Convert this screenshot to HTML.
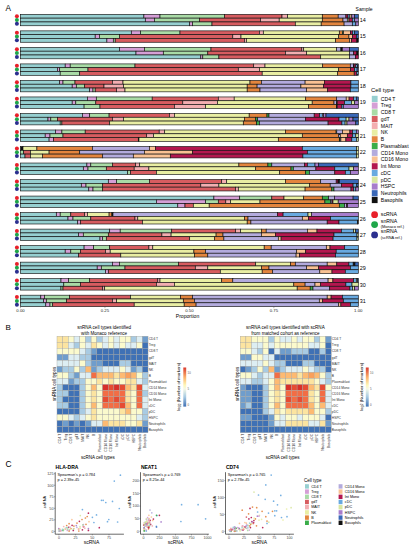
<!DOCTYPE html><html><head><meta charset="utf-8"><style>html,body{margin:0;padding:0;background:#fff;width:414px;height:550px;overflow:hidden}svg{display:block}text{font-family:"Liberation Sans",sans-serif}</style></head><body>
<svg width="414" height="550" viewBox="0 0 414 550">
<rect width="414" height="550" fill="#fff"/>
<text x="5.60" y="10.95" font-size="8.2" fill="#000">A</text>
<rect x="20.50" y="14.35" width="123.40" height="3.8" fill="#96CFD0" stroke="#111" stroke-width="0.65"/>
<rect x="143.90" y="14.35" width="16.10" height="3.8" fill="#D59FD6" stroke="#111" stroke-width="0.65"/>
<rect x="160.00" y="14.35" width="64.40" height="3.8" fill="#A9DBA6" stroke="#111" stroke-width="0.65"/>
<rect x="224.40" y="14.35" width="57.60" height="3.8" fill="#D75C60" stroke="#111" stroke-width="0.65"/>
<rect x="282.00" y="14.35" width="5.60" height="3.8" fill="#F3AEB1" stroke="#111" stroke-width="0.65"/>
<rect x="287.60" y="14.35" width="34.70" height="3.8" fill="#E9EEA3" stroke="#111" stroke-width="0.65"/>
<rect x="322.30" y="14.35" width="15.90" height="3.8" fill="#E3853E" stroke="#111" stroke-width="0.65"/>
<rect x="338.20" y="14.35" width="7.70" height="3.8" fill="#B3ABDD" stroke="#111" stroke-width="0.65"/>
<rect x="345.90" y="14.35" width="2.10" height="3.8" fill="#B3174F" stroke="#111" stroke-width="0.65"/>
<rect x="348.00" y="14.35" width="1.90" height="3.8" fill="#68A9E0" stroke="#111" stroke-width="0.65"/>
<rect x="349.90" y="14.35" width="1.90" height="3.8" fill="#F9C193" stroke="#111" stroke-width="0.65"/>
<rect x="351.80" y="14.35" width="2.90" height="3.8" fill="#A77DCC" stroke="#111" stroke-width="0.65"/>
<rect x="354.70" y="14.35" width="3.60" height="3.8" fill="#3A68B8" stroke="#111" stroke-width="0.65"/>
<rect x="20.50" y="18.15" width="124.80" height="3.8" fill="#96CFD0" stroke="#111" stroke-width="0.65"/>
<rect x="145.30" y="18.15" width="9.10" height="3.8" fill="#D59FD6" stroke="#111" stroke-width="0.65"/>
<rect x="154.40" y="18.15" width="45.00" height="3.8" fill="#A9DBA6" stroke="#111" stroke-width="0.65"/>
<rect x="199.40" y="18.15" width="61.10" height="3.8" fill="#D75C60" stroke="#111" stroke-width="0.65"/>
<rect x="260.50" y="18.15" width="18.70" height="3.8" fill="#F3AEB1" stroke="#111" stroke-width="0.65"/>
<rect x="279.20" y="18.15" width="43.10" height="3.8" fill="#E9EEA3" stroke="#111" stroke-width="0.65"/>
<rect x="322.30" y="18.15" width="20.70" height="3.8" fill="#E3853E" stroke="#111" stroke-width="0.65"/>
<rect x="343.00" y="18.15" width="4.30" height="3.8" fill="#B3ABDD" stroke="#111" stroke-width="0.65"/>
<rect x="347.30" y="18.15" width="1.70" height="3.8" fill="#D8E6A0" stroke="#111" stroke-width="0.65"/>
<rect x="349.00" y="18.15" width="3.30" height="3.8" fill="#B3174F" stroke="#111" stroke-width="0.65"/>
<rect x="352.30" y="18.15" width="2.40" height="3.8" fill="#68A9E0" stroke="#111" stroke-width="0.65"/>
<rect x="354.70" y="18.15" width="3.60" height="3.8" fill="#A77DCC" stroke="#111" stroke-width="0.65"/>
<rect x="20.50" y="21.95" width="169.20" height="3.8" fill="#96CFD0" stroke="#111" stroke-width="0.65"/>
<rect x="189.70" y="21.95" width="2.80" height="3.8" fill="#D59FD6" stroke="#111" stroke-width="0.65"/>
<rect x="192.50" y="21.95" width="19.50" height="3.8" fill="#A9DBA6" stroke="#111" stroke-width="0.65"/>
<rect x="212.00" y="21.95" width="83.30" height="3.8" fill="#D75C60" stroke="#111" stroke-width="0.65"/>
<rect x="295.30" y="21.95" width="25.90" height="3.8" fill="#E9EEA3" stroke="#111" stroke-width="0.65"/>
<rect x="321.20" y="21.95" width="22.90" height="3.8" fill="#E3853E" stroke="#111" stroke-width="0.65"/>
<rect x="344.10" y="21.95" width="8.20" height="3.8" fill="#B3ABDD" stroke="#111" stroke-width="0.65"/>
<rect x="352.30" y="21.95" width="3.50" height="3.8" fill="#68A9E0" stroke="#111" stroke-width="0.65"/>
<rect x="355.80" y="21.95" width="2.50" height="3.8" fill="#A77DCC" stroke="#111" stroke-width="0.65"/>
<circle cx="16.9" cy="16.25" r="2.0" fill="#E8202A"/>
<circle cx="16.9" cy="20.05" r="2.0" fill="#1FA64A"/>
<circle cx="16.9" cy="23.85" r="2.0" fill="#2B2F8F"/>
<text x="359.80" y="21.55" font-size="5.4" fill="#000">14</text>
<rect x="20.50" y="30.87" width="110.80" height="3.8" fill="#96CFD0" stroke="#111" stroke-width="0.65"/>
<rect x="131.30" y="30.87" width="9.30" height="3.8" fill="#D59FD6" stroke="#111" stroke-width="0.65"/>
<rect x="140.60" y="30.87" width="39.40" height="3.8" fill="#A9DBA6" stroke="#111" stroke-width="0.65"/>
<rect x="180.00" y="30.87" width="79.40" height="3.8" fill="#D75C60" stroke="#111" stroke-width="0.65"/>
<rect x="259.40" y="30.87" width="3.90" height="3.8" fill="#F3AEB1" stroke="#111" stroke-width="0.65"/>
<rect x="263.30" y="30.87" width="76.00" height="3.8" fill="#E9EEA3" stroke="#111" stroke-width="0.65"/>
<rect x="339.30" y="30.87" width="3.20" height="3.8" fill="#E3853E" stroke="#111" stroke-width="0.65"/>
<rect x="342.50" y="30.87" width="1.00" height="3.8" fill="#3AAD4A" stroke="#111" stroke-width="0.65"/>
<rect x="343.50" y="30.87" width="6.90" height="3.8" fill="#F9C193" stroke="#111" stroke-width="0.65"/>
<rect x="350.40" y="30.87" width="2.10" height="3.8" fill="#B3174F" stroke="#111" stroke-width="0.65"/>
<rect x="352.50" y="30.87" width="2.20" height="3.8" fill="#68A9E0" stroke="#111" stroke-width="0.65"/>
<rect x="354.70" y="30.87" width="3.60" height="3.8" fill="#3A68B8" stroke="#111" stroke-width="0.65"/>
<rect x="20.50" y="34.67" width="74.70" height="3.8" fill="#96CFD0" stroke="#111" stroke-width="0.65"/>
<rect x="95.20" y="34.67" width="4.20" height="3.8" fill="#D59FD6" stroke="#111" stroke-width="0.65"/>
<rect x="99.40" y="34.67" width="20.00" height="3.8" fill="#A9DBA6" stroke="#111" stroke-width="0.65"/>
<rect x="119.40" y="34.67" width="113.40" height="3.8" fill="#D75C60" stroke="#111" stroke-width="0.65"/>
<rect x="232.80" y="34.67" width="8.20" height="3.8" fill="#F3AEB1" stroke="#111" stroke-width="0.65"/>
<rect x="241.00" y="34.67" width="97.70" height="3.8" fill="#E9EEA3" stroke="#111" stroke-width="0.65"/>
<rect x="338.70" y="34.67" width="10.20" height="3.8" fill="#E3853E" stroke="#111" stroke-width="0.65"/>
<rect x="348.90" y="34.67" width="3.70" height="3.8" fill="#F9C193" stroke="#111" stroke-width="0.65"/>
<rect x="352.60" y="34.67" width="3.70" height="3.8" fill="#B3174F" stroke="#111" stroke-width="0.65"/>
<rect x="356.30" y="34.67" width="2.00" height="3.8" fill="#3A68B8" stroke="#111" stroke-width="0.65"/>
<rect x="20.50" y="38.47" width="86.40" height="3.8" fill="#96CFD0" stroke="#111" stroke-width="0.65"/>
<rect x="106.90" y="38.47" width="6.40" height="3.8" fill="#D59FD6" stroke="#111" stroke-width="0.65"/>
<rect x="113.30" y="38.47" width="1.90" height="3.8" fill="#A9DBA6" stroke="#111" stroke-width="0.65"/>
<rect x="115.20" y="38.47" width="129.20" height="3.8" fill="#D75C60" stroke="#111" stroke-width="0.65"/>
<rect x="244.40" y="38.47" width="2.00" height="3.8" fill="#F3AEB1" stroke="#111" stroke-width="0.65"/>
<rect x="246.40" y="38.47" width="89.20" height="3.8" fill="#E9EEA3" stroke="#111" stroke-width="0.65"/>
<rect x="335.60" y="38.47" width="13.80" height="3.8" fill="#E3853E" stroke="#111" stroke-width="0.65"/>
<rect x="349.40" y="38.47" width="2.10" height="3.8" fill="#F9C193" stroke="#111" stroke-width="0.65"/>
<rect x="351.50" y="38.47" width="5.30" height="3.8" fill="#B3174F" stroke="#111" stroke-width="0.65"/>
<rect x="356.80" y="38.47" width="1.50" height="3.8" fill="#111111" stroke="#111" stroke-width="0.65"/>
<circle cx="16.9" cy="32.77" r="2.0" fill="#E8202A"/>
<circle cx="16.9" cy="36.57" r="2.0" fill="#1FA64A"/>
<circle cx="16.9" cy="40.37" r="2.0" fill="#2B2F8F"/>
<text x="359.80" y="38.13" font-size="5.4" fill="#000">15</text>
<rect x="20.50" y="47.39" width="98.90" height="3.8" fill="#96CFD0" stroke="#111" stroke-width="0.65"/>
<rect x="119.40" y="47.39" width="25.00" height="3.8" fill="#D59FD6" stroke="#111" stroke-width="0.65"/>
<rect x="144.40" y="47.39" width="66.60" height="3.8" fill="#A9DBA6" stroke="#111" stroke-width="0.65"/>
<rect x="211.00" y="47.39" width="90.80" height="3.8" fill="#D75C60" stroke="#111" stroke-width="0.65"/>
<rect x="301.80" y="47.39" width="1.90" height="3.8" fill="#F3AEB1" stroke="#111" stroke-width="0.65"/>
<rect x="303.70" y="47.39" width="32.90" height="3.8" fill="#E9EEA3" stroke="#111" stroke-width="0.65"/>
<rect x="336.60" y="47.39" width="4.30" height="3.8" fill="#B3ABDD" stroke="#111" stroke-width="0.65"/>
<rect x="340.90" y="47.39" width="1.40" height="3.8" fill="#111111" stroke="#111" stroke-width="0.65"/>
<rect x="342.30" y="47.39" width="7.10" height="3.8" fill="#A77DCC" stroke="#111" stroke-width="0.65"/>
<rect x="349.40" y="47.39" width="8.90" height="3.8" fill="#3A68B8" stroke="#111" stroke-width="0.65"/>
<rect x="20.50" y="51.19" width="115.50" height="3.8" fill="#96CFD0" stroke="#111" stroke-width="0.65"/>
<rect x="136.00" y="51.19" width="27.30" height="3.8" fill="#D59FD6" stroke="#111" stroke-width="0.65"/>
<rect x="163.30" y="51.19" width="44.50" height="3.8" fill="#A9DBA6" stroke="#111" stroke-width="0.65"/>
<rect x="207.80" y="51.19" width="77.60" height="3.8" fill="#D75C60" stroke="#111" stroke-width="0.65"/>
<rect x="285.40" y="51.19" width="21.20" height="3.8" fill="#F3AEB1" stroke="#111" stroke-width="0.65"/>
<rect x="306.60" y="51.19" width="42.80" height="3.8" fill="#E9EEA3" stroke="#111" stroke-width="0.65"/>
<rect x="349.40" y="51.19" width="4.20" height="3.8" fill="#B3ABDD" stroke="#111" stroke-width="0.65"/>
<rect x="353.60" y="51.19" width="3.20" height="3.8" fill="#B3174F" stroke="#111" stroke-width="0.65"/>
<rect x="356.80" y="51.19" width="1.50" height="3.8" fill="#111111" stroke="#111" stroke-width="0.65"/>
<rect x="20.50" y="54.99" width="180.30" height="3.8" fill="#96CFD0" stroke="#111" stroke-width="0.65"/>
<rect x="200.80" y="54.99" width="2.00" height="3.8" fill="#D59FD6" stroke="#111" stroke-width="0.65"/>
<rect x="202.80" y="54.99" width="16.10" height="3.8" fill="#A9DBA6" stroke="#111" stroke-width="0.65"/>
<rect x="218.90" y="54.99" width="101.80" height="3.8" fill="#D75C60" stroke="#111" stroke-width="0.65"/>
<rect x="320.70" y="54.99" width="28.70" height="3.8" fill="#E9EEA3" stroke="#111" stroke-width="0.65"/>
<rect x="349.40" y="54.99" width="6.00" height="3.8" fill="#B3ABDD" stroke="#111" stroke-width="0.65"/>
<rect x="355.40" y="54.99" width="2.90" height="3.8" fill="#B3174F" stroke="#111" stroke-width="0.65"/>
<circle cx="16.9" cy="49.29" r="2.0" fill="#E8202A"/>
<circle cx="16.9" cy="53.09" r="2.0" fill="#1FA64A"/>
<circle cx="16.9" cy="56.89" r="2.0" fill="#2B2F8F"/>
<text x="359.80" y="54.71" font-size="5.4" fill="#000">16</text>
<rect x="20.50" y="63.91" width="44.70" height="3.8" fill="#96CFD0" stroke="#111" stroke-width="0.65"/>
<rect x="65.20" y="63.91" width="5.00" height="3.8" fill="#D59FD6" stroke="#111" stroke-width="0.65"/>
<rect x="70.20" y="63.91" width="64.80" height="3.8" fill="#A9DBA6" stroke="#111" stroke-width="0.65"/>
<rect x="135.00" y="63.91" width="118.70" height="3.8" fill="#D75C60" stroke="#111" stroke-width="0.65"/>
<rect x="253.70" y="63.91" width="11.30" height="3.8" fill="#F3AEB1" stroke="#111" stroke-width="0.65"/>
<rect x="265.00" y="63.91" width="57.70" height="3.8" fill="#E9EEA3" stroke="#111" stroke-width="0.65"/>
<rect x="322.70" y="63.91" width="27.60" height="3.8" fill="#E3853E" stroke="#111" stroke-width="0.65"/>
<rect x="350.30" y="63.91" width="3.10" height="3.8" fill="#B3ABDD" stroke="#111" stroke-width="0.65"/>
<rect x="353.40" y="63.91" width="0.60" height="3.8" fill="#111111" stroke="#111" stroke-width="0.65"/>
<rect x="354.00" y="63.91" width="1.80" height="3.8" fill="#B3174F" stroke="#111" stroke-width="0.65"/>
<rect x="355.80" y="63.91" width="1.80" height="3.8" fill="#68A9E0" stroke="#111" stroke-width="0.65"/>
<rect x="357.60" y="63.91" width="0.70" height="3.8" fill="#3A68B8" stroke="#111" stroke-width="0.65"/>
<rect x="20.50" y="67.71" width="36.90" height="3.8" fill="#96CFD0" stroke="#111" stroke-width="0.65"/>
<rect x="57.40" y="67.71" width="2.30" height="3.8" fill="#D59FD6" stroke="#111" stroke-width="0.65"/>
<rect x="59.70" y="67.71" width="28.30" height="3.8" fill="#A9DBA6" stroke="#111" stroke-width="0.65"/>
<rect x="88.00" y="67.71" width="150.30" height="3.8" fill="#D75C60" stroke="#111" stroke-width="0.65"/>
<rect x="238.30" y="67.71" width="21.10" height="3.8" fill="#F3AEB1" stroke="#111" stroke-width="0.65"/>
<rect x="259.40" y="67.71" width="79.30" height="3.8" fill="#E9EEA3" stroke="#111" stroke-width="0.65"/>
<rect x="338.70" y="67.71" width="11.70" height="3.8" fill="#E3853E" stroke="#111" stroke-width="0.65"/>
<rect x="350.40" y="67.71" width="4.30" height="3.8" fill="#B3174F" stroke="#111" stroke-width="0.65"/>
<rect x="354.70" y="67.71" width="2.40" height="3.8" fill="#68A9E0" stroke="#111" stroke-width="0.65"/>
<rect x="357.10" y="67.71" width="1.20" height="3.8" fill="#3A68B8" stroke="#111" stroke-width="0.65"/>
<rect x="20.50" y="71.51" width="39.70" height="3.8" fill="#96CFD0" stroke="#111" stroke-width="0.65"/>
<rect x="60.20" y="71.51" width="19.50" height="3.8" fill="#A9DBA6" stroke="#111" stroke-width="0.65"/>
<rect x="79.70" y="71.51" width="182.50" height="3.8" fill="#D75C60" stroke="#111" stroke-width="0.65"/>
<rect x="262.20" y="71.51" width="75.50" height="3.8" fill="#E9EEA3" stroke="#111" stroke-width="0.65"/>
<rect x="337.70" y="71.51" width="16.50" height="3.8" fill="#E3853E" stroke="#111" stroke-width="0.65"/>
<rect x="354.20" y="71.51" width="2.60" height="3.8" fill="#B3174F" stroke="#111" stroke-width="0.65"/>
<rect x="356.80" y="71.51" width="1.50" height="3.8" fill="#68A9E0" stroke="#111" stroke-width="0.65"/>
<circle cx="16.9" cy="65.81" r="2.0" fill="#E8202A"/>
<circle cx="16.9" cy="69.61" r="2.0" fill="#1FA64A"/>
<circle cx="16.9" cy="73.41" r="2.0" fill="#2B2F8F"/>
<text x="359.80" y="71.29" font-size="5.4" fill="#000">17</text>
<rect x="20.50" y="80.43" width="39.20" height="3.8" fill="#96CFD0" stroke="#111" stroke-width="0.65"/>
<rect x="59.70" y="80.43" width="3.30" height="3.8" fill="#D59FD6" stroke="#111" stroke-width="0.65"/>
<rect x="63.00" y="80.43" width="12.00" height="3.8" fill="#A9DBA6" stroke="#111" stroke-width="0.65"/>
<rect x="75.00" y="80.43" width="37.40" height="3.8" fill="#D75C60" stroke="#111" stroke-width="0.65"/>
<rect x="112.40" y="80.43" width="10.60" height="3.8" fill="#F3AEB1" stroke="#111" stroke-width="0.65"/>
<rect x="123.00" y="80.43" width="127.00" height="3.8" fill="#E9EEA3" stroke="#111" stroke-width="0.65"/>
<rect x="250.00" y="80.43" width="11.40" height="3.8" fill="#E3853E" stroke="#111" stroke-width="0.65"/>
<rect x="261.40" y="80.43" width="43.70" height="3.8" fill="#B3ABDD" stroke="#111" stroke-width="0.65"/>
<rect x="305.10" y="80.43" width="19.30" height="3.8" fill="#F9C193" stroke="#111" stroke-width="0.65"/>
<rect x="324.40" y="80.43" width="26.50" height="3.8" fill="#B3174F" stroke="#111" stroke-width="0.65"/>
<rect x="350.90" y="80.43" width="7.40" height="3.8" fill="#68A9E0" stroke="#111" stroke-width="0.65"/>
<rect x="20.50" y="84.23" width="51.70" height="3.8" fill="#96CFD0" stroke="#111" stroke-width="0.65"/>
<rect x="72.20" y="84.23" width="4.10" height="3.8" fill="#D59FD6" stroke="#111" stroke-width="0.65"/>
<rect x="76.30" y="84.23" width="8.40" height="3.8" fill="#A9DBA6" stroke="#111" stroke-width="0.65"/>
<rect x="84.70" y="84.23" width="19.30" height="3.8" fill="#D75C60" stroke="#111" stroke-width="0.65"/>
<rect x="104.00" y="84.23" width="19.50" height="3.8" fill="#F3AEB1" stroke="#111" stroke-width="0.65"/>
<rect x="123.50" y="84.23" width="123.70" height="3.8" fill="#E9EEA3" stroke="#111" stroke-width="0.65"/>
<rect x="247.20" y="84.23" width="9.90" height="3.8" fill="#E3853E" stroke="#111" stroke-width="0.65"/>
<rect x="257.10" y="84.23" width="43.80" height="3.8" fill="#B3ABDD" stroke="#111" stroke-width="0.65"/>
<rect x="300.90" y="84.23" width="22.60" height="3.8" fill="#F9C193" stroke="#111" stroke-width="0.65"/>
<rect x="323.50" y="84.23" width="27.40" height="3.8" fill="#B3174F" stroke="#111" stroke-width="0.65"/>
<rect x="350.90" y="84.23" width="7.40" height="3.8" fill="#68A9E0" stroke="#111" stroke-width="0.65"/>
<rect x="20.50" y="88.03" width="69.20" height="3.8" fill="#96CFD0" stroke="#111" stroke-width="0.65"/>
<rect x="89.70" y="88.03" width="3.30" height="3.8" fill="#D59FD6" stroke="#111" stroke-width="0.65"/>
<rect x="93.00" y="88.03" width="2.20" height="3.8" fill="#A9DBA6" stroke="#111" stroke-width="0.65"/>
<rect x="95.20" y="88.03" width="21.40" height="3.8" fill="#D75C60" stroke="#111" stroke-width="0.65"/>
<rect x="116.60" y="88.03" width="8.40" height="3.8" fill="#F3AEB1" stroke="#111" stroke-width="0.65"/>
<rect x="125.00" y="88.03" width="122.20" height="3.8" fill="#E9EEA3" stroke="#111" stroke-width="0.65"/>
<rect x="247.20" y="88.03" width="12.80" height="3.8" fill="#E3853E" stroke="#111" stroke-width="0.65"/>
<rect x="260.00" y="88.03" width="46.60" height="3.8" fill="#B3ABDD" stroke="#111" stroke-width="0.65"/>
<rect x="306.60" y="88.03" width="21.10" height="3.8" fill="#F9C193" stroke="#111" stroke-width="0.65"/>
<rect x="327.70" y="88.03" width="22.60" height="3.8" fill="#B3174F" stroke="#111" stroke-width="0.65"/>
<rect x="350.30" y="88.03" width="8.00" height="3.8" fill="#68A9E0" stroke="#111" stroke-width="0.65"/>
<circle cx="16.9" cy="82.33" r="2.0" fill="#E8202A"/>
<circle cx="16.9" cy="86.13" r="2.0" fill="#1FA64A"/>
<circle cx="16.9" cy="89.93" r="2.0" fill="#2B2F8F"/>
<text x="359.80" y="87.87" font-size="5.4" fill="#000">18</text>
<rect x="20.50" y="96.95" width="66.90" height="3.8" fill="#96CFD0" stroke="#111" stroke-width="0.65"/>
<rect x="87.40" y="96.95" width="8.90" height="3.8" fill="#D59FD6" stroke="#111" stroke-width="0.65"/>
<rect x="96.30" y="96.95" width="55.90" height="3.8" fill="#A9DBA6" stroke="#111" stroke-width="0.65"/>
<rect x="152.20" y="96.95" width="66.10" height="3.8" fill="#D75C60" stroke="#111" stroke-width="0.65"/>
<rect x="218.30" y="96.95" width="15.90" height="3.8" fill="#F3AEB1" stroke="#111" stroke-width="0.65"/>
<rect x="234.20" y="96.95" width="71.50" height="3.8" fill="#E9EEA3" stroke="#111" stroke-width="0.65"/>
<rect x="305.70" y="96.95" width="30.90" height="3.8" fill="#E3853E" stroke="#111" stroke-width="0.65"/>
<rect x="336.60" y="96.95" width="9.60" height="3.8" fill="#B3ABDD" stroke="#111" stroke-width="0.65"/>
<rect x="346.20" y="96.95" width="2.90" height="3.8" fill="#F9C193" stroke="#111" stroke-width="0.65"/>
<rect x="349.10" y="96.95" width="4.50" height="3.8" fill="#B3174F" stroke="#111" stroke-width="0.65"/>
<rect x="353.60" y="96.95" width="2.70" height="3.8" fill="#68A9E0" stroke="#111" stroke-width="0.65"/>
<rect x="356.30" y="96.95" width="2.00" height="3.8" fill="#3A68B8" stroke="#111" stroke-width="0.65"/>
<rect x="20.50" y="100.75" width="51.70" height="3.8" fill="#96CFD0" stroke="#111" stroke-width="0.65"/>
<rect x="72.20" y="100.75" width="3.60" height="3.8" fill="#D59FD6" stroke="#111" stroke-width="0.65"/>
<rect x="75.80" y="100.75" width="20.00" height="3.8" fill="#A9DBA6" stroke="#111" stroke-width="0.65"/>
<rect x="95.80" y="100.75" width="87.00" height="3.8" fill="#D75C60" stroke="#111" stroke-width="0.65"/>
<rect x="182.80" y="100.75" width="34.70" height="3.8" fill="#F3AEB1" stroke="#111" stroke-width="0.65"/>
<rect x="217.50" y="100.75" width="94.70" height="3.8" fill="#E9EEA3" stroke="#111" stroke-width="0.65"/>
<rect x="312.20" y="100.75" width="21.80" height="3.8" fill="#E3853E" stroke="#111" stroke-width="0.65"/>
<rect x="334.00" y="100.75" width="2.60" height="3.8" fill="#B3ABDD" stroke="#111" stroke-width="0.65"/>
<rect x="336.60" y="100.75" width="0.60" height="3.8" fill="#111111" stroke="#111" stroke-width="0.65"/>
<rect x="337.20" y="100.75" width="7.40" height="3.8" fill="#B3174F" stroke="#111" stroke-width="0.65"/>
<rect x="344.60" y="100.75" width="6.90" height="3.8" fill="#68A9E0" stroke="#111" stroke-width="0.65"/>
<rect x="351.50" y="100.75" width="3.20" height="3.8" fill="#D8E6A0" stroke="#111" stroke-width="0.65"/>
<rect x="354.70" y="100.75" width="3.60" height="3.8" fill="#A77DCC" stroke="#111" stroke-width="0.65"/>
<rect x="20.50" y="104.55" width="63.60" height="3.8" fill="#96CFD0" stroke="#111" stroke-width="0.65"/>
<rect x="84.10" y="104.55" width="15.90" height="3.8" fill="#A9DBA6" stroke="#111" stroke-width="0.65"/>
<rect x="100.00" y="104.55" width="74.40" height="3.8" fill="#D75C60" stroke="#111" stroke-width="0.65"/>
<rect x="174.40" y="104.55" width="31.20" height="3.8" fill="#F3AEB1" stroke="#111" stroke-width="0.65"/>
<rect x="205.60" y="104.55" width="102.90" height="3.8" fill="#E9EEA3" stroke="#111" stroke-width="0.65"/>
<rect x="308.50" y="104.55" width="28.10" height="3.8" fill="#E3853E" stroke="#111" stroke-width="0.65"/>
<rect x="336.60" y="104.55" width="0.60" height="3.8" fill="#111111" stroke="#111" stroke-width="0.65"/>
<rect x="337.20" y="104.55" width="4.70" height="3.8" fill="#B3174F" stroke="#111" stroke-width="0.65"/>
<rect x="341.90" y="104.55" width="1.40" height="3.8" fill="#68A9E0" stroke="#111" stroke-width="0.65"/>
<rect x="343.30" y="104.55" width="15.00" height="3.8" fill="#A77DCC" stroke="#111" stroke-width="0.65"/>
<circle cx="16.9" cy="98.85" r="2.0" fill="#E8202A"/>
<circle cx="16.9" cy="102.65" r="2.0" fill="#1FA64A"/>
<circle cx="16.9" cy="106.45" r="2.0" fill="#2B2F8F"/>
<text x="359.80" y="104.45" font-size="5.4" fill="#000">19</text>
<rect x="20.50" y="113.47" width="61.90" height="3.8" fill="#96CFD0" stroke="#111" stroke-width="0.65"/>
<rect x="82.40" y="113.47" width="7.30" height="3.8" fill="#D59FD6" stroke="#111" stroke-width="0.65"/>
<rect x="89.70" y="113.47" width="19.40" height="3.8" fill="#A9DBA6" stroke="#111" stroke-width="0.65"/>
<rect x="109.10" y="113.47" width="60.30" height="3.8" fill="#D75C60" stroke="#111" stroke-width="0.65"/>
<rect x="169.40" y="113.47" width="5.00" height="3.8" fill="#F3AEB1" stroke="#111" stroke-width="0.65"/>
<rect x="174.40" y="113.47" width="74.80" height="3.8" fill="#E9EEA3" stroke="#111" stroke-width="0.65"/>
<rect x="249.20" y="113.47" width="17.80" height="3.8" fill="#E3853E" stroke="#111" stroke-width="0.65"/>
<rect x="267.00" y="113.47" width="2.00" height="3.8" fill="#3AAD4A" stroke="#111" stroke-width="0.65"/>
<rect x="269.00" y="113.47" width="45.20" height="3.8" fill="#B3ABDD" stroke="#111" stroke-width="0.65"/>
<rect x="314.20" y="113.47" width="5.40" height="3.8" fill="#B3174F" stroke="#111" stroke-width="0.65"/>
<rect x="319.60" y="113.47" width="2.70" height="3.8" fill="#68A9E0" stroke="#111" stroke-width="0.65"/>
<rect x="322.30" y="113.47" width="1.20" height="3.8" fill="#B3ABDD" stroke="#111" stroke-width="0.65"/>
<rect x="323.50" y="113.47" width="2.50" height="3.8" fill="#A77DCC" stroke="#111" stroke-width="0.65"/>
<rect x="326.00" y="113.47" width="32.30" height="3.8" fill="#3A68B8" stroke="#111" stroke-width="0.65"/>
<rect x="20.50" y="117.27" width="27.50" height="3.8" fill="#96CFD0" stroke="#111" stroke-width="0.65"/>
<rect x="48.00" y="117.27" width="2.80" height="3.8" fill="#D59FD6" stroke="#111" stroke-width="0.65"/>
<rect x="50.80" y="117.27" width="6.60" height="3.8" fill="#A9DBA6" stroke="#111" stroke-width="0.65"/>
<rect x="57.40" y="117.27" width="55.00" height="3.8" fill="#D75C60" stroke="#111" stroke-width="0.65"/>
<rect x="112.40" y="117.27" width="11.10" height="3.8" fill="#F3AEB1" stroke="#111" stroke-width="0.65"/>
<rect x="123.50" y="117.27" width="120.90" height="3.8" fill="#E9EEA3" stroke="#111" stroke-width="0.65"/>
<rect x="244.40" y="117.27" width="11.30" height="3.8" fill="#E3853E" stroke="#111" stroke-width="0.65"/>
<rect x="255.70" y="117.27" width="2.00" height="3.8" fill="#3AAD4A" stroke="#111" stroke-width="0.65"/>
<rect x="257.70" y="117.27" width="48.00" height="3.8" fill="#B3ABDD" stroke="#111" stroke-width="0.65"/>
<rect x="305.70" y="117.27" width="33.30" height="3.8" fill="#B3174F" stroke="#111" stroke-width="0.65"/>
<rect x="339.00" y="117.27" width="7.10" height="3.8" fill="#68A9E0" stroke="#111" stroke-width="0.65"/>
<rect x="346.10" y="117.27" width="2.90" height="3.8" fill="#D8E6A0" stroke="#111" stroke-width="0.65"/>
<rect x="349.00" y="117.27" width="4.00" height="3.8" fill="#A77DCC" stroke="#111" stroke-width="0.65"/>
<rect x="353.00" y="117.27" width="5.30" height="3.8" fill="#3A68B8" stroke="#111" stroke-width="0.65"/>
<rect x="20.50" y="121.07" width="39.70" height="3.8" fill="#96CFD0" stroke="#111" stroke-width="0.65"/>
<rect x="60.20" y="121.07" width="1.70" height="3.8" fill="#A9DBA6" stroke="#111" stroke-width="0.65"/>
<rect x="61.90" y="121.07" width="47.80" height="3.8" fill="#D75C60" stroke="#111" stroke-width="0.65"/>
<rect x="109.70" y="121.07" width="133.60" height="3.8" fill="#E9EEA3" stroke="#111" stroke-width="0.65"/>
<rect x="243.30" y="121.07" width="13.30" height="3.8" fill="#E3853E" stroke="#111" stroke-width="0.65"/>
<rect x="256.60" y="121.07" width="2.80" height="3.8" fill="#3AAD4A" stroke="#111" stroke-width="0.65"/>
<rect x="259.40" y="121.07" width="68.70" height="3.8" fill="#B3ABDD" stroke="#111" stroke-width="0.65"/>
<rect x="328.10" y="121.07" width="13.80" height="3.8" fill="#B3174F" stroke="#111" stroke-width="0.65"/>
<rect x="341.90" y="121.07" width="3.20" height="3.8" fill="#68A9E0" stroke="#111" stroke-width="0.65"/>
<rect x="345.10" y="121.07" width="1.90" height="3.8" fill="#D8E6A0" stroke="#111" stroke-width="0.65"/>
<rect x="347.00" y="121.07" width="8.80" height="3.8" fill="#A77DCC" stroke="#111" stroke-width="0.65"/>
<rect x="355.80" y="121.07" width="2.50" height="3.8" fill="#3A68B8" stroke="#111" stroke-width="0.65"/>
<circle cx="16.9" cy="115.37" r="2.0" fill="#E8202A"/>
<circle cx="16.9" cy="119.17" r="2.0" fill="#1FA64A"/>
<circle cx="16.9" cy="122.97" r="2.0" fill="#2B2F8F"/>
<text x="359.80" y="121.03" font-size="5.4" fill="#000">20</text>
<rect x="20.50" y="129.99" width="35.00" height="3.8" fill="#96CFD0" stroke="#111" stroke-width="0.65"/>
<rect x="55.50" y="129.99" width="6.40" height="3.8" fill="#D59FD6" stroke="#111" stroke-width="0.65"/>
<rect x="61.90" y="129.99" width="23.30" height="3.8" fill="#A9DBA6" stroke="#111" stroke-width="0.65"/>
<rect x="85.20" y="129.99" width="74.00" height="3.8" fill="#D75C60" stroke="#111" stroke-width="0.65"/>
<rect x="159.20" y="129.99" width="5.50" height="3.8" fill="#F3AEB1" stroke="#111" stroke-width="0.65"/>
<rect x="164.70" y="129.99" width="120.70" height="3.8" fill="#E9EEA3" stroke="#111" stroke-width="0.65"/>
<rect x="285.40" y="129.99" width="50.70" height="3.8" fill="#E3853E" stroke="#111" stroke-width="0.65"/>
<rect x="336.10" y="129.99" width="0.70" height="3.8" fill="#3AAD4A" stroke="#111" stroke-width="0.65"/>
<rect x="336.80" y="129.99" width="5.70" height="3.8" fill="#B3ABDD" stroke="#111" stroke-width="0.65"/>
<rect x="342.50" y="129.99" width="7.40" height="3.8" fill="#F9C193" stroke="#111" stroke-width="0.65"/>
<rect x="349.90" y="129.99" width="2.70" height="3.8" fill="#B3174F" stroke="#111" stroke-width="0.65"/>
<rect x="352.60" y="129.99" width="3.70" height="3.8" fill="#68A9E0" stroke="#111" stroke-width="0.65"/>
<rect x="356.30" y="129.99" width="2.00" height="3.8" fill="#A77DCC" stroke="#111" stroke-width="0.65"/>
<rect x="20.50" y="133.79" width="24.70" height="3.8" fill="#96CFD0" stroke="#111" stroke-width="0.65"/>
<rect x="45.20" y="133.79" width="4.80" height="3.8" fill="#D59FD6" stroke="#111" stroke-width="0.65"/>
<rect x="50.00" y="133.79" width="13.00" height="3.8" fill="#A9DBA6" stroke="#111" stroke-width="0.65"/>
<rect x="63.00" y="133.79" width="83.70" height="3.8" fill="#D75C60" stroke="#111" stroke-width="0.65"/>
<rect x="146.70" y="133.79" width="6.90" height="3.8" fill="#F3AEB1" stroke="#111" stroke-width="0.65"/>
<rect x="153.60" y="133.79" width="148.70" height="3.8" fill="#E9EEA3" stroke="#111" stroke-width="0.65"/>
<rect x="302.30" y="133.79" width="36.40" height="3.8" fill="#E3853E" stroke="#111" stroke-width="0.65"/>
<rect x="338.70" y="133.79" width="1.60" height="3.8" fill="#B3ABDD" stroke="#111" stroke-width="0.65"/>
<rect x="340.30" y="133.79" width="7.00" height="3.8" fill="#F9C193" stroke="#111" stroke-width="0.65"/>
<rect x="347.30" y="133.79" width="5.30" height="3.8" fill="#B3174F" stroke="#111" stroke-width="0.65"/>
<rect x="352.60" y="133.79" width="3.20" height="3.8" fill="#68A9E0" stroke="#111" stroke-width="0.65"/>
<rect x="355.80" y="133.79" width="2.50" height="3.8" fill="#D8E6A0" stroke="#111" stroke-width="0.65"/>
<rect x="20.50" y="137.59" width="28.60" height="3.8" fill="#96CFD0" stroke="#111" stroke-width="0.65"/>
<rect x="49.10" y="137.59" width="4.50" height="3.8" fill="#D59FD6" stroke="#111" stroke-width="0.65"/>
<rect x="53.60" y="137.59" width="84.70" height="3.8" fill="#D75C60" stroke="#111" stroke-width="0.65"/>
<rect x="138.30" y="137.59" width="0.70" height="3.8" fill="#111111" stroke="#111" stroke-width="0.65"/>
<rect x="139.00" y="137.59" width="139.30" height="3.8" fill="#E9EEA3" stroke="#111" stroke-width="0.65"/>
<rect x="278.30" y="137.59" width="61.00" height="3.8" fill="#E3853E" stroke="#111" stroke-width="0.65"/>
<rect x="339.30" y="137.59" width="0.70" height="3.8" fill="#3AAD4A" stroke="#111" stroke-width="0.65"/>
<rect x="340.00" y="137.59" width="0.90" height="3.8" fill="#B3ABDD" stroke="#111" stroke-width="0.65"/>
<rect x="340.90" y="137.59" width="5.00" height="3.8" fill="#F9C193" stroke="#111" stroke-width="0.65"/>
<rect x="345.90" y="137.59" width="5.90" height="3.8" fill="#B3174F" stroke="#111" stroke-width="0.65"/>
<rect x="351.80" y="137.59" width="5.00" height="3.8" fill="#68A9E0" stroke="#111" stroke-width="0.65"/>
<rect x="356.80" y="137.59" width="1.50" height="3.8" fill="#D8E6A0" stroke="#111" stroke-width="0.65"/>
<circle cx="16.9" cy="131.89" r="2.0" fill="#E8202A"/>
<circle cx="16.9" cy="135.69" r="2.0" fill="#1FA64A"/>
<circle cx="16.9" cy="139.49" r="2.0" fill="#2B2F8F"/>
<text x="359.80" y="137.61" font-size="5.4" fill="#000">21</text>
<rect x="20.50" y="146.51" width="2.50" height="3.8" fill="#111111" stroke="#111" stroke-width="0.65"/>
<rect x="23.00" y="146.51" width="13.90" height="3.8" fill="#E9EEA3" stroke="#111" stroke-width="0.65"/>
<rect x="36.90" y="146.51" width="55.50" height="3.8" fill="#E3853E" stroke="#111" stroke-width="0.65"/>
<rect x="92.40" y="146.51" width="57.00" height="3.8" fill="#B3ABDD" stroke="#111" stroke-width="0.65"/>
<rect x="149.40" y="146.51" width="6.20" height="3.8" fill="#F9C193" stroke="#111" stroke-width="0.65"/>
<rect x="155.60" y="146.51" width="146.70" height="3.8" fill="#B3174F" stroke="#111" stroke-width="0.65"/>
<rect x="302.30" y="146.51" width="54.20" height="3.8" fill="#68A9E0" stroke="#111" stroke-width="0.65"/>
<rect x="356.50" y="146.51" width="1.80" height="3.8" fill="#D8E6A0" stroke="#111" stroke-width="0.65"/>
<rect x="20.50" y="150.31" width="3.10" height="3.8" fill="#A9DBA6" stroke="#111" stroke-width="0.65"/>
<rect x="23.60" y="150.31" width="6.90" height="3.8" fill="#D75C60" stroke="#111" stroke-width="0.65"/>
<rect x="30.50" y="150.31" width="18.60" height="3.8" fill="#E9EEA3" stroke="#111" stroke-width="0.65"/>
<rect x="49.10" y="150.31" width="30.60" height="3.8" fill="#E3853E" stroke="#111" stroke-width="0.65"/>
<rect x="79.70" y="150.31" width="64.70" height="3.8" fill="#B3ABDD" stroke="#111" stroke-width="0.65"/>
<rect x="144.40" y="150.31" width="48.10" height="3.8" fill="#F9C193" stroke="#111" stroke-width="0.65"/>
<rect x="192.50" y="150.31" width="114.90" height="3.8" fill="#B3174F" stroke="#111" stroke-width="0.65"/>
<rect x="307.40" y="150.31" width="49.10" height="3.8" fill="#68A9E0" stroke="#111" stroke-width="0.65"/>
<rect x="356.50" y="150.31" width="1.80" height="3.8" fill="#D8E6A0" stroke="#111" stroke-width="0.65"/>
<rect x="20.50" y="154.11" width="4.50" height="3.8" fill="#96CFD0" stroke="#111" stroke-width="0.65"/>
<rect x="25.00" y="154.11" width="5.50" height="3.8" fill="#D75C60" stroke="#111" stroke-width="0.65"/>
<rect x="30.50" y="154.11" width="11.90" height="3.8" fill="#E9EEA3" stroke="#111" stroke-width="0.65"/>
<rect x="42.40" y="154.11" width="60.30" height="3.8" fill="#E3853E" stroke="#111" stroke-width="0.65"/>
<rect x="102.70" y="154.11" width="30.60" height="3.8" fill="#B3ABDD" stroke="#111" stroke-width="0.65"/>
<rect x="133.30" y="154.11" width="37.00" height="3.8" fill="#F9C193" stroke="#111" stroke-width="0.65"/>
<rect x="170.30" y="154.11" width="132.60" height="3.8" fill="#B3174F" stroke="#111" stroke-width="0.65"/>
<rect x="302.90" y="154.11" width="53.60" height="3.8" fill="#68A9E0" stroke="#111" stroke-width="0.65"/>
<rect x="356.50" y="154.11" width="1.80" height="3.8" fill="#D8E6A0" stroke="#111" stroke-width="0.65"/>
<circle cx="16.9" cy="148.41" r="2.0" fill="#E8202A"/>
<circle cx="16.9" cy="152.21" r="2.0" fill="#1FA64A"/>
<circle cx="16.9" cy="156.01" r="2.0" fill="#2B2F8F"/>
<text x="359.80" y="154.19" font-size="5.4" fill="#000">22</text>
<rect x="20.50" y="163.03" width="66.40" height="3.8" fill="#96CFD0" stroke="#111" stroke-width="0.65"/>
<rect x="86.90" y="163.03" width="3.90" height="3.8" fill="#D59FD6" stroke="#111" stroke-width="0.65"/>
<rect x="90.80" y="163.03" width="21.60" height="3.8" fill="#A9DBA6" stroke="#111" stroke-width="0.65"/>
<rect x="112.40" y="163.03" width="23.20" height="3.8" fill="#D75C60" stroke="#111" stroke-width="0.65"/>
<rect x="135.60" y="163.03" width="4.10" height="3.8" fill="#F3AEB1" stroke="#111" stroke-width="0.65"/>
<rect x="139.70" y="163.03" width="99.20" height="3.8" fill="#E9EEA3" stroke="#111" stroke-width="0.65"/>
<rect x="238.90" y="163.03" width="29.00" height="3.8" fill="#E3853E" stroke="#111" stroke-width="0.65"/>
<rect x="267.90" y="163.03" width="3.90" height="3.8" fill="#3AAD4A" stroke="#111" stroke-width="0.65"/>
<rect x="271.80" y="163.03" width="32.80" height="3.8" fill="#B3ABDD" stroke="#111" stroke-width="0.65"/>
<rect x="304.60" y="163.03" width="2.80" height="3.8" fill="#B3174F" stroke="#111" stroke-width="0.65"/>
<rect x="307.40" y="163.03" width="7.60" height="3.8" fill="#68A9E0" stroke="#111" stroke-width="0.65"/>
<rect x="315.00" y="163.03" width="3.70" height="3.8" fill="#A77DCC" stroke="#111" stroke-width="0.65"/>
<rect x="318.70" y="163.03" width="39.60" height="3.8" fill="#3A68B8" stroke="#111" stroke-width="0.65"/>
<rect x="20.50" y="166.83" width="62.80" height="3.8" fill="#96CFD0" stroke="#111" stroke-width="0.65"/>
<rect x="83.30" y="166.83" width="4.70" height="3.8" fill="#D59FD6" stroke="#111" stroke-width="0.65"/>
<rect x="88.00" y="166.83" width="18.30" height="3.8" fill="#A9DBA6" stroke="#111" stroke-width="0.65"/>
<rect x="106.30" y="166.83" width="27.90" height="3.8" fill="#D75C60" stroke="#111" stroke-width="0.65"/>
<rect x="134.20" y="166.83" width="14.70" height="3.8" fill="#F3AEB1" stroke="#111" stroke-width="0.65"/>
<rect x="148.90" y="166.83" width="106.80" height="3.8" fill="#E9EEA3" stroke="#111" stroke-width="0.65"/>
<rect x="255.70" y="166.83" width="35.30" height="3.8" fill="#E3853E" stroke="#111" stroke-width="0.65"/>
<rect x="291.00" y="166.83" width="2.30" height="3.8" fill="#3AAD4A" stroke="#111" stroke-width="0.65"/>
<rect x="293.30" y="166.83" width="22.60" height="3.8" fill="#B3ABDD" stroke="#111" stroke-width="0.65"/>
<rect x="315.90" y="166.83" width="18.90" height="3.8" fill="#B3174F" stroke="#111" stroke-width="0.65"/>
<rect x="334.80" y="166.83" width="14.20" height="3.8" fill="#68A9E0" stroke="#111" stroke-width="0.65"/>
<rect x="349.00" y="166.83" width="4.50" height="3.8" fill="#D8E6A0" stroke="#111" stroke-width="0.65"/>
<rect x="353.50" y="166.83" width="4.80" height="3.8" fill="#A77DCC" stroke="#111" stroke-width="0.65"/>
<rect x="20.50" y="170.63" width="107.20" height="3.8" fill="#96CFD0" stroke="#111" stroke-width="0.65"/>
<rect x="127.70" y="170.63" width="2.80" height="3.8" fill="#A9DBA6" stroke="#111" stroke-width="0.65"/>
<rect x="130.50" y="170.63" width="25.90" height="3.8" fill="#D75C60" stroke="#111" stroke-width="0.65"/>
<rect x="156.40" y="170.63" width="123.30" height="3.8" fill="#E9EEA3" stroke="#111" stroke-width="0.65"/>
<rect x="279.70" y="170.63" width="26.00" height="3.8" fill="#E3853E" stroke="#111" stroke-width="0.65"/>
<rect x="305.70" y="170.63" width="3.70" height="3.8" fill="#3AAD4A" stroke="#111" stroke-width="0.65"/>
<rect x="309.40" y="170.63" width="25.40" height="3.8" fill="#B3ABDD" stroke="#111" stroke-width="0.65"/>
<rect x="334.80" y="170.63" width="10.50" height="3.8" fill="#B3174F" stroke="#111" stroke-width="0.65"/>
<rect x="345.30" y="170.63" width="5.00" height="3.8" fill="#68A9E0" stroke="#111" stroke-width="0.65"/>
<rect x="350.30" y="170.63" width="8.00" height="3.8" fill="#A77DCC" stroke="#111" stroke-width="0.65"/>
<circle cx="16.9" cy="164.93" r="2.0" fill="#E8202A"/>
<circle cx="16.9" cy="168.73" r="2.0" fill="#1FA64A"/>
<circle cx="16.9" cy="172.53" r="2.0" fill="#2B2F8F"/>
<text x="359.80" y="170.77" font-size="5.4" fill="#000">23</text>
<rect x="20.50" y="179.55" width="87.80" height="3.8" fill="#96CFD0" stroke="#111" stroke-width="0.65"/>
<rect x="108.30" y="179.55" width="8.30" height="3.8" fill="#D59FD6" stroke="#111" stroke-width="0.65"/>
<rect x="116.60" y="179.55" width="32.80" height="3.8" fill="#A9DBA6" stroke="#111" stroke-width="0.65"/>
<rect x="149.40" y="179.55" width="72.30" height="3.8" fill="#D75C60" stroke="#111" stroke-width="0.65"/>
<rect x="221.70" y="179.55" width="5.00" height="3.8" fill="#F3AEB1" stroke="#111" stroke-width="0.65"/>
<rect x="226.70" y="179.55" width="58.70" height="3.8" fill="#E9EEA3" stroke="#111" stroke-width="0.65"/>
<rect x="285.40" y="179.55" width="35.30" height="3.8" fill="#E3853E" stroke="#111" stroke-width="0.65"/>
<rect x="320.70" y="179.55" width="15.50" height="3.8" fill="#B3ABDD" stroke="#111" stroke-width="0.65"/>
<rect x="336.20" y="179.55" width="1.80" height="3.8" fill="#B3174F" stroke="#111" stroke-width="0.65"/>
<rect x="338.00" y="179.55" width="1.50" height="3.8" fill="#111111" stroke="#111" stroke-width="0.65"/>
<rect x="339.50" y="179.55" width="18.80" height="3.8" fill="#3A68B8" stroke="#111" stroke-width="0.65"/>
<rect x="20.50" y="183.35" width="60.80" height="3.8" fill="#96CFD0" stroke="#111" stroke-width="0.65"/>
<rect x="81.30" y="183.35" width="4.70" height="3.8" fill="#D59FD6" stroke="#111" stroke-width="0.65"/>
<rect x="86.00" y="183.35" width="16.70" height="3.8" fill="#A9DBA6" stroke="#111" stroke-width="0.65"/>
<rect x="102.70" y="183.35" width="98.10" height="3.8" fill="#D75C60" stroke="#111" stroke-width="0.65"/>
<rect x="200.80" y="183.35" width="18.10" height="3.8" fill="#F3AEB1" stroke="#111" stroke-width="0.65"/>
<rect x="218.90" y="183.35" width="90.50" height="3.8" fill="#E9EEA3" stroke="#111" stroke-width="0.65"/>
<rect x="309.40" y="183.35" width="20.80" height="3.8" fill="#E3853E" stroke="#111" stroke-width="0.65"/>
<rect x="330.20" y="183.35" width="11.20" height="3.8" fill="#B3ABDD" stroke="#111" stroke-width="0.65"/>
<rect x="341.40" y="183.35" width="11.70" height="3.8" fill="#B3174F" stroke="#111" stroke-width="0.65"/>
<rect x="353.10" y="183.35" width="3.70" height="3.8" fill="#68A9E0" stroke="#111" stroke-width="0.65"/>
<rect x="356.80" y="183.35" width="1.50" height="3.8" fill="#3A68B8" stroke="#111" stroke-width="0.65"/>
<rect x="20.50" y="187.15" width="68.30" height="3.8" fill="#96CFD0" stroke="#111" stroke-width="0.65"/>
<rect x="88.80" y="187.15" width="4.20" height="3.8" fill="#D59FD6" stroke="#111" stroke-width="0.65"/>
<rect x="93.00" y="187.15" width="9.70" height="3.8" fill="#A9DBA6" stroke="#111" stroke-width="0.65"/>
<rect x="102.70" y="187.15" width="132.90" height="3.8" fill="#D75C60" stroke="#111" stroke-width="0.65"/>
<rect x="235.60" y="187.15" width="2.70" height="3.8" fill="#F3AEB1" stroke="#111" stroke-width="0.65"/>
<rect x="238.30" y="187.15" width="66.80" height="3.8" fill="#E9EEA3" stroke="#111" stroke-width="0.65"/>
<rect x="305.10" y="187.15" width="26.70" height="3.8" fill="#E3853E" stroke="#111" stroke-width="0.65"/>
<rect x="331.80" y="187.15" width="2.20" height="3.8" fill="#3AAD4A" stroke="#111" stroke-width="0.65"/>
<rect x="334.00" y="187.15" width="17.00" height="3.8" fill="#B3ABDD" stroke="#111" stroke-width="0.65"/>
<rect x="351.00" y="187.15" width="2.60" height="3.8" fill="#B3174F" stroke="#111" stroke-width="0.65"/>
<rect x="353.60" y="187.15" width="2.20" height="3.8" fill="#68A9E0" stroke="#111" stroke-width="0.65"/>
<rect x="355.80" y="187.15" width="2.50" height="3.8" fill="#A77DCC" stroke="#111" stroke-width="0.65"/>
<circle cx="16.9" cy="181.45" r="2.0" fill="#E8202A"/>
<circle cx="16.9" cy="185.25" r="2.0" fill="#1FA64A"/>
<circle cx="16.9" cy="189.05" r="2.0" fill="#2B2F8F"/>
<text x="359.80" y="187.35" font-size="5.4" fill="#000">24</text>
<rect x="20.50" y="196.07" width="193.40" height="3.8" fill="#96CFD0" stroke="#111" stroke-width="0.65"/>
<rect x="213.90" y="196.07" width="25.80" height="3.8" fill="#D59FD6" stroke="#111" stroke-width="0.65"/>
<rect x="239.70" y="196.07" width="32.10" height="3.8" fill="#A9DBA6" stroke="#111" stroke-width="0.65"/>
<rect x="271.80" y="196.07" width="12.20" height="3.8" fill="#D75C60" stroke="#111" stroke-width="0.65"/>
<rect x="284.00" y="196.07" width="19.70" height="3.8" fill="#E9EEA3" stroke="#111" stroke-width="0.65"/>
<rect x="303.70" y="196.07" width="18.60" height="3.8" fill="#E3853E" stroke="#111" stroke-width="0.65"/>
<rect x="322.30" y="196.07" width="6.30" height="3.8" fill="#3AAD4A" stroke="#111" stroke-width="0.65"/>
<rect x="328.60" y="196.07" width="5.90" height="3.8" fill="#B3ABDD" stroke="#111" stroke-width="0.65"/>
<rect x="334.50" y="196.07" width="18.60" height="3.8" fill="#A77DCC" stroke="#111" stroke-width="0.65"/>
<rect x="353.10" y="196.07" width="5.20" height="3.8" fill="#3A68B8" stroke="#111" stroke-width="0.65"/>
<rect x="20.50" y="199.87" width="135.90" height="3.8" fill="#96CFD0" stroke="#111" stroke-width="0.65"/>
<rect x="156.40" y="199.87" width="49.20" height="3.8" fill="#D59FD6" stroke="#111" stroke-width="0.65"/>
<rect x="205.60" y="199.87" width="12.70" height="3.8" fill="#A9DBA6" stroke="#111" stroke-width="0.65"/>
<rect x="218.30" y="199.87" width="7.50" height="3.8" fill="#D75C60" stroke="#111" stroke-width="0.65"/>
<rect x="225.80" y="199.87" width="4.80" height="3.8" fill="#F3AEB1" stroke="#111" stroke-width="0.65"/>
<rect x="230.60" y="199.87" width="29.40" height="3.8" fill="#E9EEA3" stroke="#111" stroke-width="0.65"/>
<rect x="260.00" y="199.87" width="64.90" height="3.8" fill="#E3853E" stroke="#111" stroke-width="0.65"/>
<rect x="324.90" y="199.87" width="5.70" height="3.8" fill="#3AAD4A" stroke="#111" stroke-width="0.65"/>
<rect x="330.60" y="199.87" width="1.40" height="3.8" fill="#B3ABDD" stroke="#111" stroke-width="0.65"/>
<rect x="332.00" y="199.87" width="1.00" height="3.8" fill="#B3174F" stroke="#111" stroke-width="0.65"/>
<rect x="333.00" y="199.87" width="5.20" height="3.8" fill="#D8E6A0" stroke="#111" stroke-width="0.65"/>
<rect x="338.20" y="199.87" width="20.10" height="3.8" fill="#A77DCC" stroke="#111" stroke-width="0.65"/>
<rect x="20.50" y="203.67" width="157.30" height="3.8" fill="#96CFD0" stroke="#111" stroke-width="0.65"/>
<rect x="177.80" y="203.67" width="7.20" height="3.8" fill="#D59FD6" stroke="#111" stroke-width="0.65"/>
<rect x="185.00" y="203.67" width="8.30" height="3.8" fill="#D75C60" stroke="#111" stroke-width="0.65"/>
<rect x="193.30" y="203.67" width="15.90" height="3.8" fill="#E9EEA3" stroke="#111" stroke-width="0.65"/>
<rect x="209.20" y="203.67" width="130.10" height="3.8" fill="#E3853E" stroke="#111" stroke-width="0.65"/>
<rect x="339.30" y="203.67" width="5.30" height="3.8" fill="#3AAD4A" stroke="#111" stroke-width="0.65"/>
<rect x="344.60" y="203.67" width="2.10" height="3.8" fill="#B3ABDD" stroke="#111" stroke-width="0.65"/>
<rect x="346.70" y="203.67" width="0.90" height="3.8" fill="#B3174F" stroke="#111" stroke-width="0.65"/>
<rect x="347.60" y="203.67" width="10.70" height="3.8" fill="#A77DCC" stroke="#111" stroke-width="0.65"/>
<circle cx="16.9" cy="197.97" r="2.0" fill="#E8202A"/>
<circle cx="16.9" cy="201.77" r="2.0" fill="#1FA64A"/>
<circle cx="16.9" cy="205.57" r="2.0" fill="#2B2F8F"/>
<text x="359.80" y="203.93" font-size="5.4" fill="#000">25</text>
<rect x="20.50" y="212.59" width="35.80" height="3.8" fill="#96CFD0" stroke="#111" stroke-width="0.65"/>
<rect x="56.30" y="212.59" width="3.90" height="3.8" fill="#D59FD6" stroke="#111" stroke-width="0.65"/>
<rect x="60.20" y="212.59" width="10.60" height="3.8" fill="#A9DBA6" stroke="#111" stroke-width="0.65"/>
<rect x="70.80" y="212.59" width="13.90" height="3.8" fill="#D75C60" stroke="#111" stroke-width="0.65"/>
<rect x="84.70" y="212.59" width="2.70" height="3.8" fill="#F3AEB1" stroke="#111" stroke-width="0.65"/>
<rect x="87.40" y="212.59" width="21.70" height="3.8" fill="#E9EEA3" stroke="#111" stroke-width="0.65"/>
<rect x="109.10" y="212.59" width="2.80" height="3.8" fill="#E3853E" stroke="#111" stroke-width="0.65"/>
<rect x="111.90" y="212.59" width="1.10" height="3.8" fill="#111111" stroke="#111" stroke-width="0.65"/>
<rect x="113.00" y="212.59" width="164.50" height="3.8" fill="#B3ABDD" stroke="#111" stroke-width="0.65"/>
<rect x="277.50" y="212.59" width="5.60" height="3.8" fill="#B3174F" stroke="#111" stroke-width="0.65"/>
<rect x="283.10" y="212.59" width="24.90" height="3.8" fill="#68A9E0" stroke="#111" stroke-width="0.65"/>
<rect x="308.00" y="212.59" width="3.40" height="3.8" fill="#D8E6A0" stroke="#111" stroke-width="0.65"/>
<rect x="311.40" y="212.59" width="46.90" height="3.8" fill="#A77DCC" stroke="#111" stroke-width="0.65"/>
<rect x="20.50" y="216.39" width="47.50" height="3.8" fill="#96CFD0" stroke="#111" stroke-width="0.65"/>
<rect x="68.00" y="216.39" width="5.00" height="3.8" fill="#D59FD6" stroke="#111" stroke-width="0.65"/>
<rect x="73.00" y="216.39" width="17.80" height="3.8" fill="#A9DBA6" stroke="#111" stroke-width="0.65"/>
<rect x="90.80" y="216.39" width="44.20" height="3.8" fill="#D75C60" stroke="#111" stroke-width="0.65"/>
<rect x="135.00" y="216.39" width="2.80" height="3.8" fill="#F3AEB1" stroke="#111" stroke-width="0.65"/>
<rect x="137.80" y="216.39" width="106.60" height="3.8" fill="#E9EEA3" stroke="#111" stroke-width="0.65"/>
<rect x="244.40" y="216.39" width="3.60" height="3.8" fill="#E3853E" stroke="#111" stroke-width="0.65"/>
<rect x="248.00" y="216.39" width="54.30" height="3.8" fill="#B3ABDD" stroke="#111" stroke-width="0.65"/>
<rect x="302.30" y="216.39" width="6.20" height="3.8" fill="#F9C193" stroke="#111" stroke-width="0.65"/>
<rect x="308.50" y="216.39" width="22.10" height="3.8" fill="#B3174F" stroke="#111" stroke-width="0.65"/>
<rect x="330.60" y="216.39" width="27.70" height="3.8" fill="#68A9E0" stroke="#111" stroke-width="0.65"/>
<rect x="20.50" y="220.19" width="57.20" height="3.8" fill="#96CFD0" stroke="#111" stroke-width="0.65"/>
<rect x="77.70" y="220.19" width="2.80" height="3.8" fill="#D59FD6" stroke="#111" stroke-width="0.65"/>
<rect x="80.50" y="220.19" width="62.00" height="3.8" fill="#D75C60" stroke="#111" stroke-width="0.65"/>
<rect x="142.50" y="220.19" width="104.70" height="3.8" fill="#E9EEA3" stroke="#111" stroke-width="0.65"/>
<rect x="247.20" y="220.19" width="3.70" height="3.8" fill="#E3853E" stroke="#111" stroke-width="0.65"/>
<rect x="250.90" y="220.19" width="76.30" height="3.8" fill="#B3ABDD" stroke="#111" stroke-width="0.65"/>
<rect x="327.20" y="220.19" width="11.80" height="3.8" fill="#B3174F" stroke="#111" stroke-width="0.65"/>
<rect x="339.00" y="220.19" width="18.50" height="3.8" fill="#68A9E0" stroke="#111" stroke-width="0.65"/>
<rect x="357.50" y="220.19" width="0.80" height="3.8" fill="#111111" stroke="#111" stroke-width="0.65"/>
<circle cx="16.9" cy="214.49" r="2.0" fill="#E8202A"/>
<circle cx="16.9" cy="218.29" r="2.0" fill="#1FA64A"/>
<circle cx="16.9" cy="222.09" r="2.0" fill="#2B2F8F"/>
<text x="359.80" y="220.51" font-size="5.4" fill="#000">26</text>
<rect x="20.50" y="229.11" width="89.20" height="3.8" fill="#96CFD0" stroke="#111" stroke-width="0.65"/>
<rect x="109.70" y="229.11" width="10.50" height="3.8" fill="#D59FD6" stroke="#111" stroke-width="0.65"/>
<rect x="120.20" y="229.11" width="51.50" height="3.8" fill="#A9DBA6" stroke="#111" stroke-width="0.65"/>
<rect x="171.70" y="229.11" width="63.90" height="3.8" fill="#D75C60" stroke="#111" stroke-width="0.65"/>
<rect x="235.60" y="229.11" width="5.00" height="3.8" fill="#F3AEB1" stroke="#111" stroke-width="0.65"/>
<rect x="240.60" y="229.11" width="20.80" height="3.8" fill="#E9EEA3" stroke="#111" stroke-width="0.65"/>
<rect x="261.40" y="229.11" width="4.80" height="3.8" fill="#E3853E" stroke="#111" stroke-width="0.65"/>
<rect x="266.20" y="229.11" width="41.20" height="3.8" fill="#B3ABDD" stroke="#111" stroke-width="0.65"/>
<rect x="307.40" y="229.11" width="9.60" height="3.8" fill="#F9C193" stroke="#111" stroke-width="0.65"/>
<rect x="317.00" y="229.11" width="24.40" height="3.8" fill="#B3174F" stroke="#111" stroke-width="0.65"/>
<rect x="341.40" y="229.11" width="12.20" height="3.8" fill="#68A9E0" stroke="#111" stroke-width="0.65"/>
<rect x="353.60" y="229.11" width="1.80" height="3.8" fill="#D8E6A0" stroke="#111" stroke-width="0.65"/>
<rect x="355.40" y="229.11" width="2.90" height="3.8" fill="#3A68B8" stroke="#111" stroke-width="0.65"/>
<rect x="20.50" y="232.91" width="58.10" height="3.8" fill="#96CFD0" stroke="#111" stroke-width="0.65"/>
<rect x="78.60" y="232.91" width="4.70" height="3.8" fill="#D59FD6" stroke="#111" stroke-width="0.65"/>
<rect x="83.30" y="232.91" width="25.00" height="3.8" fill="#A9DBA6" stroke="#111" stroke-width="0.65"/>
<rect x="108.30" y="232.91" width="53.60" height="3.8" fill="#D75C60" stroke="#111" stroke-width="0.65"/>
<rect x="161.90" y="232.91" width="9.20" height="3.8" fill="#F3AEB1" stroke="#111" stroke-width="0.65"/>
<rect x="171.10" y="232.91" width="45.00" height="3.8" fill="#E9EEA3" stroke="#111" stroke-width="0.65"/>
<rect x="216.10" y="232.91" width="6.90" height="3.8" fill="#E3853E" stroke="#111" stroke-width="0.65"/>
<rect x="223.00" y="232.91" width="38.40" height="3.8" fill="#B3ABDD" stroke="#111" stroke-width="0.65"/>
<rect x="261.40" y="232.91" width="14.10" height="3.8" fill="#F9C193" stroke="#111" stroke-width="0.65"/>
<rect x="275.50" y="232.91" width="58.50" height="3.8" fill="#B3174F" stroke="#111" stroke-width="0.65"/>
<rect x="334.00" y="232.91" width="23.00" height="3.8" fill="#68A9E0" stroke="#111" stroke-width="0.65"/>
<rect x="357.00" y="232.91" width="1.30" height="3.8" fill="#D8E6A0" stroke="#111" stroke-width="0.65"/>
<rect x="20.50" y="236.71" width="79.50" height="3.8" fill="#96CFD0" stroke="#111" stroke-width="0.65"/>
<rect x="100.00" y="236.71" width="2.70" height="3.8" fill="#D59FD6" stroke="#111" stroke-width="0.65"/>
<rect x="102.70" y="236.71" width="3.60" height="3.8" fill="#A9DBA6" stroke="#111" stroke-width="0.65"/>
<rect x="106.30" y="236.71" width="83.40" height="3.8" fill="#D75C60" stroke="#111" stroke-width="0.65"/>
<rect x="189.70" y="236.71" width="25.00" height="3.8" fill="#E9EEA3" stroke="#111" stroke-width="0.65"/>
<rect x="214.70" y="236.71" width="9.20" height="3.8" fill="#E3853E" stroke="#111" stroke-width="0.65"/>
<rect x="223.90" y="236.71" width="54.40" height="3.8" fill="#B3ABDD" stroke="#111" stroke-width="0.65"/>
<rect x="278.30" y="236.71" width="2.80" height="3.8" fill="#F9C193" stroke="#111" stroke-width="0.65"/>
<rect x="281.10" y="236.71" width="52.00" height="3.8" fill="#B3174F" stroke="#111" stroke-width="0.65"/>
<rect x="333.10" y="236.71" width="23.90" height="3.8" fill="#68A9E0" stroke="#111" stroke-width="0.65"/>
<rect x="357.00" y="236.71" width="1.30" height="3.8" fill="#D8E6A0" stroke="#111" stroke-width="0.65"/>
<circle cx="16.9" cy="231.01" r="2.0" fill="#E8202A"/>
<circle cx="16.9" cy="234.81" r="2.0" fill="#1FA64A"/>
<circle cx="16.9" cy="238.61" r="2.0" fill="#2B2F8F"/>
<text x="359.80" y="237.09" font-size="5.4" fill="#000">27</text>
<rect x="20.50" y="245.63" width="63.60" height="3.8" fill="#96CFD0" stroke="#111" stroke-width="0.65"/>
<rect x="84.10" y="245.63" width="9.50" height="3.8" fill="#D59FD6" stroke="#111" stroke-width="0.65"/>
<rect x="93.60" y="245.63" width="16.10" height="3.8" fill="#A9DBA6" stroke="#111" stroke-width="0.65"/>
<rect x="109.70" y="245.63" width="39.20" height="3.8" fill="#D75C60" stroke="#111" stroke-width="0.65"/>
<rect x="148.90" y="245.63" width="3.90" height="3.8" fill="#F3AEB1" stroke="#111" stroke-width="0.65"/>
<rect x="152.80" y="245.63" width="111.40" height="3.8" fill="#E9EEA3" stroke="#111" stroke-width="0.65"/>
<rect x="264.20" y="245.63" width="7.00" height="3.8" fill="#E3853E" stroke="#111" stroke-width="0.65"/>
<rect x="271.20" y="245.63" width="55.10" height="3.8" fill="#B3ABDD" stroke="#111" stroke-width="0.65"/>
<rect x="326.30" y="245.63" width="3.70" height="3.8" fill="#F9C193" stroke="#111" stroke-width="0.65"/>
<rect x="330.00" y="245.63" width="14.70" height="3.8" fill="#B3174F" stroke="#111" stroke-width="0.65"/>
<rect x="344.70" y="245.63" width="13.60" height="3.8" fill="#68A9E0" stroke="#111" stroke-width="0.65"/>
<rect x="20.50" y="249.43" width="44.70" height="3.8" fill="#96CFD0" stroke="#111" stroke-width="0.65"/>
<rect x="65.20" y="249.43" width="5.60" height="3.8" fill="#D59FD6" stroke="#111" stroke-width="0.65"/>
<rect x="70.80" y="249.43" width="9.70" height="3.8" fill="#A9DBA6" stroke="#111" stroke-width="0.65"/>
<rect x="80.50" y="249.43" width="25.00" height="3.8" fill="#D75C60" stroke="#111" stroke-width="0.65"/>
<rect x="105.50" y="249.43" width="4.70" height="3.8" fill="#F3AEB1" stroke="#111" stroke-width="0.65"/>
<rect x="110.20" y="249.43" width="83.70" height="3.8" fill="#E9EEA3" stroke="#111" stroke-width="0.65"/>
<rect x="193.90" y="249.43" width="11.70" height="3.8" fill="#E3853E" stroke="#111" stroke-width="0.65"/>
<rect x="205.60" y="249.43" width="91.10" height="3.8" fill="#B3ABDD" stroke="#111" stroke-width="0.65"/>
<rect x="296.70" y="249.43" width="9.00" height="3.8" fill="#F9C193" stroke="#111" stroke-width="0.65"/>
<rect x="305.70" y="249.43" width="30.50" height="3.8" fill="#B3174F" stroke="#111" stroke-width="0.65"/>
<rect x="336.20" y="249.43" width="22.10" height="3.8" fill="#68A9E0" stroke="#111" stroke-width="0.65"/>
<rect x="20.50" y="253.23" width="58.10" height="3.8" fill="#96CFD0" stroke="#111" stroke-width="0.65"/>
<rect x="78.60" y="253.23" width="42.20" height="3.8" fill="#D75C60" stroke="#111" stroke-width="0.65"/>
<rect x="120.80" y="253.23" width="73.60" height="3.8" fill="#E9EEA3" stroke="#111" stroke-width="0.65"/>
<rect x="194.40" y="253.23" width="13.40" height="3.8" fill="#E3853E" stroke="#111" stroke-width="0.65"/>
<rect x="207.80" y="253.23" width="88.30" height="3.8" fill="#B3ABDD" stroke="#111" stroke-width="0.65"/>
<rect x="296.10" y="253.23" width="3.40" height="3.8" fill="#F9C193" stroke="#111" stroke-width="0.65"/>
<rect x="299.50" y="253.23" width="36.10" height="3.8" fill="#B3174F" stroke="#111" stroke-width="0.65"/>
<rect x="335.60" y="253.23" width="22.70" height="3.8" fill="#68A9E0" stroke="#111" stroke-width="0.65"/>
<circle cx="16.9" cy="247.53" r="2.0" fill="#E8202A"/>
<circle cx="16.9" cy="251.33" r="2.0" fill="#1FA64A"/>
<circle cx="16.9" cy="255.13" r="2.0" fill="#2B2F8F"/>
<text x="359.80" y="253.67" font-size="5.4" fill="#000">28</text>
<rect x="20.50" y="262.15" width="91.90" height="3.8" fill="#96CFD0" stroke="#111" stroke-width="0.65"/>
<rect x="112.40" y="262.15" width="7.00" height="3.8" fill="#D59FD6" stroke="#111" stroke-width="0.65"/>
<rect x="119.40" y="262.15" width="59.20" height="3.8" fill="#A9DBA6" stroke="#111" stroke-width="0.65"/>
<rect x="178.60" y="262.15" width="77.10" height="3.8" fill="#D75C60" stroke="#111" stroke-width="0.65"/>
<rect x="255.70" y="262.15" width="34.80" height="3.8" fill="#E9EEA3" stroke="#111" stroke-width="0.65"/>
<rect x="290.50" y="262.15" width="4.80" height="3.8" fill="#E3853E" stroke="#111" stroke-width="0.65"/>
<rect x="295.30" y="262.15" width="31.90" height="3.8" fill="#B3ABDD" stroke="#111" stroke-width="0.65"/>
<rect x="327.20" y="262.15" width="9.60" height="3.8" fill="#F9C193" stroke="#111" stroke-width="0.65"/>
<rect x="336.80" y="262.15" width="12.10" height="3.8" fill="#B3174F" stroke="#111" stroke-width="0.65"/>
<rect x="348.90" y="262.15" width="4.30" height="3.8" fill="#68A9E0" stroke="#111" stroke-width="0.65"/>
<rect x="353.20" y="262.15" width="1.80" height="3.8" fill="#111111" stroke="#111" stroke-width="0.65"/>
<rect x="355.00" y="262.15" width="3.30" height="3.8" fill="#3A68B8" stroke="#111" stroke-width="0.65"/>
<rect x="20.50" y="265.95" width="76.70" height="3.8" fill="#96CFD0" stroke="#111" stroke-width="0.65"/>
<rect x="97.20" y="265.95" width="4.10" height="3.8" fill="#D59FD6" stroke="#111" stroke-width="0.65"/>
<rect x="101.30" y="265.95" width="23.70" height="3.8" fill="#A9DBA6" stroke="#111" stroke-width="0.65"/>
<rect x="125.00" y="265.95" width="70.30" height="3.8" fill="#D75C60" stroke="#111" stroke-width="0.65"/>
<rect x="195.30" y="265.95" width="12.50" height="3.8" fill="#F3AEB1" stroke="#111" stroke-width="0.65"/>
<rect x="207.80" y="265.95" width="53.60" height="3.8" fill="#E9EEA3" stroke="#111" stroke-width="0.65"/>
<rect x="261.40" y="265.95" width="7.60" height="3.8" fill="#E3853E" stroke="#111" stroke-width="0.65"/>
<rect x="269.00" y="265.95" width="37.60" height="3.8" fill="#B3ABDD" stroke="#111" stroke-width="0.65"/>
<rect x="306.60" y="265.95" width="12.10" height="3.8" fill="#F9C193" stroke="#111" stroke-width="0.65"/>
<rect x="318.70" y="265.95" width="31.70" height="3.8" fill="#B3174F" stroke="#111" stroke-width="0.65"/>
<rect x="350.40" y="265.95" width="7.90" height="3.8" fill="#68A9E0" stroke="#111" stroke-width="0.65"/>
<rect x="20.50" y="269.75" width="85.00" height="3.8" fill="#96CFD0" stroke="#111" stroke-width="0.65"/>
<rect x="105.50" y="269.75" width="2.80" height="3.8" fill="#D59FD6" stroke="#111" stroke-width="0.65"/>
<rect x="108.30" y="269.75" width="112.00" height="3.8" fill="#D75C60" stroke="#111" stroke-width="0.65"/>
<rect x="220.30" y="269.75" width="41.90" height="3.8" fill="#E9EEA3" stroke="#111" stroke-width="0.65"/>
<rect x="262.20" y="269.75" width="10.50" height="3.8" fill="#E3853E" stroke="#111" stroke-width="0.65"/>
<rect x="272.70" y="269.75" width="47.10" height="3.8" fill="#B3ABDD" stroke="#111" stroke-width="0.65"/>
<rect x="319.80" y="269.75" width="12.20" height="3.8" fill="#F9C193" stroke="#111" stroke-width="0.65"/>
<rect x="332.00" y="269.75" width="13.30" height="3.8" fill="#B3174F" stroke="#111" stroke-width="0.65"/>
<rect x="345.30" y="269.75" width="13.00" height="3.8" fill="#68A9E0" stroke="#111" stroke-width="0.65"/>
<circle cx="16.9" cy="264.05" r="2.0" fill="#E8202A"/>
<circle cx="16.9" cy="267.85" r="2.0" fill="#1FA64A"/>
<circle cx="16.9" cy="271.65" r="2.0" fill="#2B2F8F"/>
<text x="359.80" y="270.25" font-size="5.4" fill="#000">29</text>
<rect x="20.50" y="278.67" width="40.50" height="3.8" fill="#96CFD0" stroke="#111" stroke-width="0.65"/>
<rect x="61.00" y="278.67" width="7.60" height="3.8" fill="#D59FD6" stroke="#111" stroke-width="0.65"/>
<rect x="68.60" y="278.67" width="21.10" height="3.8" fill="#A9DBA6" stroke="#111" stroke-width="0.65"/>
<rect x="89.70" y="278.67" width="68.10" height="3.8" fill="#D75C60" stroke="#111" stroke-width="0.65"/>
<rect x="157.80" y="278.67" width="2.20" height="3.8" fill="#F3AEB1" stroke="#111" stroke-width="0.65"/>
<rect x="160.00" y="278.67" width="61.70" height="3.8" fill="#E9EEA3" stroke="#111" stroke-width="0.65"/>
<rect x="221.70" y="278.67" width="11.10" height="3.8" fill="#E3853E" stroke="#111" stroke-width="0.65"/>
<rect x="232.80" y="278.67" width="95.30" height="3.8" fill="#B3ABDD" stroke="#111" stroke-width="0.65"/>
<rect x="328.10" y="278.67" width="4.80" height="3.8" fill="#F9C193" stroke="#111" stroke-width="0.65"/>
<rect x="332.90" y="278.67" width="20.70" height="3.8" fill="#B3174F" stroke="#111" stroke-width="0.65"/>
<rect x="353.60" y="278.67" width="2.70" height="3.8" fill="#68A9E0" stroke="#111" stroke-width="0.65"/>
<rect x="356.30" y="278.67" width="1.00" height="3.8" fill="#D8E6A0" stroke="#111" stroke-width="0.65"/>
<rect x="357.30" y="278.67" width="1.00" height="3.8" fill="#3A68B8" stroke="#111" stroke-width="0.65"/>
<rect x="20.50" y="282.47" width="43.30" height="3.8" fill="#96CFD0" stroke="#111" stroke-width="0.65"/>
<rect x="63.80" y="282.47" width="16.70" height="3.8" fill="#A9DBA6" stroke="#111" stroke-width="0.65"/>
<rect x="80.50" y="282.47" width="75.90" height="3.8" fill="#D75C60" stroke="#111" stroke-width="0.65"/>
<rect x="156.40" y="282.47" width="18.00" height="3.8" fill="#F3AEB1" stroke="#111" stroke-width="0.65"/>
<rect x="174.40" y="282.47" width="119.40" height="3.8" fill="#E9EEA3" stroke="#111" stroke-width="0.65"/>
<rect x="293.80" y="282.47" width="11.30" height="3.8" fill="#E3853E" stroke="#111" stroke-width="0.65"/>
<rect x="305.10" y="282.47" width="9.90" height="3.8" fill="#B3ABDD" stroke="#111" stroke-width="0.65"/>
<rect x="315.00" y="282.47" width="5.70" height="3.8" fill="#F9C193" stroke="#111" stroke-width="0.65"/>
<rect x="320.70" y="282.47" width="25.20" height="3.8" fill="#B3174F" stroke="#111" stroke-width="0.65"/>
<rect x="345.90" y="282.47" width="6.10" height="3.8" fill="#68A9E0" stroke="#111" stroke-width="0.65"/>
<rect x="352.00" y="282.47" width="6.30" height="3.8" fill="#D8E6A0" stroke="#111" stroke-width="0.65"/>
<rect x="20.50" y="286.27" width="40.50" height="3.8" fill="#96CFD0" stroke="#111" stroke-width="0.65"/>
<rect x="61.00" y="286.27" width="2.00" height="3.8" fill="#A9DBA6" stroke="#111" stroke-width="0.65"/>
<rect x="63.00" y="286.27" width="39.70" height="3.8" fill="#D75C60" stroke="#111" stroke-width="0.65"/>
<rect x="102.70" y="286.27" width="2.00" height="3.8" fill="#F3AEB1" stroke="#111" stroke-width="0.65"/>
<rect x="104.70" y="286.27" width="192.50" height="3.8" fill="#E9EEA3" stroke="#111" stroke-width="0.65"/>
<rect x="297.20" y="286.27" width="13.00" height="3.8" fill="#E3853E" stroke="#111" stroke-width="0.65"/>
<rect x="310.20" y="286.27" width="2.80" height="3.8" fill="#3AAD4A" stroke="#111" stroke-width="0.65"/>
<rect x="313.00" y="286.27" width="16.70" height="3.8" fill="#B3ABDD" stroke="#111" stroke-width="0.65"/>
<rect x="329.70" y="286.27" width="20.20" height="3.8" fill="#B3174F" stroke="#111" stroke-width="0.65"/>
<rect x="349.90" y="286.27" width="2.70" height="3.8" fill="#68A9E0" stroke="#111" stroke-width="0.65"/>
<rect x="352.60" y="286.27" width="2.10" height="3.8" fill="#D8E6A0" stroke="#111" stroke-width="0.65"/>
<rect x="354.70" y="286.27" width="3.60" height="3.8" fill="#A77DCC" stroke="#111" stroke-width="0.65"/>
<circle cx="16.9" cy="280.57" r="2.0" fill="#E8202A"/>
<circle cx="16.9" cy="284.37" r="2.0" fill="#1FA64A"/>
<circle cx="16.9" cy="288.17" r="2.0" fill="#2B2F8F"/>
<text x="359.80" y="286.83" font-size="5.4" fill="#000">30</text>
<rect x="20.50" y="295.19" width="20.30" height="3.8" fill="#96CFD0" stroke="#111" stroke-width="0.65"/>
<rect x="40.80" y="295.19" width="3.60" height="3.8" fill="#D59FD6" stroke="#111" stroke-width="0.65"/>
<rect x="44.40" y="295.19" width="25.00" height="3.8" fill="#A9DBA6" stroke="#111" stroke-width="0.65"/>
<rect x="69.40" y="295.19" width="61.10" height="3.8" fill="#D75C60" stroke="#111" stroke-width="0.65"/>
<rect x="130.50" y="295.19" width="50.10" height="3.8" fill="#E9EEA3" stroke="#111" stroke-width="0.65"/>
<rect x="180.60" y="295.19" width="11.90" height="3.8" fill="#E3853E" stroke="#111" stroke-width="0.65"/>
<rect x="192.50" y="295.19" width="134.70" height="3.8" fill="#B3ABDD" stroke="#111" stroke-width="0.65"/>
<rect x="327.20" y="295.19" width="3.90" height="3.8" fill="#F9C193" stroke="#111" stroke-width="0.65"/>
<rect x="331.10" y="295.19" width="11.30" height="3.8" fill="#B3174F" stroke="#111" stroke-width="0.65"/>
<rect x="342.40" y="295.19" width="15.90" height="3.8" fill="#68A9E0" stroke="#111" stroke-width="0.65"/>
<rect x="20.50" y="298.99" width="23.10" height="3.8" fill="#96CFD0" stroke="#111" stroke-width="0.65"/>
<rect x="43.60" y="298.99" width="2.70" height="3.8" fill="#D59FD6" stroke="#111" stroke-width="0.65"/>
<rect x="46.30" y="298.99" width="20.30" height="3.8" fill="#A9DBA6" stroke="#111" stroke-width="0.65"/>
<rect x="66.60" y="298.99" width="45.80" height="3.8" fill="#D75C60" stroke="#111" stroke-width="0.65"/>
<rect x="112.40" y="298.99" width="4.20" height="3.8" fill="#F3AEB1" stroke="#111" stroke-width="0.65"/>
<rect x="116.60" y="298.99" width="66.70" height="3.8" fill="#E9EEA3" stroke="#111" stroke-width="0.65"/>
<rect x="183.30" y="298.99" width="11.10" height="3.8" fill="#E3853E" stroke="#111" stroke-width="0.65"/>
<rect x="194.40" y="298.99" width="124.90" height="3.8" fill="#B3ABDD" stroke="#111" stroke-width="0.65"/>
<rect x="319.30" y="298.99" width="3.40" height="3.8" fill="#F9C193" stroke="#111" stroke-width="0.65"/>
<rect x="322.70" y="298.99" width="20.60" height="3.8" fill="#B3174F" stroke="#111" stroke-width="0.65"/>
<rect x="343.30" y="298.99" width="15.00" height="3.8" fill="#68A9E0" stroke="#111" stroke-width="0.65"/>
<rect x="20.50" y="302.79" width="25.30" height="3.8" fill="#96CFD0" stroke="#111" stroke-width="0.65"/>
<rect x="45.80" y="302.79" width="4.20" height="3.8" fill="#D59FD6" stroke="#111" stroke-width="0.65"/>
<rect x="50.00" y="302.79" width="2.70" height="3.8" fill="#A9DBA6" stroke="#111" stroke-width="0.65"/>
<rect x="52.70" y="302.79" width="81.50" height="3.8" fill="#D75C60" stroke="#111" stroke-width="0.65"/>
<rect x="134.20" y="302.79" width="50.00" height="3.8" fill="#E9EEA3" stroke="#111" stroke-width="0.65"/>
<rect x="184.20" y="302.79" width="11.90" height="3.8" fill="#E3853E" stroke="#111" stroke-width="0.65"/>
<rect x="196.10" y="302.79" width="142.60" height="3.8" fill="#B3ABDD" stroke="#111" stroke-width="0.65"/>
<rect x="338.70" y="302.79" width="2.20" height="3.8" fill="#F9C193" stroke="#111" stroke-width="0.65"/>
<rect x="340.90" y="302.79" width="9.50" height="3.8" fill="#B3174F" stroke="#111" stroke-width="0.65"/>
<rect x="350.40" y="302.79" width="7.90" height="3.8" fill="#68A9E0" stroke="#111" stroke-width="0.65"/>
<circle cx="16.9" cy="297.09" r="2.0" fill="#E8202A"/>
<circle cx="16.9" cy="300.89" r="2.0" fill="#1FA64A"/>
<circle cx="16.9" cy="304.69" r="2.0" fill="#2B2F8F"/>
<text x="359.80" y="303.41" font-size="5.4" fill="#000">31</text>
<text x="364.10" y="11.20" font-size="5.0" text-anchor="middle" fill="#000">Sample</text>
<line x1="20.50" y1="306.9" x2="20.50" y2="308.2" stroke="#444" stroke-width="0.4"/>
<text x="20.50" y="311.60" font-size="4.3" text-anchor="middle" fill="#222">0.00</text>
<line x1="104.95" y1="306.9" x2="104.95" y2="308.2" stroke="#444" stroke-width="0.4"/>
<text x="104.95" y="311.60" font-size="4.3" text-anchor="middle" fill="#222">0.25</text>
<line x1="189.40" y1="306.9" x2="189.40" y2="308.2" stroke="#444" stroke-width="0.4"/>
<text x="189.40" y="311.60" font-size="4.3" text-anchor="middle" fill="#222">0.50</text>
<line x1="273.85" y1="306.9" x2="273.85" y2="308.2" stroke="#444" stroke-width="0.4"/>
<text x="273.85" y="311.60" font-size="4.3" text-anchor="middle" fill="#222">0.75</text>
<line x1="358.30" y1="306.9" x2="358.30" y2="308.2" stroke="#444" stroke-width="0.4"/>
<text x="358.30" y="311.60" font-size="4.3" text-anchor="middle" fill="#222">1.00</text>
<text x="187.50" y="318.10" font-size="5.1" text-anchor="middle" fill="#000">Proportion</text>
<text x="371.00" y="92.00" font-size="5.9" fill="#000">Cell type</text>
<rect x="371.8" y="95.80" width="5.8" height="6.2" fill="#96CFD0"/>
<text x="380.80" y="100.70" font-size="5.1" fill="#000">CD4 T</text>
<rect x="371.8" y="102.54" width="5.8" height="6.2" fill="#D59FD6"/>
<text x="380.80" y="107.44" font-size="5.1" fill="#000">Treg</text>
<rect x="371.8" y="109.28" width="5.8" height="6.2" fill="#A9DBA6"/>
<text x="380.80" y="114.18" font-size="5.1" fill="#000">CD8 T</text>
<rect x="371.8" y="116.02" width="5.8" height="6.2" fill="#D75C60"/>
<text x="380.80" y="120.92" font-size="5.1" fill="#000">gdT</text>
<rect x="371.8" y="122.76" width="5.8" height="6.2" fill="#F3AEB1"/>
<text x="380.80" y="127.66" font-size="5.1" fill="#000">MAIT</text>
<rect x="371.8" y="129.50" width="5.8" height="6.2" fill="#E9EEA3"/>
<text x="380.80" y="134.40" font-size="5.1" fill="#000">NK</text>
<rect x="371.8" y="136.24" width="5.8" height="6.2" fill="#E3853E"/>
<text x="380.80" y="141.14" font-size="5.1" fill="#000">B</text>
<rect x="371.8" y="142.98" width="5.8" height="6.2" fill="#3AAD4A"/>
<text x="380.80" y="147.88" font-size="5.1" fill="#000">Plasmablast</text>
<rect x="371.8" y="149.72" width="5.8" height="6.2" fill="#B3ABDD"/>
<text x="380.80" y="154.62" font-size="5.1" fill="#000">CD14 Mono</text>
<rect x="371.8" y="156.46" width="5.8" height="6.2" fill="#F9C193"/>
<text x="380.80" y="161.36" font-size="5.1" fill="#000">CD16 Mono</text>
<rect x="371.8" y="163.20" width="5.8" height="6.2" fill="#B3174F"/>
<text x="380.80" y="168.10" font-size="5.1" fill="#000">Int Mono</text>
<rect x="371.8" y="169.94" width="5.8" height="6.2" fill="#68A9E0"/>
<text x="380.80" y="174.84" font-size="5.1" fill="#000">cDC</text>
<rect x="371.8" y="176.68" width="5.8" height="6.2" fill="#D8E6A0"/>
<text x="380.80" y="181.58" font-size="5.1" fill="#000">pDC</text>
<rect x="371.8" y="183.42" width="5.8" height="6.2" fill="#A77DCC"/>
<text x="380.80" y="188.32" font-size="5.1" fill="#000">HSPC</text>
<rect x="371.8" y="190.16" width="5.8" height="6.2" fill="#3A68B8"/>
<text x="380.80" y="195.06" font-size="5.1" fill="#000">Neutrophils</text>
<rect x="371.8" y="196.90" width="5.8" height="6.2" fill="#111111"/>
<text x="380.80" y="201.80" font-size="5.1" fill="#000">Basophils</text>
<circle cx="374.6" cy="214.7" r="3.4" fill="#E8202A"/>
<circle cx="374.6" cy="224.6" r="3.4" fill="#1FA64A"/>
<circle cx="374.6" cy="234.9" r="3.4" fill="#2B2F8F"/>
<text x="380.80" y="216.40" font-size="5.2" fill="#000">scRNA</text>
<text x="380.80" y="222.90" font-size="5.2" fill="#000">snRNA</text>
<text x="380.80" y="228.30" font-size="3.9" fill="#000">(Monaco ref.)</text>
<text x="380.80" y="233.30" font-size="5.2" fill="#000">snRNA</text>
<text x="380.80" y="238.60" font-size="3.9" fill="#000">(scRNA ref.)</text>
<text x="5.60" y="330.00" font-size="8.0" fill="#000">B</text>
<rect x="57.00" y="336.20" width="5.69" height="6.03" fill="#FCE4A0" stroke="#A3A39F" stroke-width="0.38"/>
<rect x="62.69" y="336.20" width="5.69" height="6.03" fill="#FCE4A0" stroke="#A3A39F" stroke-width="0.38"/>
<rect x="68.38" y="336.20" width="5.69" height="6.03" fill="#FBFACD" stroke="#A3A39F" stroke-width="0.38"/>
<rect x="74.07" y="336.20" width="5.69" height="6.03" fill="#DDEEF3" stroke="#A3A39F" stroke-width="0.38"/>
<rect x="79.76" y="336.20" width="5.69" height="6.03" fill="#FBFACD" stroke="#A3A39F" stroke-width="0.38"/>
<rect x="85.45" y="336.20" width="5.69" height="6.03" fill="#A8CBE3" stroke="#A3A39F" stroke-width="0.38"/>
<rect x="91.14" y="336.20" width="5.69" height="6.03" fill="#FBFACD" stroke="#A3A39F" stroke-width="0.38"/>
<rect x="96.83" y="336.20" width="5.69" height="6.03" fill="#A8CBE3" stroke="#A3A39F" stroke-width="0.38"/>
<rect x="102.52" y="336.20" width="5.69" height="6.03" fill="#DDEEF3" stroke="#A3A39F" stroke-width="0.38"/>
<rect x="108.21" y="336.20" width="5.69" height="6.03" fill="#FBFACD" stroke="#A3A39F" stroke-width="0.38"/>
<rect x="113.90" y="336.20" width="5.69" height="6.03" fill="#DDEEF3" stroke="#A3A39F" stroke-width="0.38"/>
<rect x="119.59" y="336.20" width="5.69" height="6.03" fill="#FBFACD" stroke="#A3A39F" stroke-width="0.38"/>
<rect x="125.28" y="336.20" width="5.69" height="6.03" fill="#FBFACD" stroke="#A3A39F" stroke-width="0.38"/>
<rect x="130.97" y="336.20" width="5.69" height="6.03" fill="#A8CBE3" stroke="#A3A39F" stroke-width="0.38"/>
<rect x="136.66" y="336.20" width="5.69" height="6.03" fill="#DDEEF3" stroke="#A3A39F" stroke-width="0.38"/>
<rect x="142.35" y="336.20" width="5.69" height="6.03" fill="#6F9DCC" stroke="#A3A39F" stroke-width="0.38"/>
<rect x="57.00" y="342.23" width="5.69" height="6.03" fill="#FCE4A0" stroke="#A3A39F" stroke-width="0.38"/>
<rect x="62.69" y="342.23" width="5.69" height="6.03" fill="#FCE4A0" stroke="#A3A39F" stroke-width="0.38"/>
<rect x="68.38" y="342.23" width="5.69" height="6.03" fill="#DDEEF3" stroke="#A3A39F" stroke-width="0.38"/>
<rect x="74.07" y="342.23" width="5.69" height="6.03" fill="#A8CBE3" stroke="#A3A39F" stroke-width="0.38"/>
<rect x="79.76" y="342.23" width="5.69" height="6.03" fill="#FBFACD" stroke="#A3A39F" stroke-width="0.38"/>
<rect x="85.45" y="342.23" width="5.69" height="6.03" fill="#DDEEF3" stroke="#A3A39F" stroke-width="0.38"/>
<rect x="91.14" y="342.23" width="5.69" height="6.03" fill="#FCE4A0" stroke="#A3A39F" stroke-width="0.38"/>
<rect x="96.83" y="342.23" width="5.69" height="6.03" fill="#FBFACD" stroke="#A3A39F" stroke-width="0.38"/>
<rect x="102.52" y="342.23" width="5.69" height="6.03" fill="#DDEEF3" stroke="#A3A39F" stroke-width="0.38"/>
<rect x="108.21" y="342.23" width="5.69" height="6.03" fill="#FBFACD" stroke="#A3A39F" stroke-width="0.38"/>
<rect x="113.90" y="342.23" width="5.69" height="6.03" fill="#DDEEF3" stroke="#A3A39F" stroke-width="0.38"/>
<rect x="119.59" y="342.23" width="5.69" height="6.03" fill="#FBFACD" stroke="#A3A39F" stroke-width="0.38"/>
<rect x="125.28" y="342.23" width="5.69" height="6.03" fill="#DDEEF3" stroke="#A3A39F" stroke-width="0.38"/>
<rect x="130.97" y="342.23" width="5.69" height="6.03" fill="#DDEEF3" stroke="#A3A39F" stroke-width="0.38"/>
<rect x="136.66" y="342.23" width="5.69" height="6.03" fill="#FBFACD" stroke="#A3A39F" stroke-width="0.38"/>
<rect x="142.35" y="342.23" width="5.69" height="6.03" fill="#3F71B5" stroke="#A3A39F" stroke-width="0.38"/>
<rect x="57.00" y="348.26" width="5.69" height="6.03" fill="#FBFACD" stroke="#A3A39F" stroke-width="0.38"/>
<rect x="62.69" y="348.26" width="5.69" height="6.03" fill="#FBFACD" stroke="#A3A39F" stroke-width="0.38"/>
<rect x="68.38" y="348.26" width="5.69" height="6.03" fill="#FBFACD" stroke="#A3A39F" stroke-width="0.38"/>
<rect x="74.07" y="348.26" width="5.69" height="6.03" fill="#FBFACD" stroke="#A3A39F" stroke-width="0.38"/>
<rect x="79.76" y="348.26" width="5.69" height="6.03" fill="#DDEEF3" stroke="#A3A39F" stroke-width="0.38"/>
<rect x="85.45" y="348.26" width="5.69" height="6.03" fill="#A8CBE3" stroke="#A3A39F" stroke-width="0.38"/>
<rect x="91.14" y="348.26" width="5.69" height="6.03" fill="#6F9DCC" stroke="#A3A39F" stroke-width="0.38"/>
<rect x="96.83" y="348.26" width="5.69" height="6.03" fill="#3F71B5" stroke="#A3A39F" stroke-width="0.38"/>
<rect x="102.52" y="348.26" width="5.69" height="6.03" fill="#3F71B5" stroke="#A3A39F" stroke-width="0.38"/>
<rect x="108.21" y="348.26" width="5.69" height="6.03" fill="#3F71B5" stroke="#A3A39F" stroke-width="0.38"/>
<rect x="113.90" y="348.26" width="5.69" height="6.03" fill="#3F71B5" stroke="#A3A39F" stroke-width="0.38"/>
<rect x="119.59" y="348.26" width="5.69" height="6.03" fill="#3F71B5" stroke="#A3A39F" stroke-width="0.38"/>
<rect x="125.28" y="348.26" width="5.69" height="6.03" fill="#3F71B5" stroke="#A3A39F" stroke-width="0.38"/>
<rect x="130.97" y="348.26" width="5.69" height="6.03" fill="#3F71B5" stroke="#A3A39F" stroke-width="0.38"/>
<rect x="136.66" y="348.26" width="5.69" height="6.03" fill="#3F71B5" stroke="#A3A39F" stroke-width="0.38"/>
<rect x="142.35" y="348.26" width="5.69" height="6.03" fill="#3F71B5" stroke="#A3A39F" stroke-width="0.38"/>
<rect x="57.00" y="354.29" width="5.69" height="6.03" fill="#6F9DCC" stroke="#A3A39F" stroke-width="0.38"/>
<rect x="62.69" y="354.29" width="5.69" height="6.03" fill="#6F9DCC" stroke="#A3A39F" stroke-width="0.38"/>
<rect x="68.38" y="354.29" width="5.69" height="6.03" fill="#DDEEF3" stroke="#A3A39F" stroke-width="0.38"/>
<rect x="74.07" y="354.29" width="5.69" height="6.03" fill="#DDEEF3" stroke="#A3A39F" stroke-width="0.38"/>
<rect x="79.76" y="354.29" width="5.69" height="6.03" fill="#A8CBE3" stroke="#A3A39F" stroke-width="0.38"/>
<rect x="85.45" y="354.29" width="5.69" height="6.03" fill="#A8CBE3" stroke="#A3A39F" stroke-width="0.38"/>
<rect x="91.14" y="354.29" width="5.69" height="6.03" fill="#3F71B5" stroke="#A3A39F" stroke-width="0.38"/>
<rect x="96.83" y="354.29" width="5.69" height="6.03" fill="#3F71B5" stroke="#A3A39F" stroke-width="0.38"/>
<rect x="102.52" y="354.29" width="5.69" height="6.03" fill="#3F71B5" stroke="#A3A39F" stroke-width="0.38"/>
<rect x="108.21" y="354.29" width="5.69" height="6.03" fill="#3F71B5" stroke="#A3A39F" stroke-width="0.38"/>
<rect x="113.90" y="354.29" width="5.69" height="6.03" fill="#3F71B5" stroke="#A3A39F" stroke-width="0.38"/>
<rect x="119.59" y="354.29" width="5.69" height="6.03" fill="#3F71B5" stroke="#A3A39F" stroke-width="0.38"/>
<rect x="125.28" y="354.29" width="5.69" height="6.03" fill="#3F71B5" stroke="#A3A39F" stroke-width="0.38"/>
<rect x="130.97" y="354.29" width="5.69" height="6.03" fill="#3F71B5" stroke="#A3A39F" stroke-width="0.38"/>
<rect x="136.66" y="354.29" width="5.69" height="6.03" fill="#3F71B5" stroke="#A3A39F" stroke-width="0.38"/>
<rect x="142.35" y="354.29" width="5.69" height="6.03" fill="#3F71B5" stroke="#A3A39F" stroke-width="0.38"/>
<rect x="57.00" y="360.32" width="5.69" height="6.03" fill="#DDEEF3" stroke="#A3A39F" stroke-width="0.38"/>
<rect x="62.69" y="360.32" width="5.69" height="6.03" fill="#DDEEF3" stroke="#A3A39F" stroke-width="0.38"/>
<rect x="68.38" y="360.32" width="5.69" height="6.03" fill="#DDEEF3" stroke="#A3A39F" stroke-width="0.38"/>
<rect x="74.07" y="360.32" width="5.69" height="6.03" fill="#DDEEF3" stroke="#A3A39F" stroke-width="0.38"/>
<rect x="79.76" y="360.32" width="5.69" height="6.03" fill="#FBFACD" stroke="#A3A39F" stroke-width="0.38"/>
<rect x="85.45" y="360.32" width="5.69" height="6.03" fill="#A8CBE3" stroke="#A3A39F" stroke-width="0.38"/>
<rect x="91.14" y="360.32" width="5.69" height="6.03" fill="#6F9DCC" stroke="#A3A39F" stroke-width="0.38"/>
<rect x="96.83" y="360.32" width="5.69" height="6.03" fill="#6F9DCC" stroke="#A3A39F" stroke-width="0.38"/>
<rect x="102.52" y="360.32" width="5.69" height="6.03" fill="#3F71B5" stroke="#A3A39F" stroke-width="0.38"/>
<rect x="108.21" y="360.32" width="5.69" height="6.03" fill="#3F71B5" stroke="#A3A39F" stroke-width="0.38"/>
<rect x="113.90" y="360.32" width="5.69" height="6.03" fill="#3F71B5" stroke="#A3A39F" stroke-width="0.38"/>
<rect x="119.59" y="360.32" width="5.69" height="6.03" fill="#A8CBE3" stroke="#A3A39F" stroke-width="0.38"/>
<rect x="125.28" y="360.32" width="5.69" height="6.03" fill="#A8CBE3" stroke="#A3A39F" stroke-width="0.38"/>
<rect x="130.97" y="360.32" width="5.69" height="6.03" fill="#3F71B5" stroke="#A3A39F" stroke-width="0.38"/>
<rect x="136.66" y="360.32" width="5.69" height="6.03" fill="#3F71B5" stroke="#A3A39F" stroke-width="0.38"/>
<rect x="142.35" y="360.32" width="5.69" height="6.03" fill="#3F71B5" stroke="#A3A39F" stroke-width="0.38"/>
<rect x="57.00" y="366.35" width="5.69" height="6.03" fill="#6F9DCC" stroke="#A3A39F" stroke-width="0.38"/>
<rect x="62.69" y="366.35" width="5.69" height="6.03" fill="#A8CBE3" stroke="#A3A39F" stroke-width="0.38"/>
<rect x="68.38" y="366.35" width="5.69" height="6.03" fill="#A8CBE3" stroke="#A3A39F" stroke-width="0.38"/>
<rect x="74.07" y="366.35" width="5.69" height="6.03" fill="#FBFACD" stroke="#A3A39F" stroke-width="0.38"/>
<rect x="79.76" y="366.35" width="5.69" height="6.03" fill="#A8CBE3" stroke="#A3A39F" stroke-width="0.38"/>
<rect x="85.45" y="366.35" width="5.69" height="6.03" fill="#FDBA72" stroke="#A3A39F" stroke-width="0.38"/>
<rect x="91.14" y="366.35" width="5.69" height="6.03" fill="#6F9DCC" stroke="#A3A39F" stroke-width="0.38"/>
<rect x="96.83" y="366.35" width="5.69" height="6.03" fill="#A8CBE3" stroke="#A3A39F" stroke-width="0.38"/>
<rect x="102.52" y="366.35" width="5.69" height="6.03" fill="#DDEEF3" stroke="#A3A39F" stroke-width="0.38"/>
<rect x="108.21" y="366.35" width="5.69" height="6.03" fill="#DDEEF3" stroke="#A3A39F" stroke-width="0.38"/>
<rect x="113.90" y="366.35" width="5.69" height="6.03" fill="#DDEEF3" stroke="#A3A39F" stroke-width="0.38"/>
<rect x="119.59" y="366.35" width="5.69" height="6.03" fill="#FBFACD" stroke="#A3A39F" stroke-width="0.38"/>
<rect x="125.28" y="366.35" width="5.69" height="6.03" fill="#DDEEF3" stroke="#A3A39F" stroke-width="0.38"/>
<rect x="130.97" y="366.35" width="5.69" height="6.03" fill="#6F9DCC" stroke="#A3A39F" stroke-width="0.38"/>
<rect x="136.66" y="366.35" width="5.69" height="6.03" fill="#A8CBE3" stroke="#A3A39F" stroke-width="0.38"/>
<rect x="142.35" y="366.35" width="5.69" height="6.03" fill="#3F71B5" stroke="#A3A39F" stroke-width="0.38"/>
<rect x="57.00" y="372.38" width="5.69" height="6.03" fill="#FBFACD" stroke="#A3A39F" stroke-width="0.38"/>
<rect x="62.69" y="372.38" width="5.69" height="6.03" fill="#FBFACD" stroke="#A3A39F" stroke-width="0.38"/>
<rect x="68.38" y="372.38" width="5.69" height="6.03" fill="#A8CBE3" stroke="#A3A39F" stroke-width="0.38"/>
<rect x="74.07" y="372.38" width="5.69" height="6.03" fill="#6F9DCC" stroke="#A3A39F" stroke-width="0.38"/>
<rect x="79.76" y="372.38" width="5.69" height="6.03" fill="#DDEEF3" stroke="#A3A39F" stroke-width="0.38"/>
<rect x="85.45" y="372.38" width="5.69" height="6.03" fill="#DDEEF3" stroke="#A3A39F" stroke-width="0.38"/>
<rect x="91.14" y="372.38" width="5.69" height="6.03" fill="#F26D45" stroke="#A3A39F" stroke-width="0.38"/>
<rect x="96.83" y="372.38" width="5.69" height="6.03" fill="#FDBA72" stroke="#A3A39F" stroke-width="0.38"/>
<rect x="102.52" y="372.38" width="5.69" height="6.03" fill="#FDBA72" stroke="#A3A39F" stroke-width="0.38"/>
<rect x="108.21" y="372.38" width="5.69" height="6.03" fill="#FDBA72" stroke="#A3A39F" stroke-width="0.38"/>
<rect x="113.90" y="372.38" width="5.69" height="6.03" fill="#FCE4A0" stroke="#A3A39F" stroke-width="0.38"/>
<rect x="119.59" y="372.38" width="5.69" height="6.03" fill="#FDBA72" stroke="#A3A39F" stroke-width="0.38"/>
<rect x="125.28" y="372.38" width="5.69" height="6.03" fill="#F9A05C" stroke="#A3A39F" stroke-width="0.38"/>
<rect x="130.97" y="372.38" width="5.69" height="6.03" fill="#FDBA72" stroke="#A3A39F" stroke-width="0.38"/>
<rect x="136.66" y="372.38" width="5.69" height="6.03" fill="#FBFACD" stroke="#A3A39F" stroke-width="0.38"/>
<rect x="142.35" y="372.38" width="5.69" height="6.03" fill="#A8CBE3" stroke="#A3A39F" stroke-width="0.38"/>
<rect x="57.00" y="378.41" width="5.69" height="6.03" fill="#DDEEF3" stroke="#A3A39F" stroke-width="0.38"/>
<rect x="62.69" y="378.41" width="5.69" height="6.03" fill="#DDEEF3" stroke="#A3A39F" stroke-width="0.38"/>
<rect x="68.38" y="378.41" width="5.69" height="6.03" fill="#6F9DCC" stroke="#A3A39F" stroke-width="0.38"/>
<rect x="74.07" y="378.41" width="5.69" height="6.03" fill="#A8CBE3" stroke="#A3A39F" stroke-width="0.38"/>
<rect x="79.76" y="378.41" width="5.69" height="6.03" fill="#A8CBE3" stroke="#A3A39F" stroke-width="0.38"/>
<rect x="85.45" y="378.41" width="5.69" height="6.03" fill="#FBFACD" stroke="#A3A39F" stroke-width="0.38"/>
<rect x="91.14" y="378.41" width="5.69" height="6.03" fill="#FBFACD" stroke="#A3A39F" stroke-width="0.38"/>
<rect x="96.83" y="378.41" width="5.69" height="6.03" fill="#FCE4A0" stroke="#A3A39F" stroke-width="0.38"/>
<rect x="102.52" y="378.41" width="5.69" height="6.03" fill="#FBFACD" stroke="#A3A39F" stroke-width="0.38"/>
<rect x="108.21" y="378.41" width="5.69" height="6.03" fill="#FCE4A0" stroke="#A3A39F" stroke-width="0.38"/>
<rect x="113.90" y="378.41" width="5.69" height="6.03" fill="#FBFACD" stroke="#A3A39F" stroke-width="0.38"/>
<rect x="119.59" y="378.41" width="5.69" height="6.03" fill="#FBFACD" stroke="#A3A39F" stroke-width="0.38"/>
<rect x="125.28" y="378.41" width="5.69" height="6.03" fill="#FCE4A0" stroke="#A3A39F" stroke-width="0.38"/>
<rect x="130.97" y="378.41" width="5.69" height="6.03" fill="#FCE4A0" stroke="#A3A39F" stroke-width="0.38"/>
<rect x="136.66" y="378.41" width="5.69" height="6.03" fill="#DDEEF3" stroke="#A3A39F" stroke-width="0.38"/>
<rect x="142.35" y="378.41" width="5.69" height="6.03" fill="#A8CBE3" stroke="#A3A39F" stroke-width="0.38"/>
<rect x="57.00" y="384.44" width="5.69" height="6.03" fill="#A8CBE3" stroke="#A3A39F" stroke-width="0.38"/>
<rect x="62.69" y="384.44" width="5.69" height="6.03" fill="#3F71B5" stroke="#A3A39F" stroke-width="0.38"/>
<rect x="68.38" y="384.44" width="5.69" height="6.03" fill="#3F71B5" stroke="#A3A39F" stroke-width="0.38"/>
<rect x="74.07" y="384.44" width="5.69" height="6.03" fill="#3F71B5" stroke="#A3A39F" stroke-width="0.38"/>
<rect x="79.76" y="384.44" width="5.69" height="6.03" fill="#A8CBE3" stroke="#A3A39F" stroke-width="0.38"/>
<rect x="85.45" y="384.44" width="5.69" height="6.03" fill="#FBFACD" stroke="#A3A39F" stroke-width="0.38"/>
<rect x="91.14" y="384.44" width="5.69" height="6.03" fill="#FDBA72" stroke="#A3A39F" stroke-width="0.38"/>
<rect x="96.83" y="384.44" width="5.69" height="6.03" fill="#FBFACD" stroke="#A3A39F" stroke-width="0.38"/>
<rect x="102.52" y="384.44" width="5.69" height="6.03" fill="#D7302A" stroke="#A3A39F" stroke-width="0.38"/>
<rect x="108.21" y="384.44" width="5.69" height="6.03" fill="#E54B33" stroke="#A3A39F" stroke-width="0.38"/>
<rect x="113.90" y="384.44" width="5.69" height="6.03" fill="#D7302A" stroke="#A3A39F" stroke-width="0.38"/>
<rect x="119.59" y="384.44" width="5.69" height="6.03" fill="#E54B33" stroke="#A3A39F" stroke-width="0.38"/>
<rect x="125.28" y="384.44" width="5.69" height="6.03" fill="#FDBA72" stroke="#A3A39F" stroke-width="0.38"/>
<rect x="130.97" y="384.44" width="5.69" height="6.03" fill="#FCE4A0" stroke="#A3A39F" stroke-width="0.38"/>
<rect x="136.66" y="384.44" width="5.69" height="6.03" fill="#E54B33" stroke="#A3A39F" stroke-width="0.38"/>
<rect x="142.35" y="384.44" width="5.69" height="6.03" fill="#DDEEF3" stroke="#A3A39F" stroke-width="0.38"/>
<rect x="57.00" y="390.47" width="5.69" height="6.03" fill="#A8CBE3" stroke="#A3A39F" stroke-width="0.38"/>
<rect x="62.69" y="390.47" width="5.69" height="6.03" fill="#A8CBE3" stroke="#A3A39F" stroke-width="0.38"/>
<rect x="68.38" y="390.47" width="5.69" height="6.03" fill="#3F71B5" stroke="#A3A39F" stroke-width="0.38"/>
<rect x="74.07" y="390.47" width="5.69" height="6.03" fill="#3F71B5" stroke="#A3A39F" stroke-width="0.38"/>
<rect x="79.76" y="390.47" width="5.69" height="6.03" fill="#A8CBE3" stroke="#A3A39F" stroke-width="0.38"/>
<rect x="85.45" y="390.47" width="5.69" height="6.03" fill="#FBFACD" stroke="#A3A39F" stroke-width="0.38"/>
<rect x="91.14" y="390.47" width="5.69" height="6.03" fill="#FCE4A0" stroke="#A3A39F" stroke-width="0.38"/>
<rect x="96.83" y="390.47" width="5.69" height="6.03" fill="#FBFACD" stroke="#A3A39F" stroke-width="0.38"/>
<rect x="102.52" y="390.47" width="5.69" height="6.03" fill="#F26D45" stroke="#A3A39F" stroke-width="0.38"/>
<rect x="108.21" y="390.47" width="5.69" height="6.03" fill="#F26D45" stroke="#A3A39F" stroke-width="0.38"/>
<rect x="113.90" y="390.47" width="5.69" height="6.03" fill="#F26D45" stroke="#A3A39F" stroke-width="0.38"/>
<rect x="119.59" y="390.47" width="5.69" height="6.03" fill="#F26D45" stroke="#A3A39F" stroke-width="0.38"/>
<rect x="125.28" y="390.47" width="5.69" height="6.03" fill="#FCE4A0" stroke="#A3A39F" stroke-width="0.38"/>
<rect x="130.97" y="390.47" width="5.69" height="6.03" fill="#FBFACD" stroke="#A3A39F" stroke-width="0.38"/>
<rect x="136.66" y="390.47" width="5.69" height="6.03" fill="#F26D45" stroke="#A3A39F" stroke-width="0.38"/>
<rect x="142.35" y="390.47" width="5.69" height="6.03" fill="#A8CBE3" stroke="#A3A39F" stroke-width="0.38"/>
<rect x="57.00" y="396.50" width="5.69" height="6.03" fill="#A8CBE3" stroke="#A3A39F" stroke-width="0.38"/>
<rect x="62.69" y="396.50" width="5.69" height="6.03" fill="#3F71B5" stroke="#A3A39F" stroke-width="0.38"/>
<rect x="68.38" y="396.50" width="5.69" height="6.03" fill="#3F71B5" stroke="#A3A39F" stroke-width="0.38"/>
<rect x="74.07" y="396.50" width="5.69" height="6.03" fill="#3F71B5" stroke="#A3A39F" stroke-width="0.38"/>
<rect x="79.76" y="396.50" width="5.69" height="6.03" fill="#A8CBE3" stroke="#A3A39F" stroke-width="0.38"/>
<rect x="85.45" y="396.50" width="5.69" height="6.03" fill="#FBFACD" stroke="#A3A39F" stroke-width="0.38"/>
<rect x="91.14" y="396.50" width="5.69" height="6.03" fill="#FCE4A0" stroke="#A3A39F" stroke-width="0.38"/>
<rect x="96.83" y="396.50" width="5.69" height="6.03" fill="#FBFACD" stroke="#A3A39F" stroke-width="0.38"/>
<rect x="102.52" y="396.50" width="5.69" height="6.03" fill="#E54B33" stroke="#A3A39F" stroke-width="0.38"/>
<rect x="108.21" y="396.50" width="5.69" height="6.03" fill="#F26D45" stroke="#A3A39F" stroke-width="0.38"/>
<rect x="113.90" y="396.50" width="5.69" height="6.03" fill="#E54B33" stroke="#A3A39F" stroke-width="0.38"/>
<rect x="119.59" y="396.50" width="5.69" height="6.03" fill="#F26D45" stroke="#A3A39F" stroke-width="0.38"/>
<rect x="125.28" y="396.50" width="5.69" height="6.03" fill="#FCE4A0" stroke="#A3A39F" stroke-width="0.38"/>
<rect x="130.97" y="396.50" width="5.69" height="6.03" fill="#FBFACD" stroke="#A3A39F" stroke-width="0.38"/>
<rect x="136.66" y="396.50" width="5.69" height="6.03" fill="#F26D45" stroke="#A3A39F" stroke-width="0.38"/>
<rect x="142.35" y="396.50" width="5.69" height="6.03" fill="#DDEEF3" stroke="#A3A39F" stroke-width="0.38"/>
<rect x="57.00" y="402.53" width="5.69" height="6.03" fill="#A8CBE3" stroke="#A3A39F" stroke-width="0.38"/>
<rect x="62.69" y="402.53" width="5.69" height="6.03" fill="#A8CBE3" stroke="#A3A39F" stroke-width="0.38"/>
<rect x="68.38" y="402.53" width="5.69" height="6.03" fill="#3F71B5" stroke="#A3A39F" stroke-width="0.38"/>
<rect x="74.07" y="402.53" width="5.69" height="6.03" fill="#3F71B5" stroke="#A3A39F" stroke-width="0.38"/>
<rect x="79.76" y="402.53" width="5.69" height="6.03" fill="#A8CBE3" stroke="#A3A39F" stroke-width="0.38"/>
<rect x="85.45" y="402.53" width="5.69" height="6.03" fill="#FBFACD" stroke="#A3A39F" stroke-width="0.38"/>
<rect x="91.14" y="402.53" width="5.69" height="6.03" fill="#FDBA72" stroke="#A3A39F" stroke-width="0.38"/>
<rect x="96.83" y="402.53" width="5.69" height="6.03" fill="#FBFACD" stroke="#A3A39F" stroke-width="0.38"/>
<rect x="102.52" y="402.53" width="5.69" height="6.03" fill="#F26D45" stroke="#A3A39F" stroke-width="0.38"/>
<rect x="108.21" y="402.53" width="5.69" height="6.03" fill="#F26D45" stroke="#A3A39F" stroke-width="0.38"/>
<rect x="113.90" y="402.53" width="5.69" height="6.03" fill="#F26D45" stroke="#A3A39F" stroke-width="0.38"/>
<rect x="119.59" y="402.53" width="5.69" height="6.03" fill="#E54B33" stroke="#A3A39F" stroke-width="0.38"/>
<rect x="125.28" y="402.53" width="5.69" height="6.03" fill="#FDBA72" stroke="#A3A39F" stroke-width="0.38"/>
<rect x="130.97" y="402.53" width="5.69" height="6.03" fill="#FBFACD" stroke="#A3A39F" stroke-width="0.38"/>
<rect x="136.66" y="402.53" width="5.69" height="6.03" fill="#F26D45" stroke="#A3A39F" stroke-width="0.38"/>
<rect x="142.35" y="402.53" width="5.69" height="6.03" fill="#DDEEF3" stroke="#A3A39F" stroke-width="0.38"/>
<rect x="57.00" y="408.56" width="5.69" height="6.03" fill="#3F71B5" stroke="#A3A39F" stroke-width="0.38"/>
<rect x="62.69" y="408.56" width="5.69" height="6.03" fill="#3F71B5" stroke="#A3A39F" stroke-width="0.38"/>
<rect x="68.38" y="408.56" width="5.69" height="6.03" fill="#3F71B5" stroke="#A3A39F" stroke-width="0.38"/>
<rect x="74.07" y="408.56" width="5.69" height="6.03" fill="#3F71B5" stroke="#A3A39F" stroke-width="0.38"/>
<rect x="79.76" y="408.56" width="5.69" height="6.03" fill="#A8CBE3" stroke="#A3A39F" stroke-width="0.38"/>
<rect x="85.45" y="408.56" width="5.69" height="6.03" fill="#DDEEF3" stroke="#A3A39F" stroke-width="0.38"/>
<rect x="91.14" y="408.56" width="5.69" height="6.03" fill="#FCE4A0" stroke="#A3A39F" stroke-width="0.38"/>
<rect x="96.83" y="408.56" width="5.69" height="6.03" fill="#FBFACD" stroke="#A3A39F" stroke-width="0.38"/>
<rect x="102.52" y="408.56" width="5.69" height="6.03" fill="#FBFACD" stroke="#A3A39F" stroke-width="0.38"/>
<rect x="108.21" y="408.56" width="5.69" height="6.03" fill="#FBFACD" stroke="#A3A39F" stroke-width="0.38"/>
<rect x="113.90" y="408.56" width="5.69" height="6.03" fill="#FBFACD" stroke="#A3A39F" stroke-width="0.38"/>
<rect x="119.59" y="408.56" width="5.69" height="6.03" fill="#FCE4A0" stroke="#A3A39F" stroke-width="0.38"/>
<rect x="125.28" y="408.56" width="5.69" height="6.03" fill="#FDBA72" stroke="#A3A39F" stroke-width="0.38"/>
<rect x="130.97" y="408.56" width="5.69" height="6.03" fill="#FBFACD" stroke="#A3A39F" stroke-width="0.38"/>
<rect x="136.66" y="408.56" width="5.69" height="6.03" fill="#FBFACD" stroke="#A3A39F" stroke-width="0.38"/>
<rect x="142.35" y="408.56" width="5.69" height="6.03" fill="#A8CBE3" stroke="#A3A39F" stroke-width="0.38"/>
<rect x="57.00" y="414.59" width="5.69" height="6.03" fill="#FBFACD" stroke="#A3A39F" stroke-width="0.38"/>
<rect x="62.69" y="414.59" width="5.69" height="6.03" fill="#FBFACD" stroke="#A3A39F" stroke-width="0.38"/>
<rect x="68.38" y="414.59" width="5.69" height="6.03" fill="#DDEEF3" stroke="#A3A39F" stroke-width="0.38"/>
<rect x="74.07" y="414.59" width="5.69" height="6.03" fill="#A8CBE3" stroke="#A3A39F" stroke-width="0.38"/>
<rect x="79.76" y="414.59" width="5.69" height="6.03" fill="#DDEEF3" stroke="#A3A39F" stroke-width="0.38"/>
<rect x="85.45" y="414.59" width="5.69" height="6.03" fill="#FBFACD" stroke="#A3A39F" stroke-width="0.38"/>
<rect x="91.14" y="414.59" width="5.69" height="6.03" fill="#FCE4A0" stroke="#A3A39F" stroke-width="0.38"/>
<rect x="96.83" y="414.59" width="5.69" height="6.03" fill="#FBFACD" stroke="#A3A39F" stroke-width="0.38"/>
<rect x="102.52" y="414.59" width="5.69" height="6.03" fill="#FBFACD" stroke="#A3A39F" stroke-width="0.38"/>
<rect x="108.21" y="414.59" width="5.69" height="6.03" fill="#FBFACD" stroke="#A3A39F" stroke-width="0.38"/>
<rect x="113.90" y="414.59" width="5.69" height="6.03" fill="#FBFACD" stroke="#A3A39F" stroke-width="0.38"/>
<rect x="119.59" y="414.59" width="5.69" height="6.03" fill="#FBFACD" stroke="#A3A39F" stroke-width="0.38"/>
<rect x="125.28" y="414.59" width="5.69" height="6.03" fill="#FBFACD" stroke="#A3A39F" stroke-width="0.38"/>
<rect x="130.97" y="414.59" width="5.69" height="6.03" fill="#FBFACD" stroke="#A3A39F" stroke-width="0.38"/>
<rect x="136.66" y="414.59" width="5.69" height="6.03" fill="#DDEEF3" stroke="#A3A39F" stroke-width="0.38"/>
<rect x="142.35" y="414.59" width="5.69" height="6.03" fill="#A8CBE3" stroke="#A3A39F" stroke-width="0.38"/>
<rect x="57.00" y="420.62" width="5.69" height="6.03" fill="#3F71B5" stroke="#A3A39F" stroke-width="0.38"/>
<rect x="62.69" y="420.62" width="5.69" height="6.03" fill="#6F9DCC" stroke="#A3A39F" stroke-width="0.38"/>
<rect x="68.38" y="420.62" width="5.69" height="6.03" fill="#3F71B5" stroke="#A3A39F" stroke-width="0.38"/>
<rect x="74.07" y="420.62" width="5.69" height="6.03" fill="#6F9DCC" stroke="#A3A39F" stroke-width="0.38"/>
<rect x="79.76" y="420.62" width="5.69" height="6.03" fill="#3F71B5" stroke="#A3A39F" stroke-width="0.38"/>
<rect x="85.45" y="420.62" width="5.69" height="6.03" fill="#6F9DCC" stroke="#A3A39F" stroke-width="0.38"/>
<rect x="91.14" y="420.62" width="5.69" height="6.03" fill="#DDEEF3" stroke="#A3A39F" stroke-width="0.38"/>
<rect x="96.83" y="420.62" width="5.69" height="6.03" fill="#DDEEF3" stroke="#A3A39F" stroke-width="0.38"/>
<rect x="102.52" y="420.62" width="5.69" height="6.03" fill="#FDBA72" stroke="#A3A39F" stroke-width="0.38"/>
<rect x="108.21" y="420.62" width="5.69" height="6.03" fill="#FCE4A0" stroke="#A3A39F" stroke-width="0.38"/>
<rect x="113.90" y="420.62" width="5.69" height="6.03" fill="#FCE4A0" stroke="#A3A39F" stroke-width="0.38"/>
<rect x="119.59" y="420.62" width="5.69" height="6.03" fill="#FCE4A0" stroke="#A3A39F" stroke-width="0.38"/>
<rect x="125.28" y="420.62" width="5.69" height="6.03" fill="#FBFACD" stroke="#A3A39F" stroke-width="0.38"/>
<rect x="130.97" y="420.62" width="5.69" height="6.03" fill="#FBFACD" stroke="#A3A39F" stroke-width="0.38"/>
<rect x="136.66" y="420.62" width="5.69" height="6.03" fill="#FCE4A0" stroke="#A3A39F" stroke-width="0.38"/>
<rect x="142.35" y="420.62" width="5.69" height="6.03" fill="#6F9DCC" stroke="#A3A39F" stroke-width="0.38"/>
<rect x="57.00" y="426.65" width="5.69" height="6.03" fill="#3F71B5" stroke="#A3A39F" stroke-width="0.38"/>
<rect x="62.69" y="426.65" width="5.69" height="6.03" fill="#3F71B5" stroke="#A3A39F" stroke-width="0.38"/>
<rect x="68.38" y="426.65" width="5.69" height="6.03" fill="#3F71B5" stroke="#A3A39F" stroke-width="0.38"/>
<rect x="74.07" y="426.65" width="5.69" height="6.03" fill="#3F71B5" stroke="#A3A39F" stroke-width="0.38"/>
<rect x="79.76" y="426.65" width="5.69" height="6.03" fill="#3F71B5" stroke="#A3A39F" stroke-width="0.38"/>
<rect x="85.45" y="426.65" width="5.69" height="6.03" fill="#3F71B5" stroke="#A3A39F" stroke-width="0.38"/>
<rect x="91.14" y="426.65" width="5.69" height="6.03" fill="#3F71B5" stroke="#A3A39F" stroke-width="0.38"/>
<rect x="96.83" y="426.65" width="5.69" height="6.03" fill="#3F71B5" stroke="#A3A39F" stroke-width="0.38"/>
<rect x="102.52" y="426.65" width="5.69" height="6.03" fill="#3F71B5" stroke="#A3A39F" stroke-width="0.38"/>
<rect x="108.21" y="426.65" width="5.69" height="6.03" fill="#3F71B5" stroke="#A3A39F" stroke-width="0.38"/>
<rect x="113.90" y="426.65" width="5.69" height="6.03" fill="#3F71B5" stroke="#A3A39F" stroke-width="0.38"/>
<rect x="119.59" y="426.65" width="5.69" height="6.03" fill="#3F71B5" stroke="#A3A39F" stroke-width="0.38"/>
<rect x="125.28" y="426.65" width="5.69" height="6.03" fill="#3F71B5" stroke="#A3A39F" stroke-width="0.38"/>
<rect x="130.97" y="426.65" width="5.69" height="6.03" fill="#3F71B5" stroke="#A3A39F" stroke-width="0.38"/>
<rect x="136.66" y="426.65" width="5.69" height="6.03" fill="#3F71B5" stroke="#A3A39F" stroke-width="0.38"/>
<rect x="142.35" y="426.65" width="5.69" height="6.03" fill="#3F71B5" stroke="#A3A39F" stroke-width="0.38"/>
<text x="148.64" y="340.41" font-size="3.3" fill="#333">CD4 T</text>
<text x="148.64" y="346.44" font-size="3.3" fill="#333">Treg</text>
<text x="148.64" y="352.47" font-size="3.3" fill="#333">CD8 T</text>
<text x="148.64" y="358.50" font-size="3.3" fill="#333">gdT</text>
<text x="148.64" y="364.53" font-size="3.3" fill="#333">MAIT</text>
<text x="148.64" y="370.56" font-size="3.3" fill="#333">NK</text>
<text x="148.64" y="376.59" font-size="3.3" fill="#333">B</text>
<text x="148.64" y="382.62" font-size="3.3" fill="#333">Plasmablast</text>
<text x="148.64" y="388.65" font-size="3.3" fill="#333">CD14 Mono</text>
<text x="148.64" y="394.68" font-size="3.3" fill="#333">CD16 Mono</text>
<text x="148.64" y="400.71" font-size="3.3" fill="#333">Int Mono</text>
<text x="148.64" y="406.74" font-size="3.3" fill="#333">cDC</text>
<text x="148.64" y="412.77" font-size="3.3" fill="#333">pDC</text>
<text x="148.64" y="418.80" font-size="3.3" fill="#333">HSPC</text>
<text x="148.64" y="424.83" font-size="3.3" fill="#333">Neutrophils</text>
<text x="148.64" y="430.86" font-size="3.3" fill="#333">Basophils</text>
<text x="61.05" y="433.78" font-size="3.35" text-anchor="end" fill="#333" transform="rotate(-90 61.045 433.78000000000003)">CD4 T</text>
<text x="66.73" y="433.78" font-size="3.35" text-anchor="end" fill="#333" transform="rotate(-90 66.735 433.78000000000003)">Treg</text>
<text x="72.42" y="433.78" font-size="3.35" text-anchor="end" fill="#333" transform="rotate(-90 72.425 433.78000000000003)">CD8 T</text>
<text x="78.11" y="433.78" font-size="3.35" text-anchor="end" fill="#333" transform="rotate(-90 78.115 433.78000000000003)">gdT</text>
<text x="83.81" y="433.78" font-size="3.35" text-anchor="end" fill="#333" transform="rotate(-90 83.805 433.78000000000003)">MAIT</text>
<text x="89.50" y="433.78" font-size="3.35" text-anchor="end" fill="#333" transform="rotate(-90 89.495 433.78000000000003)">NK</text>
<text x="95.19" y="433.78" font-size="3.35" text-anchor="end" fill="#333" transform="rotate(-90 95.185 433.78000000000003)">B</text>
<text x="100.88" y="433.78" font-size="3.35" text-anchor="end" fill="#333" transform="rotate(-90 100.87500000000001 433.78000000000003)">Plasmablast</text>
<text x="106.57" y="433.78" font-size="3.35" text-anchor="end" fill="#333" transform="rotate(-90 106.56500000000001 433.78000000000003)">CD14 Mono</text>
<text x="112.26" y="433.78" font-size="3.35" text-anchor="end" fill="#333" transform="rotate(-90 112.25500000000001 433.78000000000003)">CD16 Mono</text>
<text x="117.95" y="433.78" font-size="3.35" text-anchor="end" fill="#333" transform="rotate(-90 117.94500000000001 433.78000000000003)">Int Mono</text>
<text x="123.64" y="433.78" font-size="3.35" text-anchor="end" fill="#333" transform="rotate(-90 123.635 433.78000000000003)">cDC</text>
<text x="129.32" y="433.78" font-size="3.35" text-anchor="end" fill="#333" transform="rotate(-90 129.325 433.78000000000003)">pDC</text>
<text x="135.01" y="433.78" font-size="3.35" text-anchor="end" fill="#333" transform="rotate(-90 135.015 433.78000000000003)">HSPC</text>
<text x="140.71" y="433.78" font-size="3.35" text-anchor="end" fill="#333" transform="rotate(-90 140.705 433.78000000000003)">Neutrophils</text>
<text x="146.40" y="433.78" font-size="3.35" text-anchor="end" fill="#333" transform="rotate(-90 146.395 433.78000000000003)">Basophils</text>
<text x="104.10" y="328.50" font-size="4.55" text-anchor="middle" fill="#000">snRNA cell types identified</text>
<text x="104.10" y="334.90" font-size="4.55" text-anchor="middle" fill="#000">with Monaco reference</text>
<text x="55.60" y="383.90" font-size="4.55" text-anchor="middle" fill="#000" transform="rotate(-90 55.6 383.9)">snRNA cell types</text>
<text x="97.90" y="458.90" font-size="4.5" text-anchor="middle" fill="#000">scRNA cell types</text>
<defs><linearGradient id="g57" x1="0" y1="1" x2="0" y2="0"><stop offset="0" stop-color="#3F71B5"/><stop offset="0.25" stop-color="#A8CBE3"/><stop offset="0.45" stop-color="#F4F8E6"/><stop offset="0.55" stop-color="#FEF7B8"/><stop offset="0.75" stop-color="#FBB26C"/><stop offset="1" stop-color="#D9392E"/></linearGradient></defs>
<rect x="183.30" y="367.5" width="2.9" height="39.1" fill="url(#g57)"/>
<text x="187.60" y="406.10" font-size="2.8" fill="#555">0</text>
<text x="187.60" y="390.20" font-size="2.8" fill="#555">5</text>
<text x="187.60" y="374.30" font-size="2.8" fill="#555">10</text>
<text x="180.10" y="386.8" font-size="4.3" text-anchor="middle" fill="#000" transform="rotate(-90 180.10 386.8)">log<tspan font-size="3" dy="0.9">2</tspan><tspan dy="-0.9"> (Number of markers)</tspan></text>
<rect x="240.20" y="336.20" width="5.69" height="6.03" fill="#FCE4A0" stroke="#A3A39F" stroke-width="0.38"/>
<rect x="245.89" y="336.20" width="5.69" height="6.03" fill="#FCE4A0" stroke="#A3A39F" stroke-width="0.38"/>
<rect x="251.58" y="336.20" width="5.69" height="6.03" fill="#FBFACD" stroke="#A3A39F" stroke-width="0.38"/>
<rect x="257.27" y="336.20" width="5.69" height="6.03" fill="#FBFACD" stroke="#A3A39F" stroke-width="0.38"/>
<rect x="262.96" y="336.20" width="5.69" height="6.03" fill="#FBFACD" stroke="#A3A39F" stroke-width="0.38"/>
<rect x="268.65" y="336.20" width="5.69" height="6.03" fill="#A8CBE3" stroke="#A3A39F" stroke-width="0.38"/>
<rect x="274.34" y="336.20" width="5.69" height="6.03" fill="#FBFACD" stroke="#A3A39F" stroke-width="0.38"/>
<rect x="280.03" y="336.20" width="5.69" height="6.03" fill="#DDEEF3" stroke="#A3A39F" stroke-width="0.38"/>
<rect x="285.72" y="336.20" width="5.69" height="6.03" fill="#DDEEF3" stroke="#A3A39F" stroke-width="0.38"/>
<rect x="291.41" y="336.20" width="5.69" height="6.03" fill="#FBFACD" stroke="#A3A39F" stroke-width="0.38"/>
<rect x="297.10" y="336.20" width="5.69" height="6.03" fill="#DDEEF3" stroke="#A3A39F" stroke-width="0.38"/>
<rect x="302.79" y="336.20" width="5.69" height="6.03" fill="#FBFACD" stroke="#A3A39F" stroke-width="0.38"/>
<rect x="308.48" y="336.20" width="5.69" height="6.03" fill="#FBFACD" stroke="#A3A39F" stroke-width="0.38"/>
<rect x="314.17" y="336.20" width="5.69" height="6.03" fill="#A8CBE3" stroke="#A3A39F" stroke-width="0.38"/>
<rect x="319.86" y="336.20" width="5.69" height="6.03" fill="#FBFACD" stroke="#A3A39F" stroke-width="0.38"/>
<rect x="325.55" y="336.20" width="5.69" height="6.03" fill="#6F9DCC" stroke="#A3A39F" stroke-width="0.38"/>
<rect x="240.20" y="342.23" width="5.69" height="6.03" fill="#FCE4A0" stroke="#A3A39F" stroke-width="0.38"/>
<rect x="245.89" y="342.23" width="5.69" height="6.03" fill="#FCE4A0" stroke="#A3A39F" stroke-width="0.38"/>
<rect x="251.58" y="342.23" width="5.69" height="6.03" fill="#DDEEF3" stroke="#A3A39F" stroke-width="0.38"/>
<rect x="257.27" y="342.23" width="5.69" height="6.03" fill="#DDEEF3" stroke="#A3A39F" stroke-width="0.38"/>
<rect x="262.96" y="342.23" width="5.69" height="6.03" fill="#FBFACD" stroke="#A3A39F" stroke-width="0.38"/>
<rect x="268.65" y="342.23" width="5.69" height="6.03" fill="#DDEEF3" stroke="#A3A39F" stroke-width="0.38"/>
<rect x="274.34" y="342.23" width="5.69" height="6.03" fill="#FBFACD" stroke="#A3A39F" stroke-width="0.38"/>
<rect x="280.03" y="342.23" width="5.69" height="6.03" fill="#FBFACD" stroke="#A3A39F" stroke-width="0.38"/>
<rect x="285.72" y="342.23" width="5.69" height="6.03" fill="#FBFACD" stroke="#A3A39F" stroke-width="0.38"/>
<rect x="291.41" y="342.23" width="5.69" height="6.03" fill="#FBFACD" stroke="#A3A39F" stroke-width="0.38"/>
<rect x="297.10" y="342.23" width="5.69" height="6.03" fill="#FBFACD" stroke="#A3A39F" stroke-width="0.38"/>
<rect x="302.79" y="342.23" width="5.69" height="6.03" fill="#FBFACD" stroke="#A3A39F" stroke-width="0.38"/>
<rect x="308.48" y="342.23" width="5.69" height="6.03" fill="#DDEEF3" stroke="#A3A39F" stroke-width="0.38"/>
<rect x="314.17" y="342.23" width="5.69" height="6.03" fill="#DDEEF3" stroke="#A3A39F" stroke-width="0.38"/>
<rect x="319.86" y="342.23" width="5.69" height="6.03" fill="#FBFACD" stroke="#A3A39F" stroke-width="0.38"/>
<rect x="325.55" y="342.23" width="5.69" height="6.03" fill="#3F71B5" stroke="#A3A39F" stroke-width="0.38"/>
<rect x="240.20" y="348.26" width="5.69" height="6.03" fill="#FBFACD" stroke="#A3A39F" stroke-width="0.38"/>
<rect x="245.89" y="348.26" width="5.69" height="6.03" fill="#FBFACD" stroke="#A3A39F" stroke-width="0.38"/>
<rect x="251.58" y="348.26" width="5.69" height="6.03" fill="#DDEEF3" stroke="#A3A39F" stroke-width="0.38"/>
<rect x="257.27" y="348.26" width="5.69" height="6.03" fill="#A8CBE3" stroke="#A3A39F" stroke-width="0.38"/>
<rect x="262.96" y="348.26" width="5.69" height="6.03" fill="#FBFACD" stroke="#A3A39F" stroke-width="0.38"/>
<rect x="268.65" y="348.26" width="5.69" height="6.03" fill="#3F71B5" stroke="#A3A39F" stroke-width="0.38"/>
<rect x="274.34" y="348.26" width="5.69" height="6.03" fill="#DDEEF3" stroke="#A3A39F" stroke-width="0.38"/>
<rect x="280.03" y="348.26" width="5.69" height="6.03" fill="#6F9DCC" stroke="#A3A39F" stroke-width="0.38"/>
<rect x="285.72" y="348.26" width="5.69" height="6.03" fill="#6F9DCC" stroke="#A3A39F" stroke-width="0.38"/>
<rect x="291.41" y="348.26" width="5.69" height="6.03" fill="#A8CBE3" stroke="#A3A39F" stroke-width="0.38"/>
<rect x="297.10" y="348.26" width="5.69" height="6.03" fill="#A8CBE3" stroke="#A3A39F" stroke-width="0.38"/>
<rect x="302.79" y="348.26" width="5.69" height="6.03" fill="#A8CBE3" stroke="#A3A39F" stroke-width="0.38"/>
<rect x="308.48" y="348.26" width="5.69" height="6.03" fill="#3F71B5" stroke="#A3A39F" stroke-width="0.38"/>
<rect x="314.17" y="348.26" width="5.69" height="6.03" fill="#3F71B5" stroke="#A3A39F" stroke-width="0.38"/>
<rect x="319.86" y="348.26" width="5.69" height="6.03" fill="#A8CBE3" stroke="#A3A39F" stroke-width="0.38"/>
<rect x="325.55" y="348.26" width="5.69" height="6.03" fill="#3F71B5" stroke="#A3A39F" stroke-width="0.38"/>
<rect x="240.20" y="354.29" width="5.69" height="6.03" fill="#6F9DCC" stroke="#A3A39F" stroke-width="0.38"/>
<rect x="245.89" y="354.29" width="5.69" height="6.03" fill="#6F9DCC" stroke="#A3A39F" stroke-width="0.38"/>
<rect x="251.58" y="354.29" width="5.69" height="6.03" fill="#FBFACD" stroke="#A3A39F" stroke-width="0.38"/>
<rect x="257.27" y="354.29" width="5.69" height="6.03" fill="#FBFACD" stroke="#A3A39F" stroke-width="0.38"/>
<rect x="262.96" y="354.29" width="5.69" height="6.03" fill="#DDEEF3" stroke="#A3A39F" stroke-width="0.38"/>
<rect x="268.65" y="354.29" width="5.69" height="6.03" fill="#DDEEF3" stroke="#A3A39F" stroke-width="0.38"/>
<rect x="274.34" y="354.29" width="5.69" height="6.03" fill="#3F71B5" stroke="#A3A39F" stroke-width="0.38"/>
<rect x="280.03" y="354.29" width="5.69" height="6.03" fill="#3F71B5" stroke="#A3A39F" stroke-width="0.38"/>
<rect x="285.72" y="354.29" width="5.69" height="6.03" fill="#3F71B5" stroke="#A3A39F" stroke-width="0.38"/>
<rect x="291.41" y="354.29" width="5.69" height="6.03" fill="#3F71B5" stroke="#A3A39F" stroke-width="0.38"/>
<rect x="297.10" y="354.29" width="5.69" height="6.03" fill="#3F71B5" stroke="#A3A39F" stroke-width="0.38"/>
<rect x="302.79" y="354.29" width="5.69" height="6.03" fill="#3F71B5" stroke="#A3A39F" stroke-width="0.38"/>
<rect x="308.48" y="354.29" width="5.69" height="6.03" fill="#3F71B5" stroke="#A3A39F" stroke-width="0.38"/>
<rect x="314.17" y="354.29" width="5.69" height="6.03" fill="#3F71B5" stroke="#A3A39F" stroke-width="0.38"/>
<rect x="319.86" y="354.29" width="5.69" height="6.03" fill="#3F71B5" stroke="#A3A39F" stroke-width="0.38"/>
<rect x="325.55" y="354.29" width="5.69" height="6.03" fill="#3F71B5" stroke="#A3A39F" stroke-width="0.38"/>
<rect x="240.20" y="360.32" width="5.69" height="6.03" fill="#DDEEF3" stroke="#A3A39F" stroke-width="0.38"/>
<rect x="245.89" y="360.32" width="5.69" height="6.03" fill="#DDEEF3" stroke="#A3A39F" stroke-width="0.38"/>
<rect x="251.58" y="360.32" width="5.69" height="6.03" fill="#DDEEF3" stroke="#A3A39F" stroke-width="0.38"/>
<rect x="257.27" y="360.32" width="5.69" height="6.03" fill="#DDEEF3" stroke="#A3A39F" stroke-width="0.38"/>
<rect x="262.96" y="360.32" width="5.69" height="6.03" fill="#FBFACD" stroke="#A3A39F" stroke-width="0.38"/>
<rect x="268.65" y="360.32" width="5.69" height="6.03" fill="#DDEEF3" stroke="#A3A39F" stroke-width="0.38"/>
<rect x="274.34" y="360.32" width="5.69" height="6.03" fill="#A8CBE3" stroke="#A3A39F" stroke-width="0.38"/>
<rect x="280.03" y="360.32" width="5.69" height="6.03" fill="#A8CBE3" stroke="#A3A39F" stroke-width="0.38"/>
<rect x="285.72" y="360.32" width="5.69" height="6.03" fill="#3F71B5" stroke="#A3A39F" stroke-width="0.38"/>
<rect x="291.41" y="360.32" width="5.69" height="6.03" fill="#3F71B5" stroke="#A3A39F" stroke-width="0.38"/>
<rect x="297.10" y="360.32" width="5.69" height="6.03" fill="#3F71B5" stroke="#A3A39F" stroke-width="0.38"/>
<rect x="302.79" y="360.32" width="5.69" height="6.03" fill="#A8CBE3" stroke="#A3A39F" stroke-width="0.38"/>
<rect x="308.48" y="360.32" width="5.69" height="6.03" fill="#A8CBE3" stroke="#A3A39F" stroke-width="0.38"/>
<rect x="314.17" y="360.32" width="5.69" height="6.03" fill="#3F71B5" stroke="#A3A39F" stroke-width="0.38"/>
<rect x="319.86" y="360.32" width="5.69" height="6.03" fill="#3F71B5" stroke="#A3A39F" stroke-width="0.38"/>
<rect x="325.55" y="360.32" width="5.69" height="6.03" fill="#3F71B5" stroke="#A3A39F" stroke-width="0.38"/>
<rect x="240.20" y="366.35" width="5.69" height="6.03" fill="#3F71B5" stroke="#A3A39F" stroke-width="0.38"/>
<rect x="245.89" y="366.35" width="5.69" height="6.03" fill="#6F9DCC" stroke="#A3A39F" stroke-width="0.38"/>
<rect x="251.58" y="366.35" width="5.69" height="6.03" fill="#A8CBE3" stroke="#A3A39F" stroke-width="0.38"/>
<rect x="257.27" y="366.35" width="5.69" height="6.03" fill="#FBFACD" stroke="#A3A39F" stroke-width="0.38"/>
<rect x="262.96" y="366.35" width="5.69" height="6.03" fill="#A8CBE3" stroke="#A3A39F" stroke-width="0.38"/>
<rect x="268.65" y="366.35" width="5.69" height="6.03" fill="#FDBA72" stroke="#A3A39F" stroke-width="0.38"/>
<rect x="274.34" y="366.35" width="5.69" height="6.03" fill="#6F9DCC" stroke="#A3A39F" stroke-width="0.38"/>
<rect x="280.03" y="366.35" width="5.69" height="6.03" fill="#A8CBE3" stroke="#A3A39F" stroke-width="0.38"/>
<rect x="285.72" y="366.35" width="5.69" height="6.03" fill="#DDEEF3" stroke="#A3A39F" stroke-width="0.38"/>
<rect x="291.41" y="366.35" width="5.69" height="6.03" fill="#DDEEF3" stroke="#A3A39F" stroke-width="0.38"/>
<rect x="297.10" y="366.35" width="5.69" height="6.03" fill="#DDEEF3" stroke="#A3A39F" stroke-width="0.38"/>
<rect x="302.79" y="366.35" width="5.69" height="6.03" fill="#FBFACD" stroke="#A3A39F" stroke-width="0.38"/>
<rect x="308.48" y="366.35" width="5.69" height="6.03" fill="#DDEEF3" stroke="#A3A39F" stroke-width="0.38"/>
<rect x="314.17" y="366.35" width="5.69" height="6.03" fill="#A8CBE3" stroke="#A3A39F" stroke-width="0.38"/>
<rect x="319.86" y="366.35" width="5.69" height="6.03" fill="#A8CBE3" stroke="#A3A39F" stroke-width="0.38"/>
<rect x="325.55" y="366.35" width="5.69" height="6.03" fill="#3F71B5" stroke="#A3A39F" stroke-width="0.38"/>
<rect x="240.20" y="372.38" width="5.69" height="6.03" fill="#FBFACD" stroke="#A3A39F" stroke-width="0.38"/>
<rect x="245.89" y="372.38" width="5.69" height="6.03" fill="#FBFACD" stroke="#A3A39F" stroke-width="0.38"/>
<rect x="251.58" y="372.38" width="5.69" height="6.03" fill="#DDEEF3" stroke="#A3A39F" stroke-width="0.38"/>
<rect x="257.27" y="372.38" width="5.69" height="6.03" fill="#A8CBE3" stroke="#A3A39F" stroke-width="0.38"/>
<rect x="262.96" y="372.38" width="5.69" height="6.03" fill="#DDEEF3" stroke="#A3A39F" stroke-width="0.38"/>
<rect x="268.65" y="372.38" width="5.69" height="6.03" fill="#DDEEF3" stroke="#A3A39F" stroke-width="0.38"/>
<rect x="274.34" y="372.38" width="5.69" height="6.03" fill="#F26D45" stroke="#A3A39F" stroke-width="0.38"/>
<rect x="280.03" y="372.38" width="5.69" height="6.03" fill="#FDBA72" stroke="#A3A39F" stroke-width="0.38"/>
<rect x="285.72" y="372.38" width="5.69" height="6.03" fill="#FDBA72" stroke="#A3A39F" stroke-width="0.38"/>
<rect x="291.41" y="372.38" width="5.69" height="6.03" fill="#FDBA72" stroke="#A3A39F" stroke-width="0.38"/>
<rect x="297.10" y="372.38" width="5.69" height="6.03" fill="#FCE4A0" stroke="#A3A39F" stroke-width="0.38"/>
<rect x="302.79" y="372.38" width="5.69" height="6.03" fill="#FDBA72" stroke="#A3A39F" stroke-width="0.38"/>
<rect x="308.48" y="372.38" width="5.69" height="6.03" fill="#F9A05C" stroke="#A3A39F" stroke-width="0.38"/>
<rect x="314.17" y="372.38" width="5.69" height="6.03" fill="#FDBA72" stroke="#A3A39F" stroke-width="0.38"/>
<rect x="319.86" y="372.38" width="5.69" height="6.03" fill="#FBFACD" stroke="#A3A39F" stroke-width="0.38"/>
<rect x="325.55" y="372.38" width="5.69" height="6.03" fill="#A8CBE3" stroke="#A3A39F" stroke-width="0.38"/>
<rect x="240.20" y="378.41" width="5.69" height="6.03" fill="#DDEEF3" stroke="#A3A39F" stroke-width="0.38"/>
<rect x="245.89" y="378.41" width="5.69" height="6.03" fill="#DDEEF3" stroke="#A3A39F" stroke-width="0.38"/>
<rect x="251.58" y="378.41" width="5.69" height="6.03" fill="#A8CBE3" stroke="#A3A39F" stroke-width="0.38"/>
<rect x="257.27" y="378.41" width="5.69" height="6.03" fill="#A8CBE3" stroke="#A3A39F" stroke-width="0.38"/>
<rect x="262.96" y="378.41" width="5.69" height="6.03" fill="#DDEEF3" stroke="#A3A39F" stroke-width="0.38"/>
<rect x="268.65" y="378.41" width="5.69" height="6.03" fill="#FBFACD" stroke="#A3A39F" stroke-width="0.38"/>
<rect x="274.34" y="378.41" width="5.69" height="6.03" fill="#FDBA72" stroke="#A3A39F" stroke-width="0.38"/>
<rect x="280.03" y="378.41" width="5.69" height="6.03" fill="#FCE4A0" stroke="#A3A39F" stroke-width="0.38"/>
<rect x="285.72" y="378.41" width="5.69" height="6.03" fill="#FCE4A0" stroke="#A3A39F" stroke-width="0.38"/>
<rect x="291.41" y="378.41" width="5.69" height="6.03" fill="#FCE4A0" stroke="#A3A39F" stroke-width="0.38"/>
<rect x="297.10" y="378.41" width="5.69" height="6.03" fill="#FCE4A0" stroke="#A3A39F" stroke-width="0.38"/>
<rect x="302.79" y="378.41" width="5.69" height="6.03" fill="#FCE4A0" stroke="#A3A39F" stroke-width="0.38"/>
<rect x="308.48" y="378.41" width="5.69" height="6.03" fill="#FCE4A0" stroke="#A3A39F" stroke-width="0.38"/>
<rect x="314.17" y="378.41" width="5.69" height="6.03" fill="#FBFACD" stroke="#A3A39F" stroke-width="0.38"/>
<rect x="319.86" y="378.41" width="5.69" height="6.03" fill="#DDEEF3" stroke="#A3A39F" stroke-width="0.38"/>
<rect x="325.55" y="378.41" width="5.69" height="6.03" fill="#A8CBE3" stroke="#A3A39F" stroke-width="0.38"/>
<rect x="240.20" y="384.44" width="5.69" height="6.03" fill="#6F9DCC" stroke="#A3A39F" stroke-width="0.38"/>
<rect x="245.89" y="384.44" width="5.69" height="6.03" fill="#3F71B5" stroke="#A3A39F" stroke-width="0.38"/>
<rect x="251.58" y="384.44" width="5.69" height="6.03" fill="#3F71B5" stroke="#A3A39F" stroke-width="0.38"/>
<rect x="257.27" y="384.44" width="5.69" height="6.03" fill="#3F71B5" stroke="#A3A39F" stroke-width="0.38"/>
<rect x="262.96" y="384.44" width="5.69" height="6.03" fill="#A8CBE3" stroke="#A3A39F" stroke-width="0.38"/>
<rect x="268.65" y="384.44" width="5.69" height="6.03" fill="#FBFACD" stroke="#A3A39F" stroke-width="0.38"/>
<rect x="274.34" y="384.44" width="5.69" height="6.03" fill="#FDBA72" stroke="#A3A39F" stroke-width="0.38"/>
<rect x="280.03" y="384.44" width="5.69" height="6.03" fill="#FBFACD" stroke="#A3A39F" stroke-width="0.38"/>
<rect x="285.72" y="384.44" width="5.69" height="6.03" fill="#D7302A" stroke="#A3A39F" stroke-width="0.38"/>
<rect x="291.41" y="384.44" width="5.69" height="6.03" fill="#E54B33" stroke="#A3A39F" stroke-width="0.38"/>
<rect x="297.10" y="384.44" width="5.69" height="6.03" fill="#D7302A" stroke="#A3A39F" stroke-width="0.38"/>
<rect x="302.79" y="384.44" width="5.69" height="6.03" fill="#E54B33" stroke="#A3A39F" stroke-width="0.38"/>
<rect x="308.48" y="384.44" width="5.69" height="6.03" fill="#FDBA72" stroke="#A3A39F" stroke-width="0.38"/>
<rect x="314.17" y="384.44" width="5.69" height="6.03" fill="#FCE4A0" stroke="#A3A39F" stroke-width="0.38"/>
<rect x="319.86" y="384.44" width="5.69" height="6.03" fill="#E54B33" stroke="#A3A39F" stroke-width="0.38"/>
<rect x="325.55" y="384.44" width="5.69" height="6.03" fill="#FBFACD" stroke="#A3A39F" stroke-width="0.38"/>
<rect x="240.20" y="390.47" width="5.69" height="6.03" fill="#6F9DCC" stroke="#A3A39F" stroke-width="0.38"/>
<rect x="245.89" y="390.47" width="5.69" height="6.03" fill="#6F9DCC" stroke="#A3A39F" stroke-width="0.38"/>
<rect x="251.58" y="390.47" width="5.69" height="6.03" fill="#3F71B5" stroke="#A3A39F" stroke-width="0.38"/>
<rect x="257.27" y="390.47" width="5.69" height="6.03" fill="#3F71B5" stroke="#A3A39F" stroke-width="0.38"/>
<rect x="262.96" y="390.47" width="5.69" height="6.03" fill="#A8CBE3" stroke="#A3A39F" stroke-width="0.38"/>
<rect x="268.65" y="390.47" width="5.69" height="6.03" fill="#FBFACD" stroke="#A3A39F" stroke-width="0.38"/>
<rect x="274.34" y="390.47" width="5.69" height="6.03" fill="#FCE4A0" stroke="#A3A39F" stroke-width="0.38"/>
<rect x="280.03" y="390.47" width="5.69" height="6.03" fill="#FBFACD" stroke="#A3A39F" stroke-width="0.38"/>
<rect x="285.72" y="390.47" width="5.69" height="6.03" fill="#F26D45" stroke="#A3A39F" stroke-width="0.38"/>
<rect x="291.41" y="390.47" width="5.69" height="6.03" fill="#F26D45" stroke="#A3A39F" stroke-width="0.38"/>
<rect x="297.10" y="390.47" width="5.69" height="6.03" fill="#F26D45" stroke="#A3A39F" stroke-width="0.38"/>
<rect x="302.79" y="390.47" width="5.69" height="6.03" fill="#F26D45" stroke="#A3A39F" stroke-width="0.38"/>
<rect x="308.48" y="390.47" width="5.69" height="6.03" fill="#FCE4A0" stroke="#A3A39F" stroke-width="0.38"/>
<rect x="314.17" y="390.47" width="5.69" height="6.03" fill="#FBFACD" stroke="#A3A39F" stroke-width="0.38"/>
<rect x="319.86" y="390.47" width="5.69" height="6.03" fill="#F26D45" stroke="#A3A39F" stroke-width="0.38"/>
<rect x="325.55" y="390.47" width="5.69" height="6.03" fill="#DDEEF3" stroke="#A3A39F" stroke-width="0.38"/>
<rect x="240.20" y="396.50" width="5.69" height="6.03" fill="#6F9DCC" stroke="#A3A39F" stroke-width="0.38"/>
<rect x="245.89" y="396.50" width="5.69" height="6.03" fill="#6F9DCC" stroke="#A3A39F" stroke-width="0.38"/>
<rect x="251.58" y="396.50" width="5.69" height="6.03" fill="#3F71B5" stroke="#A3A39F" stroke-width="0.38"/>
<rect x="257.27" y="396.50" width="5.69" height="6.03" fill="#3F71B5" stroke="#A3A39F" stroke-width="0.38"/>
<rect x="262.96" y="396.50" width="5.69" height="6.03" fill="#A8CBE3" stroke="#A3A39F" stroke-width="0.38"/>
<rect x="268.65" y="396.50" width="5.69" height="6.03" fill="#FBFACD" stroke="#A3A39F" stroke-width="0.38"/>
<rect x="274.34" y="396.50" width="5.69" height="6.03" fill="#FCE4A0" stroke="#A3A39F" stroke-width="0.38"/>
<rect x="280.03" y="396.50" width="5.69" height="6.03" fill="#FBFACD" stroke="#A3A39F" stroke-width="0.38"/>
<rect x="285.72" y="396.50" width="5.69" height="6.03" fill="#E54B33" stroke="#A3A39F" stroke-width="0.38"/>
<rect x="291.41" y="396.50" width="5.69" height="6.03" fill="#F26D45" stroke="#A3A39F" stroke-width="0.38"/>
<rect x="297.10" y="396.50" width="5.69" height="6.03" fill="#E54B33" stroke="#A3A39F" stroke-width="0.38"/>
<rect x="302.79" y="396.50" width="5.69" height="6.03" fill="#F26D45" stroke="#A3A39F" stroke-width="0.38"/>
<rect x="308.48" y="396.50" width="5.69" height="6.03" fill="#FCE4A0" stroke="#A3A39F" stroke-width="0.38"/>
<rect x="314.17" y="396.50" width="5.69" height="6.03" fill="#FBFACD" stroke="#A3A39F" stroke-width="0.38"/>
<rect x="319.86" y="396.50" width="5.69" height="6.03" fill="#F26D45" stroke="#A3A39F" stroke-width="0.38"/>
<rect x="325.55" y="396.50" width="5.69" height="6.03" fill="#DDEEF3" stroke="#A3A39F" stroke-width="0.38"/>
<rect x="240.20" y="402.53" width="5.69" height="6.03" fill="#6F9DCC" stroke="#A3A39F" stroke-width="0.38"/>
<rect x="245.89" y="402.53" width="5.69" height="6.03" fill="#A8CBE3" stroke="#A3A39F" stroke-width="0.38"/>
<rect x="251.58" y="402.53" width="5.69" height="6.03" fill="#3F71B5" stroke="#A3A39F" stroke-width="0.38"/>
<rect x="257.27" y="402.53" width="5.69" height="6.03" fill="#3F71B5" stroke="#A3A39F" stroke-width="0.38"/>
<rect x="262.96" y="402.53" width="5.69" height="6.03" fill="#A8CBE3" stroke="#A3A39F" stroke-width="0.38"/>
<rect x="268.65" y="402.53" width="5.69" height="6.03" fill="#FBFACD" stroke="#A3A39F" stroke-width="0.38"/>
<rect x="274.34" y="402.53" width="5.69" height="6.03" fill="#FDBA72" stroke="#A3A39F" stroke-width="0.38"/>
<rect x="280.03" y="402.53" width="5.69" height="6.03" fill="#FBFACD" stroke="#A3A39F" stroke-width="0.38"/>
<rect x="285.72" y="402.53" width="5.69" height="6.03" fill="#F26D45" stroke="#A3A39F" stroke-width="0.38"/>
<rect x="291.41" y="402.53" width="5.69" height="6.03" fill="#F26D45" stroke="#A3A39F" stroke-width="0.38"/>
<rect x="297.10" y="402.53" width="5.69" height="6.03" fill="#F26D45" stroke="#A3A39F" stroke-width="0.38"/>
<rect x="302.79" y="402.53" width="5.69" height="6.03" fill="#F26D45" stroke="#A3A39F" stroke-width="0.38"/>
<rect x="308.48" y="402.53" width="5.69" height="6.03" fill="#FDBA72" stroke="#A3A39F" stroke-width="0.38"/>
<rect x="314.17" y="402.53" width="5.69" height="6.03" fill="#FBFACD" stroke="#A3A39F" stroke-width="0.38"/>
<rect x="319.86" y="402.53" width="5.69" height="6.03" fill="#FDBA72" stroke="#A3A39F" stroke-width="0.38"/>
<rect x="325.55" y="402.53" width="5.69" height="6.03" fill="#DDEEF3" stroke="#A3A39F" stroke-width="0.38"/>
<rect x="240.20" y="408.56" width="5.69" height="6.03" fill="#3F71B5" stroke="#A3A39F" stroke-width="0.38"/>
<rect x="245.89" y="408.56" width="5.69" height="6.03" fill="#3F71B5" stroke="#A3A39F" stroke-width="0.38"/>
<rect x="251.58" y="408.56" width="5.69" height="6.03" fill="#3F71B5" stroke="#A3A39F" stroke-width="0.38"/>
<rect x="257.27" y="408.56" width="5.69" height="6.03" fill="#3F71B5" stroke="#A3A39F" stroke-width="0.38"/>
<rect x="262.96" y="408.56" width="5.69" height="6.03" fill="#A8CBE3" stroke="#A3A39F" stroke-width="0.38"/>
<rect x="268.65" y="408.56" width="5.69" height="6.03" fill="#DDEEF3" stroke="#A3A39F" stroke-width="0.38"/>
<rect x="274.34" y="408.56" width="5.69" height="6.03" fill="#FCE4A0" stroke="#A3A39F" stroke-width="0.38"/>
<rect x="280.03" y="408.56" width="5.69" height="6.03" fill="#FBFACD" stroke="#A3A39F" stroke-width="0.38"/>
<rect x="285.72" y="408.56" width="5.69" height="6.03" fill="#FCE4A0" stroke="#A3A39F" stroke-width="0.38"/>
<rect x="291.41" y="408.56" width="5.69" height="6.03" fill="#FCE4A0" stroke="#A3A39F" stroke-width="0.38"/>
<rect x="297.10" y="408.56" width="5.69" height="6.03" fill="#FCE4A0" stroke="#A3A39F" stroke-width="0.38"/>
<rect x="302.79" y="408.56" width="5.69" height="6.03" fill="#FCE4A0" stroke="#A3A39F" stroke-width="0.38"/>
<rect x="308.48" y="408.56" width="5.69" height="6.03" fill="#FDBA72" stroke="#A3A39F" stroke-width="0.38"/>
<rect x="314.17" y="408.56" width="5.69" height="6.03" fill="#FBFACD" stroke="#A3A39F" stroke-width="0.38"/>
<rect x="319.86" y="408.56" width="5.69" height="6.03" fill="#FBFACD" stroke="#A3A39F" stroke-width="0.38"/>
<rect x="325.55" y="408.56" width="5.69" height="6.03" fill="#A8CBE3" stroke="#A3A39F" stroke-width="0.38"/>
<rect x="240.20" y="414.59" width="5.69" height="6.03" fill="#6F9DCC" stroke="#A3A39F" stroke-width="0.38"/>
<rect x="245.89" y="414.59" width="5.69" height="6.03" fill="#6F9DCC" stroke="#A3A39F" stroke-width="0.38"/>
<rect x="251.58" y="414.59" width="5.69" height="6.03" fill="#3F71B5" stroke="#A3A39F" stroke-width="0.38"/>
<rect x="257.27" y="414.59" width="5.69" height="6.03" fill="#3F71B5" stroke="#A3A39F" stroke-width="0.38"/>
<rect x="262.96" y="414.59" width="5.69" height="6.03" fill="#3F71B5" stroke="#A3A39F" stroke-width="0.38"/>
<rect x="268.65" y="414.59" width="5.69" height="6.03" fill="#6F9DCC" stroke="#A3A39F" stroke-width="0.38"/>
<rect x="274.34" y="414.59" width="5.69" height="6.03" fill="#FBFACD" stroke="#A3A39F" stroke-width="0.38"/>
<rect x="280.03" y="414.59" width="5.69" height="6.03" fill="#DDEEF3" stroke="#A3A39F" stroke-width="0.38"/>
<rect x="285.72" y="414.59" width="5.69" height="6.03" fill="#FBFACD" stroke="#A3A39F" stroke-width="0.38"/>
<rect x="291.41" y="414.59" width="5.69" height="6.03" fill="#FBFACD" stroke="#A3A39F" stroke-width="0.38"/>
<rect x="297.10" y="414.59" width="5.69" height="6.03" fill="#DDEEF3" stroke="#A3A39F" stroke-width="0.38"/>
<rect x="302.79" y="414.59" width="5.69" height="6.03" fill="#FBFACD" stroke="#A3A39F" stroke-width="0.38"/>
<rect x="308.48" y="414.59" width="5.69" height="6.03" fill="#FBFACD" stroke="#A3A39F" stroke-width="0.38"/>
<rect x="314.17" y="414.59" width="5.69" height="6.03" fill="#FBFACD" stroke="#A3A39F" stroke-width="0.38"/>
<rect x="319.86" y="414.59" width="5.69" height="6.03" fill="#DDEEF3" stroke="#A3A39F" stroke-width="0.38"/>
<rect x="325.55" y="414.59" width="5.69" height="6.03" fill="#3F71B5" stroke="#A3A39F" stroke-width="0.38"/>
<rect x="240.20" y="420.62" width="5.69" height="6.03" fill="#3F71B5" stroke="#A3A39F" stroke-width="0.38"/>
<rect x="245.89" y="420.62" width="5.69" height="6.03" fill="#3F71B5" stroke="#A3A39F" stroke-width="0.38"/>
<rect x="251.58" y="420.62" width="5.69" height="6.03" fill="#3F71B5" stroke="#A3A39F" stroke-width="0.38"/>
<rect x="257.27" y="420.62" width="5.69" height="6.03" fill="#3F71B5" stroke="#A3A39F" stroke-width="0.38"/>
<rect x="262.96" y="420.62" width="5.69" height="6.03" fill="#3F71B5" stroke="#A3A39F" stroke-width="0.38"/>
<rect x="268.65" y="420.62" width="5.69" height="6.03" fill="#6F9DCC" stroke="#A3A39F" stroke-width="0.38"/>
<rect x="274.34" y="420.62" width="5.69" height="6.03" fill="#DDEEF3" stroke="#A3A39F" stroke-width="0.38"/>
<rect x="280.03" y="420.62" width="5.69" height="6.03" fill="#DDEEF3" stroke="#A3A39F" stroke-width="0.38"/>
<rect x="285.72" y="420.62" width="5.69" height="6.03" fill="#FCE4A0" stroke="#A3A39F" stroke-width="0.38"/>
<rect x="291.41" y="420.62" width="5.69" height="6.03" fill="#FCE4A0" stroke="#A3A39F" stroke-width="0.38"/>
<rect x="297.10" y="420.62" width="5.69" height="6.03" fill="#FCE4A0" stroke="#A3A39F" stroke-width="0.38"/>
<rect x="302.79" y="420.62" width="5.69" height="6.03" fill="#FCE4A0" stroke="#A3A39F" stroke-width="0.38"/>
<rect x="308.48" y="420.62" width="5.69" height="6.03" fill="#DDEEF3" stroke="#A3A39F" stroke-width="0.38"/>
<rect x="314.17" y="420.62" width="5.69" height="6.03" fill="#DDEEF3" stroke="#A3A39F" stroke-width="0.38"/>
<rect x="319.86" y="420.62" width="5.69" height="6.03" fill="#FCE4A0" stroke="#A3A39F" stroke-width="0.38"/>
<rect x="325.55" y="420.62" width="5.69" height="6.03" fill="#6F9DCC" stroke="#A3A39F" stroke-width="0.38"/>
<rect x="240.20" y="426.65" width="5.69" height="6.03" fill="#3F71B5" stroke="#A3A39F" stroke-width="0.38"/>
<rect x="245.89" y="426.65" width="5.69" height="6.03" fill="#3F71B5" stroke="#A3A39F" stroke-width="0.38"/>
<rect x="251.58" y="426.65" width="5.69" height="6.03" fill="#3F71B5" stroke="#A3A39F" stroke-width="0.38"/>
<rect x="257.27" y="426.65" width="5.69" height="6.03" fill="#3F71B5" stroke="#A3A39F" stroke-width="0.38"/>
<rect x="262.96" y="426.65" width="5.69" height="6.03" fill="#3F71B5" stroke="#A3A39F" stroke-width="0.38"/>
<rect x="268.65" y="426.65" width="5.69" height="6.03" fill="#3F71B5" stroke="#A3A39F" stroke-width="0.38"/>
<rect x="274.34" y="426.65" width="5.69" height="6.03" fill="#3F71B5" stroke="#A3A39F" stroke-width="0.38"/>
<rect x="280.03" y="426.65" width="5.69" height="6.03" fill="#3F71B5" stroke="#A3A39F" stroke-width="0.38"/>
<rect x="285.72" y="426.65" width="5.69" height="6.03" fill="#3F71B5" stroke="#A3A39F" stroke-width="0.38"/>
<rect x="291.41" y="426.65" width="5.69" height="6.03" fill="#3F71B5" stroke="#A3A39F" stroke-width="0.38"/>
<rect x="297.10" y="426.65" width="5.69" height="6.03" fill="#3F71B5" stroke="#A3A39F" stroke-width="0.38"/>
<rect x="302.79" y="426.65" width="5.69" height="6.03" fill="#3F71B5" stroke="#A3A39F" stroke-width="0.38"/>
<rect x="308.48" y="426.65" width="5.69" height="6.03" fill="#3F71B5" stroke="#A3A39F" stroke-width="0.38"/>
<rect x="314.17" y="426.65" width="5.69" height="6.03" fill="#3F71B5" stroke="#A3A39F" stroke-width="0.38"/>
<rect x="319.86" y="426.65" width="5.69" height="6.03" fill="#3F71B5" stroke="#A3A39F" stroke-width="0.38"/>
<rect x="325.55" y="426.65" width="5.69" height="6.03" fill="#3F71B5" stroke="#A3A39F" stroke-width="0.38"/>
<text x="331.84" y="340.41" font-size="3.3" fill="#333">CD4 T</text>
<text x="331.84" y="346.44" font-size="3.3" fill="#333">Treg</text>
<text x="331.84" y="352.47" font-size="3.3" fill="#333">CD8 T</text>
<text x="331.84" y="358.50" font-size="3.3" fill="#333">gdT</text>
<text x="331.84" y="364.53" font-size="3.3" fill="#333">MAIT</text>
<text x="331.84" y="370.56" font-size="3.3" fill="#333">NK</text>
<text x="331.84" y="376.59" font-size="3.3" fill="#333">B</text>
<text x="331.84" y="382.62" font-size="3.3" fill="#333">Plasmablast</text>
<text x="331.84" y="388.65" font-size="3.3" fill="#333">CD14 Mono</text>
<text x="331.84" y="394.68" font-size="3.3" fill="#333">CD16 Mono</text>
<text x="331.84" y="400.71" font-size="3.3" fill="#333">Int Mono</text>
<text x="331.84" y="406.74" font-size="3.3" fill="#333">cDC</text>
<text x="331.84" y="412.77" font-size="3.3" fill="#333">pDC</text>
<text x="331.84" y="418.80" font-size="3.3" fill="#333">HSPC</text>
<text x="331.84" y="424.83" font-size="3.3" fill="#333">Neutrophils</text>
<text x="331.84" y="430.86" font-size="3.3" fill="#333">Basophils</text>
<text x="244.24" y="433.78" font-size="3.35" text-anchor="end" fill="#333" transform="rotate(-90 244.24499999999998 433.78000000000003)">CD4 T</text>
<text x="249.93" y="433.78" font-size="3.35" text-anchor="end" fill="#333" transform="rotate(-90 249.93499999999997 433.78000000000003)">Treg</text>
<text x="255.62" y="433.78" font-size="3.35" text-anchor="end" fill="#333" transform="rotate(-90 255.62499999999997 433.78000000000003)">CD8 T</text>
<text x="261.31" y="433.78" font-size="3.35" text-anchor="end" fill="#333" transform="rotate(-90 261.315 433.78000000000003)">gdT</text>
<text x="267.00" y="433.78" font-size="3.35" text-anchor="end" fill="#333" transform="rotate(-90 267.005 433.78000000000003)">MAIT</text>
<text x="272.69" y="433.78" font-size="3.35" text-anchor="end" fill="#333" transform="rotate(-90 272.695 433.78000000000003)">NK</text>
<text x="278.38" y="433.78" font-size="3.35" text-anchor="end" fill="#333" transform="rotate(-90 278.385 433.78000000000003)">B</text>
<text x="284.07" y="433.78" font-size="3.35" text-anchor="end" fill="#333" transform="rotate(-90 284.075 433.78000000000003)">Plasmablast</text>
<text x="289.76" y="433.78" font-size="3.35" text-anchor="end" fill="#333" transform="rotate(-90 289.765 433.78000000000003)">CD14 Mono</text>
<text x="295.45" y="433.78" font-size="3.35" text-anchor="end" fill="#333" transform="rotate(-90 295.455 433.78000000000003)">CD16 Mono</text>
<text x="301.15" y="433.78" font-size="3.35" text-anchor="end" fill="#333" transform="rotate(-90 301.14500000000004 433.78000000000003)">Int Mono</text>
<text x="306.83" y="433.78" font-size="3.35" text-anchor="end" fill="#333" transform="rotate(-90 306.835 433.78000000000003)">cDC</text>
<text x="312.53" y="433.78" font-size="3.35" text-anchor="end" fill="#333" transform="rotate(-90 312.52500000000003 433.78000000000003)">pDC</text>
<text x="318.21" y="433.78" font-size="3.35" text-anchor="end" fill="#333" transform="rotate(-90 318.215 433.78000000000003)">HSPC</text>
<text x="323.91" y="433.78" font-size="3.35" text-anchor="end" fill="#333" transform="rotate(-90 323.90500000000003 433.78000000000003)">Neutrophils</text>
<text x="329.60" y="433.78" font-size="3.35" text-anchor="end" fill="#333" transform="rotate(-90 329.595 433.78000000000003)">Basophils</text>
<text x="285.40" y="328.50" font-size="4.55" text-anchor="middle" fill="#000">snRNA cell types identified with scRNA</text>
<text x="285.40" y="334.90" font-size="4.55" text-anchor="middle" fill="#000">from matched cohort as reference</text>
<text x="238.80" y="383.90" font-size="4.55" text-anchor="middle" fill="#000" transform="rotate(-90 238.8 383.9)">snRNA cell types</text>
<text x="282.70" y="458.90" font-size="4.5" text-anchor="middle" fill="#000">scRNA cell types</text>
<defs><linearGradient id="g240" x1="0" y1="1" x2="0" y2="0"><stop offset="0" stop-color="#3F71B5"/><stop offset="0.25" stop-color="#A8CBE3"/><stop offset="0.45" stop-color="#F4F8E6"/><stop offset="0.55" stop-color="#FEF7B8"/><stop offset="0.75" stop-color="#FBB26C"/><stop offset="1" stop-color="#D9392E"/></linearGradient></defs>
<rect x="365.80" y="367.5" width="2.9" height="39.1" fill="url(#g240)"/>
<text x="370.10" y="406.10" font-size="2.8" fill="#555">0</text>
<text x="370.10" y="390.20" font-size="2.8" fill="#555">5</text>
<text x="370.10" y="374.30" font-size="2.8" fill="#555">10</text>
<text x="362.60" y="386.8" font-size="4.3" text-anchor="middle" fill="#000" transform="rotate(-90 362.60 386.8)">log<tspan font-size="3" dy="0.9">2</tspan><tspan dy="-0.9"> (Number of markers)</tspan></text>
<text x="5.50" y="467.00" font-size="8.4" fill="#000">C</text>
<line x1="55.2" y1="472.2" x2="55.2" y2="534.2" stroke="#2a2a2a" stroke-width="0.7"/>
<line x1="55.2" y1="534.2" x2="123.9" y2="534.2" stroke="#2a2a2a" stroke-width="0.7"/>
<line x1="58.90" y1="534.2" x2="58.90" y2="535.4000000000001" stroke="#333" stroke-width="0.4"/>
<text x="58.90" y="538.90" font-size="3.6" text-anchor="middle" fill="#444">0</text>
<line x1="75.60" y1="534.2" x2="75.60" y2="535.4000000000001" stroke="#333" stroke-width="0.4"/>
<text x="75.60" y="538.90" font-size="3.6" text-anchor="middle" fill="#444">25</text>
<line x1="92.30" y1="534.2" x2="92.30" y2="535.4000000000001" stroke="#333" stroke-width="0.4"/>
<text x="92.30" y="538.90" font-size="3.6" text-anchor="middle" fill="#444">50</text>
<line x1="109.00" y1="534.2" x2="109.00" y2="535.4000000000001" stroke="#333" stroke-width="0.4"/>
<text x="109.00" y="538.90" font-size="3.6" text-anchor="middle" fill="#444">75</text>
<line x1="54.0" y1="531.40" x2="55.2" y2="531.40" stroke="#333" stroke-width="0.4"/>
<text x="53.60" y="532.70" font-size="3.8" text-anchor="end" fill="#444">0</text>
<line x1="54.0" y1="519.86" x2="55.2" y2="519.86" stroke="#333" stroke-width="0.4"/>
<text x="53.60" y="521.16" font-size="3.8" text-anchor="end" fill="#444">25</text>
<line x1="54.0" y1="508.32" x2="55.2" y2="508.32" stroke="#333" stroke-width="0.4"/>
<text x="53.60" y="509.62" font-size="3.8" text-anchor="end" fill="#444">50</text>
<line x1="54.0" y1="496.78" x2="55.2" y2="496.78" stroke="#333" stroke-width="0.4"/>
<text x="53.60" y="498.08" font-size="3.8" text-anchor="end" fill="#444">75</text>
<line x1="54.0" y1="485.24" x2="55.2" y2="485.24" stroke="#333" stroke-width="0.4"/>
<text x="53.60" y="486.54" font-size="3.8" text-anchor="end" fill="#444">100</text>
<line x1="54.0" y1="473.70" x2="55.2" y2="473.70" stroke="#333" stroke-width="0.4"/>
<text x="53.60" y="475.00" font-size="3.8" text-anchor="end" fill="#444">125</text>
<text x="55.60" y="469.30" font-size="5.0" font-weight="bold" fill="#000">HLA-DRA</text>
<text x="57.50" y="476.20" font-size="3.85" fill="#000">Spearman's ρ = 0.784</text>
<text x="57.50" y="481.40" font-size="3.85" fill="#000">p = 2.39e-45</text>
<text x="45.90" y="502.10" font-size="3.9" text-anchor="middle" fill="#000" transform="rotate(-90 45.9 502.1)">snRNA</text>
<text x="91.50" y="543.60" font-size="5.0" text-anchor="middle" fill="#000">scRNA</text>
<circle cx="120.40" cy="475.20" r="0.85" fill="#68A9E0" fill-opacity="0.9"/>
<circle cx="114.30" cy="481.10" r="0.85" fill="#68A9E0" fill-opacity="0.9"/>
<circle cx="101.50" cy="500.30" r="0.85" fill="#68A9E0" fill-opacity="0.9"/>
<circle cx="103.20" cy="500.30" r="0.85" fill="#68A9E0" fill-opacity="0.9"/>
<circle cx="105.80" cy="502.50" r="0.85" fill="#68A9E0" fill-opacity="0.9"/>
<circle cx="112.50" cy="501.40" r="0.85" fill="#68A9E0" fill-opacity="0.9"/>
<circle cx="119.30" cy="508.50" r="0.85" fill="#68A9E0" fill-opacity="0.9"/>
<circle cx="82.40" cy="509.60" r="0.85" fill="#68A9E0" fill-opacity="0.9"/>
<circle cx="92.40" cy="517.30" r="0.85" fill="#68A9E0" fill-opacity="0.9"/>
<circle cx="96.50" cy="514.90" r="0.85" fill="#68A9E0" fill-opacity="0.9"/>
<circle cx="93.90" cy="522.50" r="0.85" fill="#68A9E0" fill-opacity="0.9"/>
<circle cx="107.50" cy="521.70" r="0.85" fill="#68A9E0" fill-opacity="0.9"/>
<circle cx="108.80" cy="519.50" r="0.85" fill="#68A9E0" fill-opacity="0.9"/>
<circle cx="117.60" cy="522.00" r="0.85" fill="#68A9E0" fill-opacity="0.9"/>
<circle cx="88.40" cy="513.20" r="0.85" fill="#B3174F" fill-opacity="0.9"/>
<circle cx="80.30" cy="515.60" r="0.85" fill="#D8E6A0" fill-opacity="0.9"/>
<circle cx="87.20" cy="516.50" r="0.85" fill="#E3853E" fill-opacity="0.9"/>
<circle cx="85.40" cy="518.00" r="0.85" fill="#E3853E" fill-opacity="0.9"/>
<circle cx="82.00" cy="519.50" r="0.85" fill="#E3853E" fill-opacity="0.9"/>
<circle cx="71.90" cy="519.70" r="0.85" fill="#F9C193" fill-opacity="0.9"/>
<circle cx="79.40" cy="521.30" r="0.85" fill="#B3174F" fill-opacity="0.9"/>
<circle cx="89.00" cy="521.70" r="0.85" fill="#F9C193" fill-opacity="0.9"/>
<circle cx="77.00" cy="523.10" r="0.85" fill="#E3853E" fill-opacity="0.9"/>
<circle cx="69.10" cy="523.70" r="0.85" fill="#E3853E" fill-opacity="0.9"/>
<circle cx="86.00" cy="524.30" r="0.85" fill="#E3853E" fill-opacity="0.9"/>
<circle cx="72.10" cy="525.30" r="0.85" fill="#B3174F" fill-opacity="0.9"/>
<circle cx="73.90" cy="526.10" r="0.85" fill="#E3853E" fill-opacity="0.9"/>
<circle cx="80.00" cy="526.50" r="0.85" fill="#D8E6A0" fill-opacity="0.9"/>
<circle cx="83.60" cy="526.70" r="0.85" fill="#B3174F" fill-opacity="0.9"/>
<circle cx="76.90" cy="527.30" r="0.85" fill="#B3ABDD" fill-opacity="0.9"/>
<circle cx="66.70" cy="525.50" r="0.85" fill="#E3853E" fill-opacity="0.9"/>
<circle cx="63.70" cy="526.50" r="0.85" fill="#F3AEB1" fill-opacity="0.9"/>
<circle cx="70.90" cy="528.60" r="0.85" fill="#E3853E" fill-opacity="0.9"/>
<circle cx="68.50" cy="527.30" r="0.85" fill="#B3174F" fill-opacity="0.9"/>
<circle cx="99.30" cy="527.70" r="0.85" fill="#B3174F" fill-opacity="0.9"/>
<circle cx="88.40" cy="528.60" r="0.85" fill="#A77DCC" fill-opacity="0.9"/>
<circle cx="84.80" cy="528.20" r="0.85" fill="#F3AEB1" fill-opacity="0.9"/>
<circle cx="58.80" cy="528.60" r="0.85" fill="#A77DCC" fill-opacity="0.9"/>
<circle cx="73.30" cy="530.40" r="0.85" fill="#B3174F" fill-opacity="0.9"/>
<circle cx="88.40" cy="530.40" r="0.85" fill="#B3174F" fill-opacity="0.9"/>
<circle cx="78.80" cy="531.00" r="0.85" fill="#E3853E" fill-opacity="0.9"/>
<circle cx="82.40" cy="529.80" r="0.85" fill="#B3174F" fill-opacity="0.9"/>
<circle cx="67.30" cy="530.40" r="0.85" fill="#D59FD6" fill-opacity="0.9"/>
<circle cx="63.00" cy="530.40" r="0.85" fill="#3AAD4A" fill-opacity="0.9"/>
<circle cx="63.30" cy="529.57" r="0.85" fill="#A9DBA6" fill-opacity="0.9"/>
<circle cx="78.40" cy="528.90" r="0.85" fill="#F9C193" fill-opacity="0.9"/>
<circle cx="61.18" cy="530.53" r="0.85" fill="#B3ABDD" fill-opacity="0.9"/>
<circle cx="59.47" cy="529.26" r="0.85" fill="#D75C60" fill-opacity="0.9"/>
<circle cx="83.41" cy="524.51" r="0.85" fill="#D59FD6" fill-opacity="0.9"/>
<circle cx="69.99" cy="527.13" r="0.85" fill="#D59FD6" fill-opacity="0.9"/>
<circle cx="69.37" cy="529.88" r="0.85" fill="#B3ABDD" fill-opacity="0.9"/>
<circle cx="59.77" cy="529.28" r="0.85" fill="#E9EEA3" fill-opacity="0.9"/>
<circle cx="59.60" cy="531.10" r="0.85" fill="#D75C60" fill-opacity="0.9"/>
<circle cx="69.10" cy="531.10" r="0.85" fill="#E3853E" fill-opacity="0.9"/>
<circle cx="67.61" cy="527.78" r="0.85" fill="#A9DBA6" fill-opacity="0.9"/>
<circle cx="70.25" cy="529.07" r="0.85" fill="#E9EEA3" fill-opacity="0.9"/>
<circle cx="73.97" cy="528.51" r="0.85" fill="#F9C193" fill-opacity="0.9"/>
<circle cx="67.58" cy="529.35" r="0.85" fill="#A9DBA6" fill-opacity="0.9"/>
<circle cx="59.78" cy="529.44" r="0.85" fill="#F3AEB1" fill-opacity="0.9"/>
<circle cx="82.82" cy="524.97" r="0.85" fill="#A9DBA6" fill-opacity="0.9"/>
<circle cx="76.29" cy="525.51" r="0.85" fill="#A77DCC" fill-opacity="0.9"/>
<circle cx="63.66" cy="529.74" r="0.85" fill="#A9DBA6" fill-opacity="0.9"/>
<circle cx="59.27" cy="531.10" r="0.85" fill="#A9DBA6" fill-opacity="0.9"/>
<circle cx="59.20" cy="529.86" r="0.85" fill="#A9DBA6" fill-opacity="0.9"/>
<circle cx="62.48" cy="529.32" r="0.85" fill="#96CFD0" fill-opacity="0.9"/>
<circle cx="83.13" cy="526.55" r="0.85" fill="#F3AEB1" fill-opacity="0.9"/>
<circle cx="59.19" cy="531.10" r="0.85" fill="#B3ABDD" fill-opacity="0.9"/>
<circle cx="65.02" cy="528.47" r="0.85" fill="#E9EEA3" fill-opacity="0.9"/>
<circle cx="66.33" cy="527.66" r="0.85" fill="#96CFD0" fill-opacity="0.9"/>
<circle cx="80.05" cy="528.13" r="0.85" fill="#D8E6A0" fill-opacity="0.9"/>
<circle cx="73.41" cy="529.07" r="0.85" fill="#A9DBA6" fill-opacity="0.9"/>
<circle cx="60.56" cy="531.09" r="0.85" fill="#F3AEB1" fill-opacity="0.9"/>
<circle cx="78.77" cy="529.30" r="0.85" fill="#F3AEB1" fill-opacity="0.9"/>
<circle cx="65.54" cy="529.21" r="0.85" fill="#F3AEB1" fill-opacity="0.9"/>
<line x1="140.5" y1="472.2" x2="140.5" y2="534.2" stroke="#2a2a2a" stroke-width="0.7"/>
<line x1="140.5" y1="534.2" x2="208.9" y2="534.2" stroke="#2a2a2a" stroke-width="0.7"/>
<line x1="143.60" y1="534.2" x2="143.60" y2="535.4000000000001" stroke="#333" stroke-width="0.4"/>
<text x="143.60" y="538.90" font-size="3.6" text-anchor="middle" fill="#444">0</text>
<line x1="159.55" y1="534.2" x2="159.55" y2="535.4000000000001" stroke="#333" stroke-width="0.4"/>
<text x="159.55" y="538.90" font-size="3.6" text-anchor="middle" fill="#444">250</text>
<line x1="175.50" y1="534.2" x2="175.50" y2="535.4000000000001" stroke="#333" stroke-width="0.4"/>
<text x="175.50" y="538.90" font-size="3.6" text-anchor="middle" fill="#444">500</text>
<line x1="191.45" y1="534.2" x2="191.45" y2="535.4000000000001" stroke="#333" stroke-width="0.4"/>
<text x="191.45" y="538.90" font-size="3.6" text-anchor="middle" fill="#444">750</text>
<line x1="207.40" y1="534.2" x2="207.40" y2="535.4000000000001" stroke="#333" stroke-width="0.4"/>
<text x="207.40" y="538.90" font-size="3.6" text-anchor="middle" fill="#444">1000</text>
<line x1="139.3" y1="531.30" x2="140.5" y2="531.30" stroke="#333" stroke-width="0.4"/>
<text x="138.90" y="532.60" font-size="3.8" text-anchor="end" fill="#444">0</text>
<line x1="139.3" y1="518.70" x2="140.5" y2="518.70" stroke="#333" stroke-width="0.4"/>
<text x="138.90" y="520.00" font-size="3.8" text-anchor="end" fill="#444">50</text>
<line x1="139.3" y1="506.10" x2="140.5" y2="506.10" stroke="#333" stroke-width="0.4"/>
<text x="138.90" y="507.40" font-size="3.8" text-anchor="end" fill="#444">100</text>
<line x1="139.3" y1="493.50" x2="140.5" y2="493.50" stroke="#333" stroke-width="0.4"/>
<text x="138.90" y="494.80" font-size="3.8" text-anchor="end" fill="#444">150</text>
<line x1="139.3" y1="480.90" x2="140.5" y2="480.90" stroke="#333" stroke-width="0.4"/>
<text x="138.90" y="482.20" font-size="3.8" text-anchor="end" fill="#444">200</text>
<text x="140.90" y="469.30" font-size="5.0" font-weight="bold" fill="#000">NEAT1</text>
<text x="142.80" y="476.20" font-size="3.85" fill="#000">Spearman's ρ = 0.769</text>
<text x="142.80" y="481.40" font-size="3.85" fill="#000">p = 8.25e-44</text>
<text x="131.00" y="502.10" font-size="3.9" text-anchor="middle" fill="#000" transform="rotate(-90 131.0 502.1)">snRNA</text>
<text x="175.50" y="543.60" font-size="5.0" text-anchor="middle" fill="#000">scRNA</text>
<circle cx="181.60" cy="504.70" r="0.85" fill="#68A9E0" fill-opacity="0.9"/>
<circle cx="198.10" cy="504.70" r="0.85" fill="#68A9E0" fill-opacity="0.9"/>
<circle cx="180.90" cy="521.50" r="0.85" fill="#68A9E0" fill-opacity="0.9"/>
<circle cx="205.60" cy="518.80" r="0.85" fill="#68A9E0" fill-opacity="0.9"/>
<circle cx="156.90" cy="515.60" r="0.85" fill="#68A9E0" fill-opacity="0.9"/>
<circle cx="156.40" cy="526.30" r="0.85" fill="#68A9E0" fill-opacity="0.9"/>
<circle cx="150.00" cy="510.00" r="0.85" fill="#B3ABDD" fill-opacity="0.9"/>
<circle cx="151.80" cy="512.80" r="0.85" fill="#B3ABDD" fill-opacity="0.9"/>
<circle cx="156.50" cy="515.30" r="0.85" fill="#3AAD4A" fill-opacity="0.9"/>
<circle cx="159.40" cy="515.30" r="0.85" fill="#B3174F" fill-opacity="0.9"/>
<circle cx="148.90" cy="515.30" r="0.85" fill="#F9C193" fill-opacity="0.9"/>
<circle cx="147.60" cy="517.70" r="0.85" fill="#D59FD6" fill-opacity="0.9"/>
<circle cx="151.40" cy="517.00" r="0.85" fill="#F9C193" fill-opacity="0.9"/>
<circle cx="153.40" cy="519.10" r="0.85" fill="#B3174F" fill-opacity="0.9"/>
<circle cx="150.10" cy="520.40" r="0.85" fill="#B3174F" fill-opacity="0.9"/>
<circle cx="148.50" cy="520.40" r="0.85" fill="#B3ABDD" fill-opacity="0.9"/>
<circle cx="152.70" cy="520.40" r="0.85" fill="#F9C193" fill-opacity="0.9"/>
<circle cx="161.10" cy="521.90" r="0.85" fill="#A77DCC" fill-opacity="0.9"/>
<circle cx="144.20" cy="522.90" r="0.85" fill="#F3AEB1" fill-opacity="0.9"/>
<circle cx="145.90" cy="522.50" r="0.85" fill="#B3174F" fill-opacity="0.9"/>
<circle cx="147.60" cy="522.90" r="0.85" fill="#E3853E" fill-opacity="0.9"/>
<circle cx="146.30" cy="524.60" r="0.85" fill="#D75C60" fill-opacity="0.9"/>
<circle cx="150.60" cy="524.40" r="0.85" fill="#B3174F" fill-opacity="0.9"/>
<circle cx="152.30" cy="525.90" r="0.85" fill="#F3AEB1" fill-opacity="0.9"/>
<circle cx="145.10" cy="526.10" r="0.85" fill="#68A9E0" fill-opacity="0.9"/>
<circle cx="147.60" cy="527.00" r="0.85" fill="#B3174F" fill-opacity="0.9"/>
<circle cx="156.50" cy="527.00" r="0.85" fill="#3A68B8" fill-opacity="0.9"/>
<circle cx="144.20" cy="528.00" r="0.85" fill="#3AAD4A" fill-opacity="0.9"/>
<circle cx="144.20" cy="529.70" r="0.85" fill="#F9C193" fill-opacity="0.9"/>
<circle cx="148.50" cy="528.80" r="0.85" fill="#E3853E" fill-opacity="0.9"/>
<circle cx="146.30" cy="530.90" r="0.85" fill="#68A9E0" fill-opacity="0.9"/>
<circle cx="143.80" cy="530.50" r="0.85" fill="#B3ABDD" fill-opacity="0.9"/>
<circle cx="149.00" cy="523.00" r="0.85" fill="#D59FD6" fill-opacity="0.9"/>
<circle cx="147.00" cy="521.00" r="0.85" fill="#F9C193" fill-opacity="0.9"/>
<circle cx="148.00" cy="525.50" r="0.85" fill="#96CFD0" fill-opacity="0.9"/>
<circle cx="147.91" cy="522.77" r="0.85" fill="#D59FD6" fill-opacity="0.9"/>
<circle cx="146.45" cy="519.38" r="0.85" fill="#B3ABDD" fill-opacity="0.9"/>
<circle cx="146.05" cy="529.84" r="0.85" fill="#D59FD6" fill-opacity="0.9"/>
<circle cx="143.99" cy="530.35" r="0.85" fill="#E9EEA3" fill-opacity="0.9"/>
<circle cx="144.29" cy="530.89" r="0.85" fill="#3AAD4A" fill-opacity="0.9"/>
<circle cx="144.54" cy="528.59" r="0.85" fill="#96CFD0" fill-opacity="0.9"/>
<circle cx="144.04" cy="528.57" r="0.85" fill="#F9C193" fill-opacity="0.9"/>
<circle cx="149.56" cy="522.23" r="0.85" fill="#D75C60" fill-opacity="0.9"/>
<circle cx="148.90" cy="520.42" r="0.85" fill="#F3AEB1" fill-opacity="0.9"/>
<circle cx="145.55" cy="524.27" r="0.85" fill="#F9C193" fill-opacity="0.9"/>
<circle cx="146.59" cy="524.25" r="0.85" fill="#E3853E" fill-opacity="0.9"/>
<circle cx="149.53" cy="526.09" r="0.85" fill="#B3ABDD" fill-opacity="0.9"/>
<circle cx="149.30" cy="523.16" r="0.85" fill="#A9DBA6" fill-opacity="0.9"/>
<circle cx="147.94" cy="526.61" r="0.85" fill="#E9EEA3" fill-opacity="0.9"/>
<circle cx="145.82" cy="526.05" r="0.85" fill="#F9C193" fill-opacity="0.9"/>
<circle cx="145.66" cy="523.41" r="0.85" fill="#E3853E" fill-opacity="0.9"/>
<circle cx="148.63" cy="519.10" r="0.85" fill="#B3ABDD" fill-opacity="0.9"/>
<circle cx="144.85" cy="524.19" r="0.85" fill="#96CFD0" fill-opacity="0.9"/>
<circle cx="148.53" cy="526.79" r="0.85" fill="#D8E6A0" fill-opacity="0.9"/>
<circle cx="146.39" cy="518.87" r="0.85" fill="#D8E6A0" fill-opacity="0.9"/>
<circle cx="144.10" cy="527.66" r="0.85" fill="#A77DCC" fill-opacity="0.9"/>
<circle cx="144.88" cy="522.26" r="0.85" fill="#96CFD0" fill-opacity="0.9"/>
<circle cx="146.59" cy="521.53" r="0.85" fill="#A9DBA6" fill-opacity="0.9"/>
<circle cx="148.81" cy="526.84" r="0.85" fill="#E3853E" fill-opacity="0.9"/>
<circle cx="146.58" cy="523.36" r="0.85" fill="#A77DCC" fill-opacity="0.9"/>
<circle cx="144.14" cy="524.55" r="0.85" fill="#A9DBA6" fill-opacity="0.9"/>
<circle cx="146.10" cy="521.88" r="0.85" fill="#E9EEA3" fill-opacity="0.9"/>
<circle cx="149.80" cy="525.15" r="0.85" fill="#A9DBA6" fill-opacity="0.9"/>
<circle cx="148.63" cy="522.32" r="0.85" fill="#F3AEB1" fill-opacity="0.9"/>
<circle cx="147.70" cy="524.46" r="0.85" fill="#F3AEB1" fill-opacity="0.9"/>
<circle cx="143.73" cy="525.08" r="0.85" fill="#D75C60" fill-opacity="0.9"/>
<circle cx="146.89" cy="523.81" r="0.85" fill="#E3853E" fill-opacity="0.9"/>
<circle cx="148.76" cy="527.66" r="0.85" fill="#B3174F" fill-opacity="0.9"/>
<circle cx="146.73" cy="525.75" r="0.85" fill="#B3ABDD" fill-opacity="0.9"/>
<circle cx="146.21" cy="522.44" r="0.85" fill="#D8E6A0" fill-opacity="0.9"/>
<circle cx="149.20" cy="518.72" r="0.85" fill="#F9C193" fill-opacity="0.9"/>
<circle cx="146.22" cy="524.06" r="0.85" fill="#B3ABDD" fill-opacity="0.9"/>
<circle cx="144.55" cy="522.98" r="0.85" fill="#E9EEA3" fill-opacity="0.9"/>
<circle cx="147.40" cy="526.71" r="0.85" fill="#F3AEB1" fill-opacity="0.9"/>
<circle cx="146.55" cy="523.76" r="0.85" fill="#A77DCC" fill-opacity="0.9"/>
<line x1="225.5" y1="472.2" x2="225.5" y2="534.2" stroke="#2a2a2a" stroke-width="0.7"/>
<line x1="225.5" y1="534.2" x2="293.9" y2="534.2" stroke="#2a2a2a" stroke-width="0.7"/>
<line x1="228.90" y1="534.2" x2="228.90" y2="535.4000000000001" stroke="#333" stroke-width="0.4"/>
<text x="228.90" y="538.90" font-size="3.6" text-anchor="middle" fill="#444">0</text>
<line x1="244.03" y1="534.2" x2="244.03" y2="535.4000000000001" stroke="#333" stroke-width="0.4"/>
<text x="244.03" y="538.90" font-size="3.6" text-anchor="middle" fill="#444">25</text>
<line x1="259.15" y1="534.2" x2="259.15" y2="535.4000000000001" stroke="#333" stroke-width="0.4"/>
<text x="259.15" y="538.90" font-size="3.6" text-anchor="middle" fill="#444">50</text>
<line x1="274.27" y1="534.2" x2="274.27" y2="535.4000000000001" stroke="#333" stroke-width="0.4"/>
<text x="274.27" y="538.90" font-size="3.6" text-anchor="middle" fill="#444">75</text>
<line x1="289.40" y1="534.2" x2="289.40" y2="535.4000000000001" stroke="#333" stroke-width="0.4"/>
<text x="289.40" y="538.90" font-size="3.6" text-anchor="middle" fill="#444">100</text>
<line x1="224.3" y1="531.30" x2="225.5" y2="531.30" stroke="#333" stroke-width="0.4"/>
<text x="223.90" y="532.60" font-size="3.8" text-anchor="end" fill="#444">0</text>
<line x1="224.3" y1="514.40" x2="225.5" y2="514.40" stroke="#333" stroke-width="0.4"/>
<text x="223.90" y="515.70" font-size="3.8" text-anchor="end" fill="#444">50</text>
<line x1="224.3" y1="497.50" x2="225.5" y2="497.50" stroke="#333" stroke-width="0.4"/>
<text x="223.90" y="498.80" font-size="3.8" text-anchor="end" fill="#444">100</text>
<line x1="224.3" y1="480.60" x2="225.5" y2="480.60" stroke="#333" stroke-width="0.4"/>
<text x="223.90" y="481.90" font-size="3.8" text-anchor="end" fill="#444">150</text>
<text x="225.90" y="469.30" font-size="5.0" font-weight="bold" fill="#000">CD74</text>
<text x="227.80" y="476.20" font-size="3.85" fill="#000">Spearman's ρ = 0.765</text>
<text x="227.80" y="481.40" font-size="3.85" fill="#000">p = 2.78e-45</text>
<text x="216.00" y="502.10" font-size="3.9" text-anchor="middle" fill="#000" transform="rotate(-90 216.0 502.1)">snRNA</text>
<text x="259.20" y="543.60" font-size="5.0" text-anchor="middle" fill="#000">scRNA</text>
<circle cx="271.20" cy="475.10" r="0.85" fill="#68A9E0" fill-opacity="0.9"/>
<circle cx="265.80" cy="484.90" r="0.85" fill="#68A9E0" fill-opacity="0.9"/>
<circle cx="258.50" cy="495.00" r="0.85" fill="#68A9E0" fill-opacity="0.9"/>
<circle cx="280.80" cy="495.40" r="0.85" fill="#68A9E0" fill-opacity="0.9"/>
<circle cx="265.20" cy="499.30" r="0.85" fill="#68A9E0" fill-opacity="0.9"/>
<circle cx="273.60" cy="501.20" r="0.85" fill="#68A9E0" fill-opacity="0.9"/>
<circle cx="277.50" cy="504.80" r="0.85" fill="#68A9E0" fill-opacity="0.9"/>
<circle cx="268.50" cy="513.10" r="0.85" fill="#68A9E0" fill-opacity="0.9"/>
<circle cx="274.80" cy="510.80" r="0.85" fill="#68A9E0" fill-opacity="0.9"/>
<circle cx="276.60" cy="510.80" r="0.85" fill="#68A9E0" fill-opacity="0.9"/>
<circle cx="287.00" cy="516.70" r="0.85" fill="#68A9E0" fill-opacity="0.9"/>
<circle cx="281.50" cy="517.50" r="0.85" fill="#68A9E0" fill-opacity="0.9"/>
<circle cx="274.80" cy="515.70" r="0.85" fill="#68A9E0" fill-opacity="0.9"/>
<circle cx="257.60" cy="512.00" r="0.85" fill="#68A9E0" fill-opacity="0.9"/>
<circle cx="267.00" cy="523.40" r="0.85" fill="#68A9E0" fill-opacity="0.9"/>
<circle cx="254.00" cy="492.10" r="0.85" fill="#D8E6A0" fill-opacity="0.9"/>
<circle cx="291.10" cy="507.70" r="0.85" fill="#D8E6A0" fill-opacity="0.9"/>
<circle cx="286.60" cy="509.00" r="0.85" fill="#E9EEA3" fill-opacity="0.9"/>
<circle cx="259.40" cy="515.30" r="0.85" fill="#D8E6A0" fill-opacity="0.9"/>
<circle cx="261.60" cy="519.30" r="0.85" fill="#E9EEA3" fill-opacity="0.9"/>
<circle cx="268.80" cy="522.20" r="0.85" fill="#D8E6A0" fill-opacity="0.9"/>
<circle cx="283.00" cy="520.00" r="0.85" fill="#E9EEA3" fill-opacity="0.9"/>
<circle cx="252.50" cy="507.10" r="0.85" fill="#E3853E" fill-opacity="0.9"/>
<circle cx="256.70" cy="507.70" r="0.85" fill="#E3853E" fill-opacity="0.9"/>
<circle cx="242.20" cy="510.20" r="0.85" fill="#E3853E" fill-opacity="0.9"/>
<circle cx="248.60" cy="513.80" r="0.85" fill="#E3853E" fill-opacity="0.9"/>
<circle cx="262.10" cy="511.30" r="0.85" fill="#E3853E" fill-opacity="0.9"/>
<circle cx="272.50" cy="511.30" r="0.85" fill="#E3853E" fill-opacity="0.9"/>
<circle cx="255.40" cy="518.90" r="0.85" fill="#E3853E" fill-opacity="0.9"/>
<circle cx="265.80" cy="516.70" r="0.85" fill="#E3853E" fill-opacity="0.9"/>
<circle cx="267.00" cy="521.10" r="0.85" fill="#E3853E" fill-opacity="0.9"/>
<circle cx="250.70" cy="524.30" r="0.85" fill="#E3853E" fill-opacity="0.9"/>
<circle cx="244.90" cy="522.50" r="0.85" fill="#F9C193" fill-opacity="0.9"/>
<circle cx="250.00" cy="508.40" r="0.85" fill="#B3174F" fill-opacity="0.9"/>
<circle cx="248.90" cy="518.90" r="0.85" fill="#B3174F" fill-opacity="0.9"/>
<circle cx="246.40" cy="517.10" r="0.85" fill="#D75C60" fill-opacity="0.9"/>
<circle cx="251.30" cy="517.50" r="0.85" fill="#B3174F" fill-opacity="0.9"/>
<circle cx="253.60" cy="522.50" r="0.85" fill="#B3174F" fill-opacity="0.9"/>
<circle cx="262.70" cy="527.60" r="0.85" fill="#B3174F" fill-opacity="0.9"/>
<circle cx="250.40" cy="527.60" r="0.85" fill="#B3174F" fill-opacity="0.9"/>
<circle cx="246.70" cy="528.30" r="0.85" fill="#D59FD6" fill-opacity="0.9"/>
<circle cx="251.85" cy="521.48" r="0.85" fill="#B3174F" fill-opacity="0.9"/>
<circle cx="256.47" cy="525.78" r="0.85" fill="#E3853E" fill-opacity="0.9"/>
<circle cx="253.91" cy="520.49" r="0.85" fill="#B3174F" fill-opacity="0.9"/>
<circle cx="246.35" cy="523.20" r="0.85" fill="#F9C193" fill-opacity="0.9"/>
<circle cx="252.09" cy="521.88" r="0.85" fill="#A77DCC" fill-opacity="0.9"/>
<circle cx="247.83" cy="525.14" r="0.85" fill="#D8E6A0" fill-opacity="0.9"/>
<circle cx="257.37" cy="516.20" r="0.85" fill="#A77DCC" fill-opacity="0.9"/>
<circle cx="239.31" cy="528.71" r="0.85" fill="#B3174F" fill-opacity="0.9"/>
<circle cx="251.59" cy="523.59" r="0.85" fill="#D8E6A0" fill-opacity="0.9"/>
<circle cx="254.18" cy="518.18" r="0.85" fill="#E9EEA3" fill-opacity="0.9"/>
<circle cx="239.45" cy="523.41" r="0.85" fill="#F9C193" fill-opacity="0.9"/>
<circle cx="253.33" cy="523.38" r="0.85" fill="#D75C60" fill-opacity="0.9"/>
<circle cx="258.92" cy="516.19" r="0.85" fill="#D59FD6" fill-opacity="0.9"/>
<circle cx="259.01" cy="520.13" r="0.85" fill="#E9EEA3" fill-opacity="0.9"/>
<circle cx="235.72" cy="530.82" r="0.85" fill="#B3ABDD" fill-opacity="0.9"/>
<circle cx="238.64" cy="528.77" r="0.85" fill="#F9C193" fill-opacity="0.9"/>
<circle cx="242.07" cy="529.98" r="0.85" fill="#B3ABDD" fill-opacity="0.9"/>
<circle cx="249.30" cy="530.12" r="0.85" fill="#D59FD6" fill-opacity="0.9"/>
<circle cx="247.93" cy="527.84" r="0.85" fill="#96CFD0" fill-opacity="0.9"/>
<circle cx="246.76" cy="524.92" r="0.85" fill="#D59FD6" fill-opacity="0.9"/>
<circle cx="232.21" cy="529.18" r="0.85" fill="#A77DCC" fill-opacity="0.9"/>
<circle cx="230.96" cy="529.44" r="0.85" fill="#96CFD0" fill-opacity="0.9"/>
<circle cx="247.71" cy="530.43" r="0.85" fill="#A9DBA6" fill-opacity="0.9"/>
<circle cx="245.77" cy="528.01" r="0.85" fill="#A9DBA6" fill-opacity="0.9"/>
<circle cx="234.60" cy="531.30" r="0.85" fill="#B3ABDD" fill-opacity="0.9"/>
<circle cx="237.79" cy="527.51" r="0.85" fill="#D59FD6" fill-opacity="0.9"/>
<circle cx="240.05" cy="530.89" r="0.85" fill="#E9EEA3" fill-opacity="0.9"/>
<circle cx="234.54" cy="528.13" r="0.85" fill="#B3174F" fill-opacity="0.9"/>
<circle cx="240.14" cy="529.61" r="0.85" fill="#E9EEA3" fill-opacity="0.9"/>
<circle cx="234.72" cy="526.96" r="0.85" fill="#D59FD6" fill-opacity="0.9"/>
<circle cx="229.42" cy="530.01" r="0.85" fill="#E3853E" fill-opacity="0.9"/>
<circle cx="239.79" cy="529.52" r="0.85" fill="#96CFD0" fill-opacity="0.9"/>
<circle cx="242.75" cy="526.41" r="0.85" fill="#F9C193" fill-opacity="0.9"/>
<circle cx="235.50" cy="530.85" r="0.85" fill="#E3853E" fill-opacity="0.9"/>
<circle cx="246.40" cy="526.11" r="0.85" fill="#D59FD6" fill-opacity="0.9"/>
<circle cx="249.67" cy="523.16" r="0.85" fill="#96CFD0" fill-opacity="0.9"/>
<circle cx="230.57" cy="530.96" r="0.85" fill="#E9EEA3" fill-opacity="0.9"/>
<circle cx="230.25" cy="530.54" r="0.85" fill="#F9C193" fill-opacity="0.9"/>
<circle cx="243.04" cy="529.93" r="0.85" fill="#B3174F" fill-opacity="0.9"/>
<circle cx="230.04" cy="531.15" r="0.85" fill="#96CFD0" fill-opacity="0.9"/>
<circle cx="234.57" cy="526.87" r="0.85" fill="#B3ABDD" fill-opacity="0.9"/>
<circle cx="235.83" cy="528.48" r="0.85" fill="#E3853E" fill-opacity="0.9"/>
<circle cx="236.51" cy="530.55" r="0.85" fill="#F3AEB1" fill-opacity="0.9"/>
<circle cx="234.90" cy="530.17" r="0.85" fill="#96CFD0" fill-opacity="0.9"/>
<circle cx="230.99" cy="531.28" r="0.85" fill="#3AAD4A" fill-opacity="0.9"/>
<circle cx="229.97" cy="531.05" r="0.85" fill="#B3ABDD" fill-opacity="0.9"/>
<circle cx="230.86" cy="528.37" r="0.85" fill="#F3AEB1" fill-opacity="0.9"/>
<circle cx="242.77" cy="525.85" r="0.85" fill="#D59FD6" fill-opacity="0.9"/>
<circle cx="244.99" cy="526.93" r="0.85" fill="#B3174F" fill-opacity="0.9"/>
<circle cx="244.16" cy="529.23" r="0.85" fill="#F9C193" fill-opacity="0.9"/>
<circle cx="242.14" cy="526.20" r="0.85" fill="#F3AEB1" fill-opacity="0.9"/>
<circle cx="248.02" cy="525.82" r="0.85" fill="#96CFD0" fill-opacity="0.9"/>
<circle cx="246.28" cy="525.63" r="0.85" fill="#B3ABDD" fill-opacity="0.9"/>
<circle cx="230.87" cy="529.66" r="0.85" fill="#D75C60" fill-opacity="0.9"/>
<circle cx="236.93" cy="530.98" r="0.85" fill="#96CFD0" fill-opacity="0.9"/>
<circle cx="242.12" cy="527.69" r="0.85" fill="#96CFD0" fill-opacity="0.9"/>
<circle cx="238.60" cy="528.09" r="0.85" fill="#B3ABDD" fill-opacity="0.9"/>
<circle cx="231.01" cy="528.98" r="0.85" fill="#F3AEB1" fill-opacity="0.9"/>
<circle cx="234.34" cy="530.99" r="0.85" fill="#E3853E" fill-opacity="0.9"/>
<circle cx="233.90" cy="529.51" r="0.85" fill="#D59FD6" fill-opacity="0.9"/>
<circle cx="230.70" cy="530.73" r="0.85" fill="#D59FD6" fill-opacity="0.9"/>
<circle cx="241.93" cy="529.52" r="0.85" fill="#F3AEB1" fill-opacity="0.9"/>
<circle cx="236.00" cy="528.16" r="0.85" fill="#3AAD4A" fill-opacity="0.9"/>
<circle cx="231.87" cy="529.92" r="0.85" fill="#D75C60" fill-opacity="0.9"/>
<circle cx="243.49" cy="528.23" r="0.85" fill="#F9C193" fill-opacity="0.9"/>
<circle cx="235.04" cy="528.33" r="0.85" fill="#B3ABDD" fill-opacity="0.9"/>
<circle cx="233.24" cy="527.36" r="0.85" fill="#96CFD0" fill-opacity="0.9"/>
<circle cx="235.12" cy="529.97" r="0.85" fill="#A9DBA6" fill-opacity="0.9"/>
<circle cx="249.76" cy="525.96" r="0.85" fill="#E3853E" fill-opacity="0.9"/>
<text x="304.10" y="481.90" font-size="4.5" fill="#000">Cell type</text>
<rect x="305.0" y="484.20" width="3.9" height="4.4" fill="#96CFD0"/>
<text x="311.20" y="487.60" font-size="3.7" fill="#000">CD4 T</text>
<rect x="305.0" y="489.40" width="3.9" height="4.4" fill="#D59FD6"/>
<text x="311.20" y="492.80" font-size="3.7" fill="#000">Treg</text>
<rect x="305.0" y="494.60" width="3.9" height="4.4" fill="#A9DBA6"/>
<text x="311.20" y="498.00" font-size="3.7" fill="#000">CD8 T</text>
<rect x="305.0" y="499.80" width="3.9" height="4.4" fill="#D75C60"/>
<text x="311.20" y="503.20" font-size="3.7" fill="#000">gdT</text>
<rect x="305.0" y="505.00" width="3.9" height="4.4" fill="#F3AEB1"/>
<text x="311.20" y="508.40" font-size="3.7" fill="#000">MAIT</text>
<rect x="305.0" y="510.20" width="3.9" height="4.4" fill="#E9EEA3"/>
<text x="311.20" y="513.60" font-size="3.7" fill="#000">NK</text>
<rect x="305.0" y="515.40" width="3.9" height="4.4" fill="#E3853E"/>
<text x="311.20" y="518.80" font-size="3.7" fill="#000">B</text>
<rect x="305.0" y="520.60" width="3.9" height="4.4" fill="#3AAD4A"/>
<text x="311.20" y="524.00" font-size="3.7" fill="#000">Plasmablast</text>
<rect x="338.6" y="484.20" width="3.9" height="4.4" fill="#B3ABDD"/>
<text x="344.80" y="487.60" font-size="3.7" fill="#000">CD14 Mono</text>
<rect x="338.6" y="489.40" width="3.9" height="4.4" fill="#F9C193"/>
<text x="344.80" y="492.80" font-size="3.7" fill="#000">CD16 Mono</text>
<rect x="338.6" y="494.60" width="3.9" height="4.4" fill="#B3174F"/>
<text x="344.80" y="498.00" font-size="3.7" fill="#000">Int Mono</text>
<rect x="338.6" y="499.80" width="3.9" height="4.4" fill="#68A9E0"/>
<text x="344.80" y="503.20" font-size="3.7" fill="#000">cDC</text>
<rect x="338.6" y="505.00" width="3.9" height="4.4" fill="#D8E6A0"/>
<text x="344.80" y="508.40" font-size="3.7" fill="#000">pDC</text>
<rect x="338.6" y="510.20" width="3.9" height="4.4" fill="#A77DCC"/>
<text x="344.80" y="513.60" font-size="3.7" fill="#000">HSPC</text>
<rect x="338.6" y="515.40" width="3.9" height="4.4" fill="#3A68B8"/>
<text x="344.80" y="518.80" font-size="3.7" fill="#000">Neutrophils</text>
<rect x="338.6" y="520.60" width="3.9" height="4.4" fill="#111111"/>
<text x="344.80" y="524.00" font-size="3.7" fill="#000">Basophils</text>
</svg></body></html>
